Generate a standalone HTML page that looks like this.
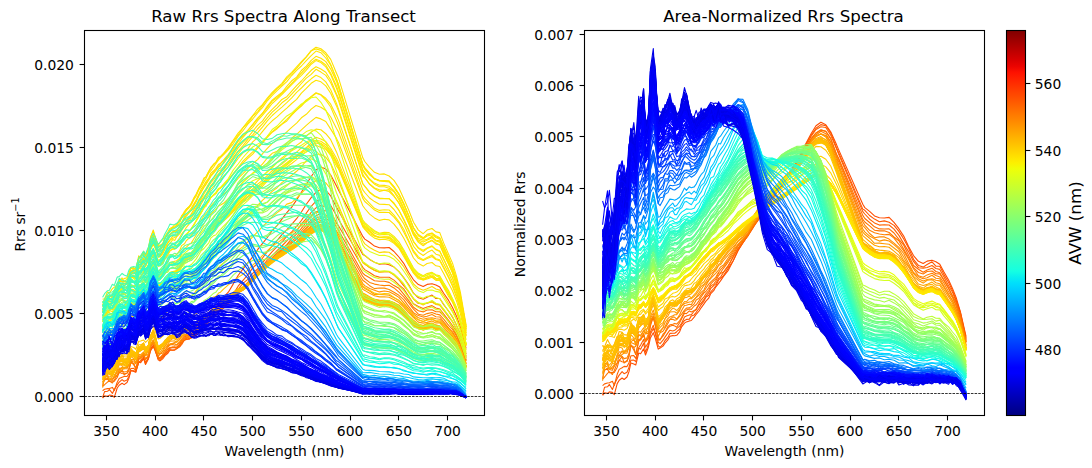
<!DOCTYPE html>
<html lang="en"><head><meta charset="utf-8"><title>Rrs spectra along transect</title>
<style>html,body{margin:0;padding:0;background:#fff}svg{display:block}</style></head>
<body>
<svg width="1092" height="468" viewBox="0 0 1092 468" font-family="'DejaVu Sans', 'Liberation Sans', sans-serif" font-size="13.89px" fill="#000">
<rect width="1092" height="468" fill="#fff"/>
<defs>
<clipPath id="cl"><rect x="84.5" y="30.5" width="400.0" height="385.0"/></clipPath>
<clipPath id="cr"><rect x="584.5" y="30.5" width="400.0" height="385.0"/></clipPath>
<linearGradient id="jet" x1="0" y1="1" x2="0" y2="0">
<stop offset="0.0000" stop-color="#000080"/>
<stop offset="0.0156" stop-color="#000092"/>
<stop offset="0.0312" stop-color="#0000a4"/>
<stop offset="0.0469" stop-color="#0000b6"/>
<stop offset="0.0625" stop-color="#0000c8"/>
<stop offset="0.0781" stop-color="#0000da"/>
<stop offset="0.0938" stop-color="#0000ec"/>
<stop offset="0.1094" stop-color="#0000fe"/>
<stop offset="0.1250" stop-color="#0000ff"/>
<stop offset="0.1406" stop-color="#0010ff"/>
<stop offset="0.1562" stop-color="#0020ff"/>
<stop offset="0.1719" stop-color="#0030ff"/>
<stop offset="0.1875" stop-color="#0040ff"/>
<stop offset="0.2031" stop-color="#0050ff"/>
<stop offset="0.2188" stop-color="#0060ff"/>
<stop offset="0.2344" stop-color="#0070ff"/>
<stop offset="0.2500" stop-color="#0080ff"/>
<stop offset="0.2656" stop-color="#008fff"/>
<stop offset="0.2812" stop-color="#009fff"/>
<stop offset="0.2969" stop-color="#00afff"/>
<stop offset="0.3125" stop-color="#00bfff"/>
<stop offset="0.3281" stop-color="#00cfff"/>
<stop offset="0.3438" stop-color="#00dffc"/>
<stop offset="0.3594" stop-color="#08efef"/>
<stop offset="0.3750" stop-color="#15ffe2"/>
<stop offset="0.3906" stop-color="#21ffd5"/>
<stop offset="0.4062" stop-color="#2effc9"/>
<stop offset="0.4219" stop-color="#3bffbc"/>
<stop offset="0.4375" stop-color="#48ffaf"/>
<stop offset="0.4531" stop-color="#55ffa2"/>
<stop offset="0.4688" stop-color="#62ff95"/>
<stop offset="0.4844" stop-color="#6fff88"/>
<stop offset="0.5000" stop-color="#7bff7b"/>
<stop offset="0.5156" stop-color="#88ff6f"/>
<stop offset="0.5312" stop-color="#95ff62"/>
<stop offset="0.5469" stop-color="#a2ff55"/>
<stop offset="0.5625" stop-color="#afff48"/>
<stop offset="0.5781" stop-color="#bcff3b"/>
<stop offset="0.5938" stop-color="#c9ff2e"/>
<stop offset="0.6094" stop-color="#d5ff21"/>
<stop offset="0.6250" stop-color="#e2ff15"/>
<stop offset="0.6406" stop-color="#effe08"/>
<stop offset="0.6562" stop-color="#fcf000"/>
<stop offset="0.6719" stop-color="#ffe100"/>
<stop offset="0.6875" stop-color="#ffd200"/>
<stop offset="0.7031" stop-color="#ffc300"/>
<stop offset="0.7188" stop-color="#ffb500"/>
<stop offset="0.7344" stop-color="#ffa600"/>
<stop offset="0.7500" stop-color="#ff9700"/>
<stop offset="0.7656" stop-color="#ff8800"/>
<stop offset="0.7812" stop-color="#ff7a00"/>
<stop offset="0.7969" stop-color="#ff6b00"/>
<stop offset="0.8125" stop-color="#ff5c00"/>
<stop offset="0.8281" stop-color="#ff4d00"/>
<stop offset="0.8438" stop-color="#ff3f00"/>
<stop offset="0.8594" stop-color="#ff3000"/>
<stop offset="0.8750" stop-color="#ff2100"/>
<stop offset="0.8906" stop-color="#fe1200"/>
<stop offset="0.9062" stop-color="#ec0400"/>
<stop offset="0.9219" stop-color="#da0000"/>
<stop offset="0.9375" stop-color="#c80000"/>
<stop offset="0.9531" stop-color="#b60000"/>
<stop offset="0.9688" stop-color="#a40000"/>
<stop offset="0.9844" stop-color="#920000"/>
<stop offset="1.0000" stop-color="#800000"/>
</linearGradient>
</defs>
<g clip-path="url(#cl)"><g transform="scale(.1)" fill="none" stroke-width="11" stroke-linejoin="round">
<path d="M1026 3980l20-21 29 4 19-12 30 4 19 19 29-94 20-28 29-19 20 13 29-21 19-43 20-77 29 9 20 9 29-101 19 6 30-41 19 52 29-67 20-78 29-44 19 45 30 94 19-9 29-16 20-25 29-28 20-30 29-7 19 2 20-4 29-30 20-42 29-32 19-9 30-9 19-4 29-28 20-24 29-28 20-27 29-33 19-24 29-26 20-37 29-24 20-31 29-31 19-21 30-38 48-52 49-81 49-86 49-66 48-60 49-61 49-71 48-61 49-61 49-70 49-49 48-64 49-65 49-56 49-72 48-76 49-80 49-78 48-65 49-31 49 21 49 60 58 109 20 40 243 465 20 27 48 32 49 38 49 16 49 2 48-4 49 40 49 55 48 63 49 89 49 76 49 48 48 19 39-21 49-7 39 13 39 21 39 61 49 72 39 71 39 84 39 110 58 214" stroke="#ff4d00"/>
<path d="M1026 3975l20-59 29-3 19-18 30 39 19-39 29-46 20-27 29-26 20 16 29-11 19-36 20-57 29-1 20 11 29-102 19 7 30-46 19 68 29-56 20-81 29-44 19 37 30 97 19 11 29-24 20-29 29-23 20-31 29-1 19 0 20-12 29-20 20-37 29-30 19-8 30-3 19-24 29-7 20-20 29-32 20-26 29-28 19-30 29-16 20-27 29-25 20-18 29-48 19-11 30-22 48-57 49-57 49-81 49-59 48-54 49-70 49-46 48-50 49-67 49-55 49-54 48-60 49-48 49-56 49-56 48-67 49-77 49-67 48-53 49-28 49 9 49 55 58 114 20 35 243 437 20 10 48 39 49 28 49 20 49-5 48 10 49 24 49 46 48 59 49 69 49 87 49 46 48 14 39-20 49-21 39 34 39 0 39 61 49 64 39 61 39 80 39 88 58 202" stroke="#ff5700"/>
<path d="M1026 3907l20-14 29-7 19-1 30-11 19 31 29-83 20-36 29-13 20-9 29 1 19-26 20-54 29-1 20 21 29-80 19-18 30-42 19 57 29-34 20-78 29-50 19 51 30 74 19 10 29-24 20-24 29-31 20-20 29 6 19-5 20-13 29-18 20-20 29-48 19-6 30-9 19-1 29-27 20-10 29-37 20-12 29-27 19-25 29-25 20-32 29-21 20-13 29-39 19-10 30-34 48-45 49-76 49-56 49-59 48-41 49-60 49-43 48-65 49-52 49-57 49-50 48-46 49-57 49-43 49-57 48-58 49-74 49-68 48-51 49-20 49 6 49 56 58 102 20 37 243 427 20 17 48 39 49 27 49 17 49-3 48 1 49 31 49 47 48 60 49 59 49 73 49 47 48 2 39-4 49-15 39 22 39 7 39 52 49 69 39 48 39 74 39 82 58 194" stroke="#ff6100"/>
<path d="M1026 3856l20-64 29-3 19 25 30-4 19 2 29-37 20-52 29 12 20 3 29-6 19-40 20-80 29 37 20 32 29-101 19-5 30-32 19 48 29-26 20-88 29-72 19 62 30 112 19-6 29-25 20-23 29-33 20-16 29-6 19 4 20 10 29-33 20-29 29-39 19 2 30-19 19 7 29-10 20-12 29-39 20-25 29-23 19-22 29-24 20-34 29-12 20-21 29-41 19-16 30-10 48-50 49-57 49-66 49-43 48-44 49-61 49-52 48-51 49-59 49-45 49-49 48-47 49-52 49-44 49-51 48-74 49-53 49-63 48-45 49-22 49 10 49 52 58 113 20 27 243 416 20 22 48 29 49 32 49 14 49 1 48 0 49 29 49 47 48 41 49 74 49 74 49 27 48 21 39-15 49-14 39 24 39 10 39 52 49 62 39 52 39 57 39 88 58 181" stroke="#ff6d00"/>
<path d="M1026 3862l20-15 29-26 19-11 30 20 19-29 29-52 20-20 29-26 20 46 29-18 19-25 20-82 29 14 20 50 29-92 19-22 30-33 19 50 29-27 20-92 29-47 19 54 30 91 19 16 29-42 20-14 29-40 20-12 29-4 19-6 20 5 29-24 20-22 29-42 19-11 30-8 19 3 29-24 20-10 29-29 20-25 29-29 19-10 29-28 20-26 29-21 20-12 29-43 19-3 30-31 48-46 49-52 49-60 49-46 48-40 49-55 49-49 48-52 49-56 49-45 49-50 48-37 49-44 49-60 49-45 48-57 49-62 49-65 48-37 49-23 49 11 49 51 58 114 20 30 243 429 20 18 48 28 49 30 49 5 49-1 48 12 49 32 49 27 48 59 49 62 49 69 49 35 48 11 39-19 49-3 39 20 39 1 39 40 49 59 39 61 39 66 39 83 58 173" stroke="#ff7500"/>
<path d="M1026 3820l20-19 29-16 19 12 30 5 19-32 29-18 20-56 29 10 20 14 29-5 19-30 20-59 29 16 20-8 29-50 19 6 30-43 19 50 29-49 20-85 29-37 19 57 30 82 19-26 29-10 20-22 29-33 20-27 29-1 19 7 20-5 29-23 20-16 29-27 19-15 30-1 19-10 29-19 20-27 29-11 20-24 29-25 19-20 29-30 20-16 29-18 20-13 29-36 19-17 30-24 48-43 49-56 49-49 49-35 48-40 49-63 49-45 48-55 49-44 49-53 49-50 48-46 49-43 49-43 49-41 48-60 49-59 49-52 48-40 49-27 49 17 49 58 58 103 20 32 243 422 20 24 48 36 49 17 49 9 49 6 48-3 49 26 49 43 48 46 49 59 49 65 49 50 48 10 39-16 49-11 39 15 39 9 39 42 49 62 39 42 39 64 39 82 58 165" stroke="#ff8000"/>
<path d="M1026 3787l20-28 29 2 19 33 30-4 19-14 29-82 20 9 29-33 20 13 29-14 19-22 20-36 29 9 20 6 29-65 19 0 30-32 19 22 29-4 20-89 29-30 19 32 30 78 19 0 29-27 20-8 29-45 20-7 29-17 19 3 20 13 29-31 20-28 29-36 19-1 30-8 19 4 29-33 20-17 29-17 20-19 29-18 19-29 29-35 20-13 29-23 20-13 29-23 19-22 30-13 48-51 49-50 49-44 49-38 48-37 49-55 49-46 48-58 49-60 49-35 49-46 48-50 49-28 49-47 49-37 48-62 49-55 49-58 48-36 49-16 49 12 49 47 58 102 20 51 243 424 20 15 48 40 49 29 49-6 49 1 48 14 49 28 49 30 48 43 49 68 49 63 49 29 48 15 39-8 49-17 39 21 39 3 39 48 49 61 39 40 39 64 39 68 58 161" stroke="#ff8a00"/>
<path d="M1026 3877l20-117 29-5 19 46 30-19 19-14 29-47 20-5 29-20 20-9 29 0 19-42 20-36 29-16 20 41 29-76 19 13 30-34 19 14 29-14 20-87 29-36 19 48 30 79 19-7 29-23 20-34 29-27 20-11 29-7 19-8 20-1 29-27 20-32 29-17 19-3 30-7 19-2 29-17 20-15 29-30 20-20 29-31 19-11 29-26 20-18 29-33 20-11 29-37 19-6 30-28 48-39 49-38 49-59 49-27 48-35 49-51 49-51 48-54 49-44 49-59 49-35 48-45 49-29 49-58 49-34 48-48 49-54 49-62 48-29 49-16 49 15 49 58 58 102 20 47 243 429 20 20 48 29 49 17 49 17 49-9 48 8 49 25 49 31 48 54 49 61 49 52 49 36 48 16 39-11 49-5 39 11 39 4 39 41 49 52 39 47 39 62 39 81 58 156" stroke="#ff9300"/>
<path d="M1026 3817l20-31 29-8 19-7 30-23 19 0 29-33 20-34 29 3 20-8 29-7 19-14 20-59 29-4 20 29 29-77 19 5 30-31 19 40 29-58 20-59 29-43 19 44 30 89 19-15 29-20 20-40 29-17 20-28 29-1 19-1 20 10 29-28 20-23 29-28 19 3 30-24 19 3 29-17 20-16 29-27 20-24 29-15 19-18 29-32 20-22 29-16 20-15 29-30 19-13 30-30 48-43 49-35 49-38 49-28 48-43 49-54 49-52 48-45 49-49 49-46 49-48 48-32 49-38 49-31 49-46 48-55 49-57 49-48 48-39 49-16 49 20 49 58 58 112 20 28 243 447 20 15 48 26 49 35 49-1 49 3 48 5 49 25 49 26 48 58 49 46 49 62 49 28 48 18 39-20 49-4 39 22 39 7 39 37 49 51 39 43 39 63 39 76 58 151" stroke="#ff9b00"/>
<path d="M1026 3835l20-48 29-43 19 55 30-40 19 4 29-60 20-55 29 7 20 32 29-32 19-10 20-80 29 21 20 10 29-74 19-18 30-18 19 48 29-22 20-109 29-74 19 71 30 123 19-26 29-14 20-24 29-42 20-11 29-21 19 5 20 11 29-22 20-32 29-34 19 0 30-10 19 14 29-25 20-15 29-30 20-25 29-16 19-26 29-20 20-24 29-11 20-17 29-41 19-1 30-29 48-44 49-36 49-45 49-25 48-38 49-50 49-48 48-50 49-48 49-47 49-40 48-47 49-21 49-39 49-40 48-44 49-63 49-42 48-37 49-12 49 24 49 46 58 116 20 25 243 461 20 11 48 29 49 25 49 11 49-2 48 5 49 26 49 28 48 46 49 55 49 50 49 44 48 10 39-7 49-15 39 20 39 0 39 45 49 55 39 36 39 58 39 71 58 147" stroke="#ffa500"/>
<path d="M1026 3745l20-23 29 9 19 12 30-11 19-21 29-29 20-47 29 9 20 5 29-25 19-12 20-54 29 2 20 10 29-53 19-8 30-19 19 16 29-25 20-62 29-52 19 38 30 89 19-19 29-21 20-14 29-34 20-12 29-19 19 2 20-18 29-3 20-8 29-35 19-13 30 1 19-7 29-20 20-18 29-24 20-16 29-32 19-9 29-24 20-17 29-21 20-23 29-19 19-17 30-27 48-36 49-44 49-31 49-15 48-48 49-50 49-43 48-52 49-53 49-36 49-45 48-25 49-44 49-40 49-24 48-47 49-60 49-42 48-36 49-11 49 12 49 57 58 117 20 42 243 456 20 11 48 28 49 26 49 6 49 4 48 4 49 19 49 23 48 47 49 60 49 44 49 40 48 15 39-20 49-5 39 18 39 11 39 35 49 49 39 39 39 65 39 65 58 153" stroke="#ffb000"/>
<path d="M1026 3637l20 28 29-32 19 18 30-2 19-21 29-52 20 5 29-31 20 42 29-6 19-41 20-48 29 35 20 15 29-75 19-7 30-36 19 71 29-49 20-89 29-46 19 51 30 94 19 0 29-27 20-27 29-37 20 4 29-27 19 13 20 0 29-15 20-18 29-38 19-5 30-10 19 8 29-32 20-7 29-25 20-18 29-22 19-14 29-27 20-26 29-16 20-9 29-37 19-5 30-29 48-40 49-28 49-35 49-25 48-36 49-61 49-41 48-53 49-41 49-42 49-55 48-28 49-23 49-35 49-43 48-40 49-47 49-50 48-28 49 0 49-1 49 66 58 113 20 40 243 466 20 8 48 38 49 15 49 14 49-11 48 11 49 23 49 27 48 37 49 61 49 53 49 33 48 7 39-8 49-6 39 16 39-3 39 43 49 52 39 34 39 60 39 69 58 144" stroke="#ffb900"/>
<path d="M1026 3733l20-3 29-59 19 33 30 14 19-27 29-47 20-41 29-2 20 15 29 14 19-2 20-101 29 38 20-2 29-90 19 5 30-24 19 54 29-37 20-93 29-52 19 56 30 94 19 0 29-33 20-23 29-33 20-20 29-11 19 2 20 4 29-15 20-25 29-45 19 4 30-2 19-12 29-14 20-11 29-24 20-35 29-13 19-17 29-21 20-18 29-16 20-25 29-32 19-5 30-19 48-43 49-44 49-44 49-6 48-23 49-67 49-52 48-48 49-55 49-35 49-47 48-32 49-30 49-30 49-37 48-48 49-47 49-43 48-31 49-10 49 11 49 62 58 119 20 35 243 468 20 16 48 23 49 19 49 10 49 6 48-1 49 12 49 40 48 48 49 53 49 54 49 29 48 9 39-12 49-5 39 14 39 15 39 31 49 48 39 37 39 56 39 70 58 149" stroke="#ffb800"/>
<path d="M1026 3803l20-56 29-19 19-1 30 31 19-37 29-50 20-34 29 0 20-11 29 13 19-33 20-51 29 4 20 25 29-84 19 1 30-25 19 43 29-40 20-85 29-45 19 49 30 87 19-3 29-33 20-19 29-17 20-43 29 0 19 9 20-8 29-15 20-40 29-18 19 4 30-17 19 1 29-30 20 1 29-20 20-33 29-21 19-15 29-16 20-36 29-23 20 2 29-46 19-1 30-38 48-26 49-42 49-36 49-10 48-42 49-54 49-41 48-53 49-56 49-40 49-31 48-35 49-38 49-23 49-37 48-48 49-55 49-37 48-31 49-12 49 19 49 53 58 115 20 29 243 472 20 13 48 17 49 25 49 29 49-17 48 7 49 24 49 35 48 41 49 55 49 53 49 22 48 15 39-6 49-16 39 17 39 5 39 39 49 49 39 41 39 59 39 62 58 145" stroke="#ffb700"/>
<path d="M1026 3740l20 8 29-36 19 13 30-15 19 0 29-65 20-1 29 1 20-23 29 7 19-26 20-58 29 18 20 27 29-104 19 4 30-28 19 56 29-43 20-91 29-55 19 68 30 96 19-22 29-7 20-33 29-38 20-22 29-5 19 19 20-14 29-10 20-28 29-39 19-2 30-9 19-14 29-3 20-14 29-20 20-23 29-21 19-19 29-21 20-27 29-18 20-12 29-30 19-8 30-32 48-41 49-32 49-30 49-34 48-26 49-48 49-59 48-43 49-46 49-46 49-41 48-41 49-32 49-24 49-26 48-54 49-52 49-39 48-32 49-14 49 26 49 66 58 99 20 40 243 468 20 12 48 26 49 17 49 16 49-7 48 4 49 25 49 30 48 42 49 50 49 55 49 25 48 22 39-14 49-11 39 19 39-1 39 38 49 59 39 42 39 48 39 62 58 144" stroke="#ffb800"/>
<path d="M1026 3737l20-41 29 16 19 31 30-15 19-27 29-63 20-37 29 6 20 18 29-5 19-22 20-67 29 22 20-16 29-59 19 12 30-28 19 46 29-27 20-99 29-50 19 38 30 114 19-7 29-22 20-31 29-38 20-21 29-16 19 15 20-11 29-15 20-23 29-19 19-11 30-15 19-6 29-10 20-18 29-22 20-21 29-22 19-24 29-22 20-21 29-16 20-20 29-31 19-3 30-36 48-31 49-44 49-33 49-17 48-45 49-49 49-42 48-54 49-56 49-40 49-37 48-30 49-34 49-33 49-30 48-41 49-66 49-34 48-26 49-6 49 0 49 69 58 112 20 31 243 481 20 10 48 27 49 14 49 16 49-1 48 6 49 17 49 40 48 29 49 63 49 47 49 40 48 11 39-11 49-14 39 22 39 2 39 47 49 44 39 38 39 52 39 69 58 145" stroke="#ffb800"/>
<path d="M1026 3642l20 6 29-48 19 25 30 30 19-10 29-52 20-48 29 6 20 16 29 3 19-34 20-23 29 0 20 23 29-67 19-9 30-29 19 52 29-24 20-94 29-65 19 73 30 104 19-22 29-25 20-27 29-17 20-34 29 6 19 5 20-3 29-22 20-28 29-27 19-3 30-9 19 2 29-20 20-1 29-26 20-33 29-11 19-22 29-24 20-22 29-16 20-25 29-11 19-25 30-31 48-26 49-47 49-27 49-24 48-36 49-48 49-45 48-49 49-56 49-30 49-40 48-37 49-32 49-30 49-24 48-56 49-42 49-47 48-33 49-10 49 15 49 66 58 102 20 39 243 473 20 13 48 24 49 17 49 4 49 4 48 19 49 2 49 41 48 41 49 51 49 51 49 28 48 24 39-18 49-9 39 7 39 20 39 30 49 54 39 38 39 54 39 73 58 132" stroke="#ffbc00"/>
<path d="M1026 3675l20-22 29-19 19 4 30 7 19-6 29-55 20-17 29 16 20 11 29-9 19-31 20-73 29 39 20 14 29-87 19 1 30-14 19 57 29-38 20-90 29-64 19 52 30 127 19-27 29-9 20-31 29-30 20-18 29-13 19 9 20-10 29-14 20-25 29-27 19 1 30-8 19 3 29-25 20-9 29-37 20-17 29-23 19-13 29-24 20-27 29-16 20-8 29-38 19-17 30-11 48-35 49-48 49-30 49-32 48-30 49-48 49-46 48-51 49-52 49-39 49-43 48-27 49-31 49-32 49-25 48-56 49-44 49-44 48-29 49-18 49 21 49 65 58 106 20 44 243 460 20 12 48 32 49 12 49 11 49 2 48 8 49 18 49 34 48 45 49 47 49 53 49 38 48 2 39-3 49-9 39 7 39 11 39 38 49 60 39 30 39 56 39 71 58 138" stroke="#ffbc00"/>
<path d="M1026 3797l20-35 29-31 19 15 30 7 19-42 29-38 20-37 29-3 20 13 29 12 19-53 20-57 29 20 20 24 29-83 19-6 30-31 19 54 29-32 20-103 29-68 19 56 30 137 19-36 29-15 20-31 29-39 20-16 29-2 19-11 20 21 29-28 20-33 29-23 19-11 30-3 19-12 29 3 20-19 29-33 20-19 29-17 19-24 29-22 20-28 29-18 20-15 29-30 19-6 30-17 48-45 49-38 49-41 49-14 48-37 49-53 49-45 48-44 49-49 49-46 49-36 48-31 49-34 49-31 49-25 48-46 49-48 49-43 48-32 49-12 49 17 49 60 58 108 20 35 243 464 20 11 48 26 49 15 49 17 49 9 48-2 49 11 49 33 48 56 49 37 49 60 49 36 48 6 39-12 49-9 39 18 39-4 39 43 49 49 39 42 39 50 39 77 58 127" stroke="#ffb900"/>
<path d="M1026 3734l20-30 29-9 19 10 30 29 19-39 29-42 20-59 29 5 20 4 29 16 19-26 20-73 29 28 20 11 29-82 19 8 30-39 19 59 29-34 20-110 29-60 19 72 30 114 19 3 29-41 20-28 29-19 20-38 29-8 19 14 20-2 29-18 20-36 29-19 19-13 30-14 19 9 29-18 20-11 29-23 20-28 29-25 19-9 29-31 20-30 29-14 20-3 29-36 19-4 30-37 48-37 49-30 49-41 49-23 48-37 49-40 49-58 48-45 49-54 49-40 49-34 48-32 49-35 49-32 49-33 48-39 49-61 49-40 48-27 49-10 49 17 49 63 58 110 20 40 243 461 20 27 48 18 49 13 49 16 49 0 48 1 49 24 49 33 48 44 49 55 49 52 49 22 48 24 39-16 49-20 39 30 39 0 39 44 49 42 39 45 39 46 39 83 58 128" stroke="#ffba00"/>
<path d="M1026 3729l20-37 29 8 19 10 30-36 19 16 29-82 20 3 29 6 20-16 29-6 19 6 20-79 29 30 20-6 29-44 19 6 30-45 19 35 29-44 20-72 29-34 19 48 30 85 19-9 29-19 20-30 29-13 20-37 29-7 19-15 20 9 29-11 20-27 29-16 19-11 30 1 19-24 29-12 20-5 29-32 20-25 29-21 19-15 29-18 20-23 29-22 20-19 29-22 19-9 30-34 48-38 49-38 49-34 49-16 48-44 49-53 49-42 48-50 49-43 49-46 49-34 48-36 49-30 49-24 49-31 48-45 49-51 49-36 48-31 49-12 49 10 49 68 58 118 20 36 243 455 20 18 48 25 49 18 49 10 49-4 48 9 49 25 49 25 48 43 49 52 49 53 49 31 48 8 39-11 49-8 39 19 39-4 39 47 49 47 39 37 39 50 39 65 58 152" stroke="#ffbd00"/>
<path d="M1026 3744l20-34 29-17 19-15 30-5 19-20 29-20 20-37 29-7 20 23 29 0 19-56 20-29 29 7 20 28 29-73 19 12 30-41 19 34 29-42 20-74 29-41 19 50 30 97 19-12 29-28 20-17 29-39 20-7 29-2 19-3 20 3 29-21 20-37 29-20 19-9 30-10 19-4 29-7 20-24 29-21 20-18 29-25 19-7 29-27 20-26 29-21 20-11 29-31 19-15 30-25 48-37 49-31 49-35 49-33 48-25 49-61 49-44 48-38 49-49 49-37 49-36 48-41 49-28 49-30 49-42 48-32 49-44 49-47 48-28 49-4 49 21 49 56 58 109 20 31 243 469 20 6 48 24 49 28 49 14 49-4 48-1 49 18 49 26 48 48 49 49 49 58 49 21 48 30 39-18 49-17 39 19 39 6 39 34 49 55 39 33 39 52 39 70 58 137" stroke="#ffbe00"/>
<path d="M1026 3773l20-60 29-35 19 4 30 24 19-33 29-20 20-44 29 8 20 0 29-1 19-37 20-33 29-8 20 34 29-70 19-13 30-17 19 38 29-39 20-85 29-55 19 55 30 97 19 1 29-34 20-22 29-32 20-22 29-9 19 15 20-1 29-28 20-29 29-29 19-9 30-6 19 2 29-14 20-8 29-29 20-23 29-27 19-16 29-23 20-23 29-20 20-14 29-32 19-9 30-19 48-44 49-35 49-47 49-12 48-33 49-63 49-41 48-44 49-46 49-43 49-36 48-24 49-49 49-18 49-35 48-45 49-48 49-28 48-36 49-9 49 13 49 62 58 109 20 36 243 468 20 18 48 18 49 21 49 17 49-8 48-1 49 26 49 32 48 36 49 57 49 57 49 22 48 9 39-5 49-9 39 13 39 9 39 46 49 36 39 46 39 52 39 63 58 134" stroke="#ffbd00"/>
<path d="M1026 3782l20-42 29-30 19 13 30-4 19-6 29-46 20-33 29-42 20 68 29-16 19-57 20-56 29 35 20 14 29-99 19-7 30-13 19 49 29-34 20-112 29-58 19 70 30 126 19-24 29-35 20-23 29-27 20-37 29 17 19-6 20 10 29-26 20-28 29-41 19 8 30-2 19 5 29-27 20-9 29-34 20-15 29-27 19-23 29-18 20-30 29-14 20-12 29-27 19-20 30-20 48-28 49-38 49-50 49-20 48-41 49-48 49-35 48-62 49-41 49-40 49-36 48-22 49-35 49-42 49-21 48-52 49-49 49-33 48-30 49-7 49 18 49 60 58 108 20 39 243 463 20 12 48 17 49 22 49 21 49-4 48-2 49 26 49 33 48 40 49 55 49 52 49 24 48 22 39-21 49-10 39 16 39 6 39 36 49 58 39 30 39 53 39 63 58 143" stroke="#ffbd00"/>
<path d="M1026 3715l20-10 29-32 19 9 30-7 19-33 29-24 20 4 29-15 20 14 29-9 19-42 20-42 29 20 20 3 29-50 19 1 30-25 19 31 29-52 20-50 29-61 19 39 30 92 19-9 29-18 20-29 29-32 20-14 29-14 19-1 20 3 29-17 20-18 29-28 19 0 30-15 19-4 29-11 20-30 29-10 20-19 29-29 19-5 29-30 20-18 29-21 20-19 29-32 19-14 30-22 48-37 49-41 49-27 49-30 48-37 49-40 49-47 48-48 49-53 49-39 49-36 48-35 49-28 49-32 49-26 48-45 49-52 49-37 48-28 49-15 49 28 49 55 58 101 20 38 243 474 20 7 48 23 49 15 49 9 49 0 48 12 49 12 49 34 48 37 49 60 49 48 49 36 48 11 39-14 49-1 39 10 39 12 39 37 49 42 39 40 39 60 39 64 58 130" stroke="#ffbe00"/>
<path d="M1026 3688l20-7 29-33 19 32 30 27 19-23 29-72 20-29 29 20 20 6 29 0 19-10 20-70 29-4 20 12 29-51 19-22 30-6 19 52 29-23 20-114 29-37 19 27 30 113 19-7 29-9 20-50 29-15 20-21 29 6 19-16 20-1 29-10 20-28 29-31 19-9 30 1 19-11 29-6 20-12 29-28 20-10 29-32 19-25 29-20 20-18 29-22 20-5 29-39 19-13 30-24 48-39 49-32 49-30 49-35 48-35 49-47 49-54 48-31 49-56 49-39 49-35 48-25 49-35 49-33 49-38 48-32 49-43 49-48 48-36 49 0 49 28 49 57 58 100 20 50 243 457 20 17 48 19 49 20 49 4 49-1 48 5 49 24 49 27 48 52 49 45 49 48 49 36 48 10 39-9 49-16 39 24 39-4 39 46 49 40 39 41 39 48 39 70 58 143" stroke="#ffc000"/>
<path d="M1026 3743l20-24 29-3 19 13 30 17 19-22 29-81 20-33 29 3 20 16 29 19 19-49 20-46 29 5 20 8 29-87 19 13 30-33 19 47 29-41 20-76 29-64 19 50 30 109 19 5 29-36 20-24 29-48 20-8 29-2 19 7 20-8 29-19 20-17 29-40 19 3 30-4 19 2 29-15 20-18 29-27 20-30 29-25 19-11 29-19 20-35 29-1 20-17 29-46 19-6 30-26 48-28 49-47 49-29 49-22 48-45 49-42 49-53 48-43 49-43 49-50 49-29 48-35 49-34 49-32 49-25 48-44 49-44 49-38 48-38 49-9 49 17 49 68 58 97 20 41 243 471 20 11 48 23 49 17 49 15 49-5 48 8 49 16 49 35 48 39 49 54 49 52 49 33 48 6 39-5 49-13 39 26 39-7 39 34 49 56 39 48 39 43 39 67 58 135" stroke="#ffbd00"/>
<path d="M1026 3679l20-13 29-10 19-12 30 39 19-36 29-41 20-15 29-15 20 19 29 6 19-57 20-36 29 9 20 26 29-72 19-2 30-28 19 32 29-11 20-82 29-40 19 69 30 70 19-18 29-26 20-16 29-38 20-19 29 4 19-10 20-3 29-10 20-13 29-41 19 2 30-4 19-6 29-13 20-23 29-24 20-22 29-20 19-8 29-28 20-27 29-11 20-32 29-15 19-8 30-31 48-33 49-40 49-37 49-23 48-39 49-41 49-48 48-50 49-42 49-48 49-29 48-33 49-30 49-26 49-35 48-42 49-42 49-41 48-27 49-5 49 11 49 68 58 105 20 36 243 462 20 18 48 17 49 19 49 14 49 10 48-9 49 17 49 47 48 34 49 42 49 58 49 29 48 13 39-9 49-18 39 18 39 4 39 46 49 47 39 32 39 48 39 71 58 131" stroke="#ffc200"/>
<path d="M1026 3682l20-31 29-31 19-1 30 1 19-8 29-49 20-29 29 19 20-4 29 1 19-37 20-48 29 10 20 18 29-81 19-2 30-10 19 24 29-28 20-102 29-27 19 41 30 81 19-6 29-24 20-38 29-20 20-24 29-11 19 14 20-20 29-14 20-23 29-19 19-18 30-7 19-1 29-35 20-7 29-25 20-23 29-29 19-19 29-23 20-27 29-21 20-4 29-35 19-8 30-30 48-43 49-37 49-38 49-31 48-42 49-50 49-42 48-52 49-49 49-48 49-29 48-36 49-41 49-23 49-33 48-45 49-48 49-42 48-40 49 3 49 25 49 55 58 115 20 44 243 493 20 17 48 27 49 29 49 13 49-8 48 3 49 35 49 34 48 36 49 63 49 46 49 45 48 17 39-13 49-10 39 16 39 1 39 39 49 49 39 53 39 56 39 77 58 160" stroke="#ffc600"/>
<path d="M1026 3496l20-38 29-28 19 13 30 4 19 7 29-64 20-13 29 3 20 8 29-16 19-39 20-27 29-21 20 17 29-55 19-6 30-34 19 34 29-30 20-83 29-60 19 64 30 76 19-16 29-19 20-33 29-30 20-24 29-7 19 6 20-8 29-25 20-33 29-36 19-4 30-6 19-10 29-28 20-29 29-29 20-22 29-27 19-28 29-28 20-25 29-22 20-26 29-25 19-20 30-24 48-42 49-39 49-45 49-38 48-47 49-51 49-50 48-51 49-45 49-53 49-43 48-33 49-52 49-15 49-44 48-48 49-53 49-37 48-38 49-5 49 28 49 61 58 126 20 41 243 571 20 14 48 32 49 31 49 18 49-6 48 1 49 32 49 43 48 49 49 80 49 67 49 36 48 25 39-23 49-6 39 24 39 8 39 51 49 55 39 58 39 73 39 98 58 177" stroke="#ffd000"/>
<path d="M1026 3416l20-25 29-42 19-9 30 11 19-26 29-37 20-22 29-4 20-11 29 2 19-32 20-62 29 8 20 4 29-44 19-30 30-22 19 33 29-45 20-99 29-43 19 50 30 82 19-17 29-24 20-44 29-14 20-21 29-25 19-6 20-8 29-29 20-34 29-21 19-14 30-14 19-26 29-35 20-18 29-46 20-21 29-42 19-16 29-27 20-30 29-20 20-19 29-44 19-15 30-32 48-35 49-57 49-43 49-45 48-47 49-48 49-61 48-51 49-44 49-46 49-37 48-51 49-36 49-37 49-40 48-48 49-57 49-42 48-23 49-1 49 31 49 63 58 123 20 49 243 600 20 31 48 36 49 27 49 24 49-7 48 3 49 37 49 49 48 59 49 84 49 89 49 43 48 20 39-15 49-23 39 25 39 11 39 54 49 82 39 71 39 79 39 94 58 221" stroke="#ffd700"/>
<path d="M1026 3264l20 20 29-25 19-10 30 8 19-27 29-66 20-46 29-1 20 27 29-11 19-50 20-61 29-5 20 20 29-82 19-23 30-57 19 59 29-40 20-121 29-51 19 59 30 95 19-8 29-33 20-32 29-42 20-23 29-22 19-3 20 0 29-38 20-20 29-52 19-29 30-21 19-7 29-34 20-22 29-55 20-35 29-26 19-35 29-36 20-32 29-16 20-28 29-27 19-23 30-20 48-51 49-45 49-54 49-55 48-46 49-46 49-51 48-43 49-53 49-47 49-44 48-43 49-36 49-43 49-46 48-34 49-60 49-40 48-29 49 7 49 39 49 60 58 122 20 52 243 631 20 24 48 43 49 39 49 24 49-10 48 4 49 38 49 55 48 78 49 92 49 92 49 52 48 24 39-21 49-12 39 24 39 11 39 69 49 78 39 81 39 85 39 118 58 246" stroke="#ffe000"/>
<path d="M1026 3295l20-42 29-21 19 22 30-12 19-27 29-65 20-48 29 30 20-11 29 29 19-54 20-73 29 29 20 10 29-113 19-9 30-39 19 58 29-74 20-88 29-54 19 30 30 110 19-2 29-39 20-26 29-40 20-24 29-6 19-13 20-1 29-24 20-35 29-55 19-8 30-22 19-18 29-33 20-18 29-56 20-33 29-35 19-27 29-27 20-32 29-24 20-9 29-42 19-6 30-18 48-41 49-50 49-48 49-48 48-32 49-48 49-37 48-41 49-53 49-42 49-33 48-27 49-40 49-35 49-39 48-42 49-37 49-38 48-26 49 22 49 17 49 62 58 107 20 29 243 578 20 26 48 51 49 36 49 15 49-4 48 11 49 31 49 46 48 85 49 82 49 84 49 57 48 12 39-11 49-16 39 31 39 0 39 72 49 88 39 59 39 87 39 114 58 235" stroke="#ffe600"/>
<path d="M1026 3313l20-37 29-9 19-35 30 23 19-35 29-55 20-18 29-24 20 26 29-10 19-49 20-69 29 9 20 16 29-115 19 6 30-26 19 44 29-50 20-110 29-55 19 49 30 81 19 2 29-26 20-34 29-37 20-37 29-9 19-5 20 20 29-53 20-38 29-49 19-5 30-11 19-28 29-30 20-21 29-51 20-40 29-37 19-20 29-25 20-48 29-3 20-23 29-26 19-20 30-19 48-39 49-50 49-55 49-38 48-45 49-43 49-38 48-41 49-49 49-46 49-31 48-33 49-39 49-42 49-36 48-41 49-30 49-41 48-30 49 11 49 43 49 51 58 102 20 41 243 578 20 28 48 50 49 29 49 12 49 3 48 8 49 39 49 52 48 66 49 105 49 76 49 50 48 25 39-19 49-17 39 31 39 8 39 63 49 75 39 76 39 90 39 118 58 229" stroke="#ffe500"/>
<path d="M1026 3261l20-10 29-47 19 12 30-33 19 19 29-74 20-17 29-8 20 11 29-16 19-13 20-53 29-20 20 28 29-101 19 4 30-40 19 32 29-51 20-79 29-48 19 34 30 66 19-9 29-27 20-23 29-31 20-15 29-32 19-6 20-2 29-36 20-31 29-33 19-23 30-21 19-7 29-45 20-28 29-48 20-22 29-38 19-21 29-39 20-28 29-28 20-17 29-27 19-10 30-22 48-47 49-42 49-58 49-41 48-39 49-42 49-47 48-47 49-36 49-40 49-45 48-32 49-34 49-32 49-49 48-29 49-49 49-32 48-31 49 16 49 34 49 57 58 100 20 40 243 596 20 14 48 42 49 40 49 22 49-7 48 5 49 39 49 49 48 79 49 87 49 93 49 48 48 26 39-23 49-11 39 20 39 13 39 62 49 85 39 67 39 94 39 112 58 238" stroke="#ffe600"/>
<path d="M1026 3323l20-43 29-29 19-28 30 19 19-44 29-39 20-20 29-9 20-22 29-5 19-38 20-64 29 18 20 5 29-69 19-15 30-32 19 35 29-73 20-54 29-66 19 35 30 76 19 0 29-32 20-29 29-31 20-31 29-16 19-4 20-17 29-19 20-37 29-34 19-24 30-24 19-19 29-32 20-29 29-43 20-35 29-39 19-25 29-26 20-31 29-16 20-15 29-37 19-10 30-19 48-51 49-40 49-61 49-47 48-46 49-30 49-45 48-38 49-56 49-45 49-39 48-25 49-36 49-38 49-36 48-38 49-40 49-50 48-22 49 8 49 35 49 57 58 109 20 46 243 586 20 18 48 44 49 48 49 15 49-3 48 1 49 36 49 64 48 67 49 77 49 100 49 49 48 28 39-22 49-20 39 35 39 3 39 67 49 76 39 74 39 87 39 124 58 234" stroke="#ffe500"/>
<path d="M1026 3346l20-8 29-53 19-30 30-25 19 2 29-36 20-56 29 22 20-17 29-32 19-29 20-35 29 3 20-19 29-72 19-8 30-49 19 43 29-40 20-115 29-41 19 40 30 83 19-22 29-20 20-42 29-31 20-35 29-8 19-3 20-1 29-37 20-41 29-55 19 6 30-26 19-26 29-40 20-22 29-49 20-21 29-44 19-30 29-38 20-20 29-24 20-22 29-34 19-6 30-17 48-50 49-40 49-61 49-45 48-40 49-41 49-46 48-39 49-51 49-46 49-37 48-29 49-43 49-41 49-35 48-43 49-40 49-31 48-36 49 18 49 26 49 67 58 100 20 43 243 599 20 28 48 40 49 39 49 17 49-4 48 3 49 38 49 59 48 71 49 82 49 100 49 48 48 25 39-18 49-24 39 27 39 22 39 60 49 91 39 66 39 93 39 121 58 236" stroke="#ffe400"/>
<path d="M1026 3286l20-70 29-36 19 19 30-26 19-20 29-53 20-38 29 2 20-6 29-25 19-14 20-86 29 21 20 1 29-99 19-5 30-31 19 43 29-69 20-106 29-72 19 62 30 120 19-28 29-31 20-31 29-43 20-34 29-11 19-8 20-4 29-23 20-50 29-47 19-17 30-30 19-12 29-46 20-33 29-45 20-25 29-43 19-34 29-32 20-30 29-26 20-22 29-34 19-9 30-17 48-47 49-44 49-60 49-61 48-42 49-48 49-46 48-43 49-62 49-47 49-21 48-38 49-42 49-49 49-40 48-44 49-46 49-41 48-38 49 15 49 26 49 76 58 93 20 41 243 632 20 28 48 56 49 38 49 25 49-11 48 6 49 43 49 61 48 77 49 95 49 105 49 56 48 25 39-26 49-10 39 33 39 7 39 69 49 99 39 74 39 100 39 126 58 266" stroke="#ffe000"/>
<path d="M1026 3152l20 24 29-61 19 12 30 19 19-40 29-76 20-14 29-14 20 1 29 18 19-50 20-77 29 2 20 24 29-97 19-15 30-43 19 35 29-51 20-105 29-47 19 41 30 84 19 3 29-45 20-29 29-40 20-39 29-11 19-4 20-11 29-39 20-51 29-19 19-32 30-27 19-27 29-36 20-20 29-70 20-22 29-46 19-20 29-40 20-35 29-33 20-20 29-28 19-15 30-21 48-48 49-52 49-62 49-47 48-49 49-51 49-40 48-58 49-55 49-49 49-34 48-34 49-47 49-45 49-43 48-53 49-35 49-52 48-36 49 17 49 33 49 65 58 114 20 36 243 664 20 31 48 41 49 45 49 23 49 0 48 1 49 47 49 59 48 90 49 95 49 106 49 61 48 21 39-18 49-21 39 30 39 12 39 75 49 95 39 86 39 107 39 126 58 268" stroke="#ffe100"/>
<path d="M1026 3221l20-54 29-24 19-39 30 13 19-34 29-45 20-39 29-17 20-9 29 0 19-44 20-75 29 4 20-4 29-80 19-8 30-55 19 30 29-43 20-114 29-60 19 40 30 98 19-4 29-36 20-45 29-43 20-29 29-19 19 2 20-9 29-43 20-24 29-55 19-11 30-36 19-20 29-42 20-42 29-46 20-37 29-44 19-26 29-52 20-24 29-32 20-14 29-42 19-12 30-27 48-53 49-60 49-62 49-63 48-47 49-46 49-50 48-44 49-60 49-49 49-39 48-38 49-46 49-49 49-44 48-50 49-51 49-28 48-39 49 18 49 51 49 69 58 138 20 50 243 699 20 27 48 49 49 50 49 21 49-6 48 2 49 51 49 65 48 77 49 109 49 105 49 62 48 29 39-24 49-24 39 37 39 12 39 71 49 96 39 81 39 101 39 141 58 273" stroke="#ffe900"/>
<path d="M1026 3190l20-38 29-44 19-10 30 0 19-33 29-65 20-24 29-41 20 1 29 27 19-44 20-47 29-6 20-15 29-61 19-15 30-48 19 17 29-47 20-89 29-63 19 39 30 75 19-13 29-18 20-42 29-36 20-39 29-20 19 2 20-26 29-20 20-45 29-40 19-16 30-32 19-29 29-48 20-29 29-57 20-24 29-50 19-28 29-31 20-42 29-22 20-15 29-43 19-14 30-32 48-50 49-56 49-57 49-55 48-48 49-42 49-61 48-50 49-56 49-53 49-35 48-44 49-33 49-58 49-50 48-40 49-53 49-45 48-37 49 19 49 37 49 59 58 117 20 45 243 695 20 26 48 55 49 36 49 27 49 1 48 3 49 48 49 69 48 73 49 113 49 113 49 59 48 33 39-29 49-25 39 41 39 12 39 83 49 94 39 87 39 99 39 147 58 286" stroke="#ffe200"/>
<path d="M1026 3175l20-4 29-56 19-8 30-27 19-9 29-93 20-16 29-21 20 0 29-9 19-37 20-83 29 5 20 6 29-94 19-1 30-56 19 34 29-53 20-110 29-40 19 22 30 92 19-20 29-40 20-30 29-36 20-33 29-21 19-4 20-13 29-42 20-37 29-35 19-33 30-36 19-23 29-42 20-45 29-42 20-45 29-49 19-11 29-54 20-34 29-30 20-18 29-39 19-7 30-36 48-47 49-63 49-67 49-56 48-40 49-70 49-44 48-59 49-60 49-48 49-39 48-46 49-42 49-46 49-41 48-63 49-47 49-51 48-31 49 16 49 41 49 74 58 126 20 52 243 724 20 30 48 60 49 37 49 24 49 0 48 0 49 53 49 63 48 97 49 105 49 110 49 70 48 31 39-29 49-22 39 34 39 18 39 75 49 105 39 83 39 114 39 146 58 291" stroke="#ffe400"/>
<path d="M1026 3109l20-28 29-36 19-12 30-4 19-38 29-53 20-10 29-43 20-16 29 4 19-43 20-61 29 8 20 13 29-107 19-17 30-41 19 35 29-60 20-98 29-61 19 43 30 85 19-2 29-34 20-44 29-38 20-17 29-38 19 8 20-37 29-28 20-35 29-41 19-20 30-37 19-26 29-44 20-39 29-57 20-35 29-38 19-24 29-54 20-32 29-36 20-29 29-38 19-6 30-33 48-48 49-68 49-61 49-59 48-57 49-56 49-40 48-55 49-62 49-54 49-43 48-41 49-44 49-48 49-55 48-44 49-50 49-42 48-36 49 24 49 43 49 79 58 136 20 57 243 747 20 22 48 59 49 39 49 23 49 4 48 1 49 44 49 73 48 88 49 101 49 126 49 59 48 26 39-22 49-23 39 35 39 17 39 85 49 103 39 78 39 116 39 144 58 298" stroke="#ffe900"/>
<path d="M1026 3120l20-45 29-22 19-2 30-15 19-16 29-82 20-35 29-8 20 6 29-19 19-52 20-66 29 15 20-6 29-95 19-19 30-53 19 62 29-69 20-113 29-64 19 29 30 111 19 7 29-50 20-33 29-57 20-26 29-20 19-8 20-12 29-37 20-37 29-53 19-27 30-22 19-29 29-48 20-33 29-63 20-28 29-50 19-28 29-50 20-32 29-32 20-24 29-31 19-20 30-23 48-55 49-67 49-64 49-54 48-62 49-46 49-58 48-51 49-61 49-57 49-42 48-51 49-35 49-51 49-54 48-53 49-54 49-37 48-51 49 28 49 33 49 73 58 125 20 54 243 757 20 14 48 67 49 41 49 29 49-13 48 14 49 49 49 65 48 95 49 109 49 117 49 74 48 34 39-31 49-20 39 35 39 5 39 97 49 97 39 87 39 125 39 148 58 311" stroke="#ffe300"/>
<path d="M1026 3120l20-1 29-82 19-6 30 0 19-18 29-66 20-18 29-59 20 11 29-6 19-37 20-72 29-16 20 26 29-86 19-7 30-65 19 27 29-77 20-75 29-53 19 37 30 63 19 7 29-49 20-32 29-40 20-28 29-36 19-15 20 0 29-42 20-41 29-34 19-27 30-32 19-32 29-51 20-34 29-53 20-32 29-48 19-33 29-52 20-28 29-31 20-31 29-36 19-8 30-30 48-58 49-63 49-72 49-56 48-47 49-63 49-59 48-43 49-68 49-50 49-46 48-53 49-27 49-56 49-55 48-46 49-55 49-52 48-35 49 22 49 33 49 77 58 140 20 41 243 762 20 34 48 63 49 40 49 17 49 8 48-9 49 61 49 73 48 87 49 109 49 117 49 69 48 31 39-18 49-24 39 30 39 20 39 79 49 113 39 85 39 114 39 157 58 298" stroke="#ffe400"/>
<path d="M1026 3011l20 27 29-65 19-7 30-3 19-53 29-32 20-60 29-5 20 26 29-13 19-48 20-70 29-8 20 18 29-101 19 8 30-33 19 13 29-69 20-100 29-56 19 33 30 82 19 5 29-30 20-37 29-64 20-18 29-27 19-11 20-11 29-25 20-48 29-50 19-22 30-36 19-17 29-53 20-33 29-63 20-30 29-53 19-24 29-49 20-35 29-33 20-25 29-37 19-13 30-21 48-60 49-65 49-68 49-69 48-55 49-45 49-66 48-53 49-57 49-62 49-43 48-45 49-50 49-50 49-51 48-43 49-51 49-60 48-36 49 20 49 43 49 77 58 137 20 54 243 772 20 27 48 63 49 43 49 25 49 0 48 15 49 35 49 80 48 97 49 106 49 128 49 73 48 20 39-19 49-24 39 32 39 11 39 91 49 111 39 95 39 109 39 154 58 312" stroke="#ffe600"/>
<path d="M1026 3101l20-17 29-76 19 5 30-48 19 3 29-73 20-35 29-29 20 31 29-47 19-22 20-56 29-6 20 1 29-81 19 1 30-71 19 28 29-54 20-102 29-75 19 51 30 82 19-25 29-16 20-41 29-43 20-33 29-31 19-9 20-6 29-41 20-35 29-46 19-27 30-34 19-27 29-56 20-31 29-64 20-33 29-44 19-33 29-46 20-36 29-35 20-23 29-35 19-25 30-27 48-55 49-60 49-83 49-52 48-54 49-55 49-60 48-56 49-58 49-65 49-34 48-42 49-49 49-53 49-52 48-51 49-52 49-52 48-33 49 20 49 37 49 82 58 127 20 60 243 778 20 26 48 67 49 41 49 21 49 2 48 9 49 44 49 68 48 103 49 118 49 123 49 67 48 17 39-11 49-29 39 40 39 6 39 86 49 117 39 87 39 116 39 155 58 316" stroke="#ffe500"/>
<path d="M1026 3115l20-1 29-95 19-6 30 4 19-29 29-89 20-27 29-28 20-9 29 11 19-52 20-72 29 6 20 11 29-106 19-25 30-28 19 38 29-74 20-111 29-77 19 57 30 102 19-15 29-41 20-36 29-41 20-40 29-25 19-11 20 10 29-56 20-29 29-70 19-22 30-33 19-26 29-48 20-31 29-64 20-44 29-42 19-32 29-39 20-49 29-23 20-22 29-43 19-9 30-32 48-59 49-68 49-64 49-67 48-40 49-61 49-62 48-46 49-74 49-59 49-39 48-38 49-61 49-56 49-37 48-66 49-43 49-59 48-40 49 19 49 34 49 75 58 123 20 61 243 773 20 35 48 55 49 51 49 13 49 9 48 4 49 54 49 71 48 94 49 117 49 128 49 66 48 33 39-34 49-14 39 39 39 12 39 89 49 112 39 92 39 123 39 157 58 315" stroke="#ffe100"/>
<path d="M1026 2993l20-5 29-70 19 14 30-46 19-13 29-28 20-38 29-9 20-12 29-9 19-47 20-55 29 13 20-3 29-106 19-14 30-34 19 31 29-63 20-103 29-47 19 22 30 98 19-16 29-16 20-56 29-54 20-8 29-48 19-2 20-6 29-33 20-52 29-46 19-26 30-32 19-24 29-61 20-28 29-67 20-25 29-52 19-30 29-59 20-21 29-37 20-32 29-38 19-23 30-29 48-50 49-60 49-74 49-57 48-66 49-51 49-60 48-54 49-68 49-55 49-46 48-45 49-46 49-61 49-52 48-43 49-53 49-50 48-46 49 16 49 53 49 71 58 142 20 55 243 792 20 35 48 57 49 53 49 22 49-1 48 2 49 58 49 72 48 96 49 117 49 129 49 75 48 31 39-37 49-16 39 23 39 22 39 92 49 106 39 101 39 118 39 153 58 322" stroke="#ffe600"/>
<path d="M1026 3068l20-77 29-36 19 21 30-29 19-45 29-21 20-64 29-38 20 39 29-26 19-31 20-83 29 22 20-3 29-106 19-24 30-51 19 37 29-71 20-108 29-65 19 59 30 89 19-35 29-28 20-30 29-46 20-34 29-15 19-22 20 2 29-41 20-51 29-29 19-38 30-23 19-32 29-56 20-36 29-61 20-34 29-53 19-27 29-52 20-32 29-44 20-15 29-52 19-8 30-32 48-59 49-72 49-71 49-55 48-63 49-57 49-64 48-46 49-66 49-57 49-47 48-43 49-65 49-45 49-54 48-52 49-50 49-60 48-18 49 15 49 44 49 97 58 146 20 59 243 805 20 37 48 56 49 39 49 23 49 4 48 6 49 57 49 69 48 100 49 114 49 123 49 75 48 29 39-27 49-12 39 27 39 17 39 85 49 111 39 97 39 111 39 166 58 309" stroke="#ffe900"/>
<path d="M1026 3050l20-48 29-27 19-20 30 4 19-43 29-61 20-42 29 2 20 1 29 3 19-60 20-77 29-6 20 31 29-148 19 15 30-62 19 50 29-37 20-142 29-83 19 82 30 86 19 0 29-41 20-47 29-35 20-49 29-18 19-6 20-21 29-58 20-22 29-58 19-21 30-30 19-30 29-59 20-31 29-63 20-35 29-63 19-11 29-57 20-38 29-30 20-18 29-41 19-16 30-32 48-49 49-76 49-61 49-75 48-46 49-69 49-44 48-64 49-62 49-57 49-50 48-38 49-61 49-50 49-53 48-56 49-55 49-64 48-35 49 15 49 40 49 66 58 138 20 46 243 800 20 37 48 58 49 50 49 19 49-3 48 21 49 44 49 75 48 106 49 112 49 126 49 78 48 36 39-36 49-16 39 34 39 7 39 105 49 111 39 89 39 128 39 160 58 330" stroke="#ffe100"/>
<path d="M1026 3120l20-32 29-42 19-10 30 3 19-43 29-50 20-46 29-8 20 9 29 7 19-41 20-52 29-35 20 36 29-94 19-23 30-19 19 28 29-61 20-94 29-54 19 33 30 69 19-4 29-23 20-31 29-25 20-41 29-15 19 6 20-16 29-27 20-28 29-39 19-20 30-25 19-28 29-42 20-31 29-47 20-33 29-57 19-9 29-58 20-30 29-31 20-21 29-42 19-10 30-32 48-57 49-84 49-61 49-65 48-54 49-51 49-29 48-27 49-51 49-68 49-35 48-52 49-49 49-28 49-48 48-44 49-24 49-38 48-7 49 53 49 79 49 116 58 185 20 58 243 754 20 25 48 41 49 37 49 19 49-4 48 8 49 36 49 67 48 58 49 96 49 96 49 42 48 28 39-15 49-19 39 25 39 17 39 65 49 86 39 67 39 89 39 118 58 245" stroke="#e6ff10"/>
<path d="M1026 3269l20-8 29-57 19 24 30-38 19-14 29-109 20 20 29-15 20-19 29-8 19-2 20-85 29-7 20 26 29-104 19-5 30-39 19 28 29-53 20-88 29-84 19 59 30 82 19-21 29-19 20-40 29-22 20-27 29-13 19-2 20-4 29-28 20-38 29-25 19-17 30-23 19-22 29-37 20-31 29-33 20-40 29-37 19-26 29-41 20-22 29-40 20-21 29-30 19-20 30-38 48-49 49-59 49-70 49-58 48-48 49-36 49-26 48-37 49-40 49-45 49-45 48-44 49-37 49-46 49-31 48-31 49-38 49-18 48 11 49 43 49 70 49 114 58 177 20 59 243 679 20 28 48 35 49 20 49 21 49-3 48 13 49 28 49 49 48 68 49 73 49 80 49 44 48 19 39-24 49-1 39 13 39 7 39 61 49 77 39 60 39 77 39 111 58 211" stroke="#e1ff15"/>
<path d="M1026 3281l20-25 29-43 19-16 30-17 19-18 29-62 20-22 29 6 20-27 29 0 19-15 20-81 29 14 20 8 29-97 19 25 30-49 19 12 29-43 20-85 29-71 19 44 30 89 19-13 29-34 20-34 29-6 20-36 29-9 19 7 20-15 29-17 20-33 29-48 19-9 30-22 19-15 29-35 20-30 29-32 20-34 29-44 19-17 29-40 20-39 29-29 20-12 29-35 19-20 30-28 48-54 49-62 49-72 49-49 48-47 49-38 49-20 48-29 49-37 49-42 49-52 48-32 49-41 49-47 49-27 48-28 49-33 49-22 48 12 49 35 49 81 49 114 58 177 20 56 243 662 20 18 48 39 49 33 49 14 49-8 48 3 49 36 49 48 48 62 49 77 49 81 49 27 48 18 39-20 49 1 39 11 39 14 39 52 49 74 39 50 39 87 39 90 58 201" stroke="#ddff1a"/>
<path d="M1026 3322l20-37 29-34 19 6 30 6 19-52 29-63 20-15 29-23 20 29 29-28 19-32 20-25 29-3 20-8 29-83 19-18 30-34 19 24 29-50 20-84 29-52 19 32 30 70 19-11 29-18 20-34 29-21 20-34 29-2 19-5 20 1 29-26 20-28 29-32 19-11 30-18 19-23 29-36 20-28 29-45 20-20 29-28 19-34 29-29 20-32 29-40 20-18 29-30 19-13 30-32 48-54 49-69 49-61 49-50 48-43 49-33 49-27 48-28 49-20 49-48 49-56 48-34 49-40 49-38 49-35 48-20 49-26 49-27 48 20 49 49 49 67 49 131 58 169 20 46 243 646 20 10 48 34 49 23 49 26 49-4 48 3 49 28 49 43 48 54 49 75 49 72 49 46 48 6 39-7 49-24 39 27 39 11 39 49 49 65 39 57 39 76 39 83 58 184" stroke="#daff1c"/>
<path d="M1026 3297l20-27 29-19 19 14 30-11 19-24 29-76 20-5 29-18 20 22 29-19 19-46 20-49 29 5 20 6 29-84 19-6 30-62 19 58 29-44 20-124 29-51 19 64 30 86 19-7 29-37 20-16 29-29 20-27 29-6 19 14 20-11 29-23 20-40 29-44 19 9 30-13 19-11 29-32 20-25 29-46 20-35 29-23 19-23 29-34 20-47 29-25 20-6 29-37 19-19 30-33 48-46 49-62 49-71 49-34 48-42 49-50 49-18 48-17 49-31 49-42 49-49 48-43 49-41 49-29 49-31 48-25 49-12 49-31 48 23 49 47 49 82 49 118 58 173 20 47 243 624 20 14 48 33 49 26 49 13 49 6 48-2 49 31 49 39 48 46 49 70 49 67 49 32 48 25 39-15 49-16 39 26 39 2 39 60 49 58 39 52 39 56 39 90 58 175" stroke="#d5ff22"/>
<path d="M1026 3409l20-56 29-15 19-5 30 5 19-49 29-51 20-52 29-7 20 24 29 10 19-48 20-66 29 24 20-10 29-91 19-18 30-25 19 33 29-60 20-95 29-43 19 35 30 99 19-11 29-19 20-32 29-19 20-25 29 1 19 0 20-5 29-12 20-35 29-25 19-12 30-10 19-16 29-16 20-33 29-25 20-36 29-39 19-21 29-26 20-31 29-34 20-10 29-48 19-5 30-32 48-60 49-50 49-72 49-53 48-38 49-30 49-5 48-17 49-24 49-52 49-46 48-28 49-40 49-38 49-19 48-10 49-15 49-13 48 31 49 54 49 97 49 131 58 192 20 53 243 627 20 9 48 24 49 16 49 26 49-14 48-1 49 25 49 32 48 40 49 58 49 55 49 25 48 26 39-17 49-10 39 19 39 2 39 42 49 37 39 48 39 42 39 87 58 144" stroke="#bdff39"/>
<path d="M1026 3383l20-38 29-24 19-5 30 0 19-21 29-67 20-32 29 11 20 17 29 1 19-51 20-80 29 11 20 26 29-104 19-4 30-52 19 61 29-49 20-100 29-60 19 30 30 122 19-18 29-16 20-37 29-30 20-5 29 13 19-16 20 1 29-7 20-35 29-34 19 5 30-25 19-6 29-25 20-14 29-40 20-28 29-38 19-15 29-47 20-25 29-10 20-40 29-31 19-7 30-32 48-53 49-58 49-76 49-35 48-46 49-37 49-6 48-12 49-19 49-47 49-45 48-41 49-21 49-27 49-30 48-17 49-9 49-7 48 23 49 68 49 90 49 144 58 201 20 54 243 594 20 17 48 20 49 18 49 19 49-11 48 9 49 17 49 28 48 47 49 47 49 57 49 19 48 7 39-3 49-5 39 22 39-9 39 37 49 50 39 46 39 47 39 68 58 132" stroke="#b7ff3f"/>
<path d="M1026 3309l20-23 29-44 19 2 30 28 19-33 29-50 20-45 29 7 20 34 29 2 19-64 20-31 29 1 20 22 29-111 19 2 30-37 19 58 29-54 20-110 29-53 19 61 30 72 19 6 29-12 20-33 29-17 20-18 29-2 19 3 20 4 29-11 20-39 29-24 19-18 30-3 19-7 29-23 20-27 29-28 20-23 29-39 19-6 29-46 20-33 29-21 20-28 29-35 19-8 30-27 48-51 49-71 49-72 49-28 48-56 49-33 49 7 48-4 49-36 49-33 49-47 48-41 49-36 49-32 49-13 48-20 49-10 49-7 48 42 49 67 49 101 49 133 58 204 20 62 243 593 20 11 48 19 49 20 49 15 49-7 48 13 49 11 49 38 48 32 49 45 49 61 49 13 48 17 39-5 49-15 39 23 39-1 39 35 49 41 39 42 39 54 39 53 58 130" stroke="#b0ff47"/>
<path d="M1026 3371l20-3 29-84 19 40 30-40 19 0 29-64 20-17 29-16 20 18 29-12 19-26 20-54 29-5 20 32 29-101 19-2 30-25 19 20 29-38 20-104 29-32 19 32 30 75 19 9 29-36 20-11 29-37 20-18 29 7 19 14 20-11 29-17 20-24 29-22 19-3 30-15 19-5 29-41 20-6 29-37 20-28 29-26 19-27 29-35 20-27 29-27 20-28 29-33 19-4 30-34 48-53 49-68 49-66 49-44 48-41 49-36 49-5 48-1 49-22 49-42 49-49 48-42 49-42 49-20 49-15 48-8 49-17 49-14 48 46 49 74 49 103 49 159 58 197 20 55 243 604 20 18 48 19 49 13 49 6 49 14 48-17 49 24 49 27 48 47 49 45 49 52 49 11 48 19 39-14 49-14 39 19 39 4 39 32 49 44 39 36 39 51 39 49 58 131" stroke="#aaff4d"/>
<path d="M1026 3321l20-28 29-27 19 9 30-36 19-19 29-70 20 16 29-32 20-3 29 40 19-60 20-25 29-21 20-4 29-61 19-17 30-29 19 21 29-52 20-70 29-47 19 28 30 64 19 12 29-28 20-15 29-29 20-18 29 0 19-3 20 15 29-20 20-16 29-32 19-8 30-10 19-5 29-33 20-19 29-42 20-21 29-41 19-19 29-24 20-39 29-22 20-33 29-41 19-7 30-35 48-44 49-80 49-73 49-52 48-44 49-30 49 7 48-11 49-19 49-51 49-56 48-37 49-28 49-25 49-27 48-17 49-6 49-3 48 41 49 78 49 123 49 166 58 220 20 67 243 640 20 7 48 19 49 23 49 7 49 7 48-6 49 16 49 25 48 43 49 45 49 39 49 31 48 10 39-16 49 9 39-2 39 18 39 24 49 40 39 43 39 42 39 49 58 127" stroke="#a2ff55"/>
<path d="M1026 3254l20-40 29-47 19 5 30-20 19 4 29-60 20-27 29 1 20 3 29 16 19-48 20-33 29 13 20-7 29-95 19 2 30-40 19 35 29-51 20-88 29-54 19 53 30 52 19 1 29-6 20-37 29-13 20-22 29 15 19-14 20 12 29-3 20-38 29-20 19-3 30-15 19 1 29-42 20-17 29-38 20-36 29-28 19-21 29-36 20-36 29-35 20-15 29-39 19-26 30-30 48-72 49-66 49-75 49-59 48-45 49-30 49 5 48-1 49-31 49-38 49-61 48-42 49-28 49-30 49-27 48-3 49-11 49-10 48 69 49 81 49 131 49 184 58 240 20 71 243 672 20 23 48 15 49 21 49 3 49 0 48-1 49 21 49 24 48 41 49 37 49 54 49 21 48 10 39-5 49-9 39 14 39 5 39 34 49 39 39 31 39 48 39 56 58 119" stroke="#98ff5f"/>
<path d="M1026 3211l20-30 29-44 19 13 30-5 19-26 29-53 20-13 29-33 20 1 29 10 19-29 20-62 29-1 20 4 29-100 19 9 30-56 19 30 29-49 20-91 29-48 19 31 30 64 19-12 29-3 20-29 29-22 20-20 29 0 19 2 20-4 29-6 20-30 29-19 19-9 30-21 19-8 29-42 20-28 29-35 20-32 29-40 19-29 29-46 20-38 29-32 20-27 29-49 19-27 30-36 48-75 49-81 49-94 49-62 48-62 49-41 49-9 48 3 49-39 49-59 49-59 48-52 49-34 49-32 49-28 48-13 49 2 49-29 48 59 49 85 49 142 49 202 58 268 20 82 243 793 20 22 48 18 49 19 49 12 49 2 48 2 49 20 49 31 48 47 49 45 49 64 49 25 48 2 39-4 49-9 39 15 39 1 39 38 49 60 39 41 39 49 39 69 58 138" stroke="#a5ff52"/>
<path d="M1026 3514l20 6 29-57 19 3 30 7 19-6 29-45 20 0 29-20 20 7 29 1 19-20 20-43 29 15 20 4 29-75 19-18 30-20 19 45 29-38 20-76 29-45 19 49 30 67 19-9 29-24 20-14 29-15 20-19 29 13 19-7 20 7 29-7 20-32 29-6 19-6 30-8 19-7 29-13 20-5 29-37 20-21 29-38 19-11 29-19 20-18 29-27 20-9 29-38 19-10 30-21 48-44 49-59 49-43 49-41 48-38 49-24 49-8 48 2 49-10 49-36 49-34 48-43 49-15 49-15 49-18 48-7 49-9 49-6 48 30 49 58 49 77 49 126 58 167 20 45 243 464 20 15 48 15 49 12 49-3 49 2 48 3 49 18 49 18 48 18 49 38 49 34 49 7 48 14 39-15 49-1 39 17 39-9 39 30 49 35 39 16 39 33 39 32 58 84" stroke="#a2ff54"/>
<path d="M1026 3468l20 2 29-57 19 40 30-17 19-7 29-67 20-15 29 4 20-13 29 23 19-7 20-76 29 18 20 15 29-91 19-11 30-41 19 53 29-30 20-102 29-60 19 56 30 68 19-6 29-8 20-25 29-9 20-17 29 4 19-2 20-2 29-3 20-31 29-6 19-12 30-2 19-18 29-6 20-24 29-15 20-34 29-29 19-16 29-16 20-41 29-24 20-20 29-30 19-1 30-34 48-45 49-59 49-64 49-51 48-26 49-25 49 10 48-9 49-7 49-45 49-47 48-35 49-21 49-27 49-13 48-2 49-4 49-4 48 39 49 64 49 99 49 137 58 187 20 59 243 517 20-5 48 24 49 16 49 7 49-4 48 6 49 5 49 19 48 24 49 41 49 31 49 22 48 6 39-10 49-4 39 9 39 1 39 19 49 34 39 17 39 41 39 38 58 86" stroke="#98ff5e"/>
<path d="M1026 3364l20-21 29-26 19-5 30 5 19-7 29-82 20-16 29-22 20 19 29-5 19-26 20-73 29 19 20 15 29-93 19-35 30-37 19 61 29-55 20-104 29-57 19 39 30 91 19 2 29-9 20-30 29-36 20 0 29-13 19 17 20-2 29-13 20-16 29-37 19-20 30 9 19-9 29-19 20-21 29-40 20-28 29-42 19-12 29-35 20-31 29-23 20-21 29-53 19-1 30-49 48-52 49-73 49-78 49-44 48-46 49-27 49 1 48-8 49-27 49-44 49-43 48-42 49-35 49-25 49-17 48-10 49-1 49-5 48 50 49 79 49 125 49 180 58 225 20 68 243 636 20 23 48 15 49 16 49-1 49 8 48-3 49 15 49 36 48 21 49 40 49 45 49 21 48 8 39-11 49-5 39 9 39 1 39 36 49 29 39 38 39 37 39 49 58 109" stroke="#96ff61"/>
<path d="M1026 3218l20-54 29-17 19-1 30-16 19-19 29-66 20-48 29 3 20 16 29 11 19-63 20-45 29-1 20 21 29-109 19-23 30-46 19 40 29-52 20-99 29-55 19 19 30 106 19-24 29-8 20-20 29-32 20-12 29-5 19 13 20-7 29-21 20-16 29-45 19 6 30-14 19 1 29-28 20-46 29-40 20-30 29-26 19-38 29-44 20-36 29-35 20-22 29-52 19-14 30-45 48-70 49-90 49-95 49-59 48-52 49-37 49 8 48 0 49-33 49-53 49-65 48-51 49-38 49-34 49-22 48 0 49-8 49-9 48 77 49 90 49 154 49 219 58 282 20 85 243 784 20 10 48 21 49 15 49 2 49 9 48 3 49 17 49 33 48 33 49 52 49 40 49 41 48 1 39-7 49-10 39 14 39 4 39 46 49 40 39 37 39 41 39 64 58 125" stroke="#92ff64"/>
<path d="M1026 3453l20 24 29-50 19 7 30-11 19-35 29-33 20-25 29 5 20 0 29 2 19-61 20-13 29-2 20-8 29-83 19 16 30-38 19 15 29-42 20-61 29-40 19 22 30 48 19 0 29-20 20-11 29-17 20-17 29 2 19 2 20 8 29-15 20-24 29-18 19-3 30-15 19-7 29-18 20-13 29-40 20-30 29-11 19-17 29-34 20-26 29-23 20-19 29-44 19-14 30-31 48-42 49-62 49-60 49-53 48-33 49-30 49 6 48 9 49-19 49-52 49-45 48-37 49-22 49-20 49-17 48-2 49-10 49-1 48 52 49 66 49 111 49 153 58 200 20 56 243 546 20 0 48 22 49 25 49 3 49-5 48 3 49 8 49 25 48 25 49 29 49 35 49 16 48 13 39-14 49-2 39 12 39 6 39 22 49 29 39 29 39 31 39 44 58 84" stroke="#93ff64"/>
<path d="M1026 3296l20-44 29 29 19-32 30 8 19-13 29-57 20-6 29 12 20-7 29-2 19-51 20-20 29 9 20 15 29-91 19-13 30-40 19 47 29-48 20-68 29-64 19 46 30 77 19-34 29-9 20-17 29-16 20-4 29-15 19 19 20-16 29-3 20-6 29-38 19-13 30 5 19-14 29-17 20-16 29-23 20-45 29-22 19-26 29-26 20-30 29-37 20-14 29-37 19-11 30-38 48-54 49-66 49-72 49-58 48-28 49-35 49 5 48 1 49-15 49-49 49-38 48-59 49-34 49-10 49-20 48-4 49-3 49 1 48 53 49 83 49 120 49 167 58 230 20 69 243 613 20 5 48 8 49 19 49 10 49 3 48 1 49 19 49 18 48 22 49 44 49 42 49 18 48-5 39-5 49-2 39 8 39 6 39 24 49 34 39 40 39 31 39 45 58 93" stroke="#8dff69"/>
<path d="M1026 3261l20 26 29-80 19-14 30-4 19-39 29-42 20-8 29-39 20-6 29 15 19-20 20-65 29-15 20 0 29-89 19-14 30-44 19 47 29-88 20-67 29-57 19 40 30 62 19-10 29-32 20-23 29-19 20-26 29 9 19-4 20 6 29-28 20-12 29-32 19-14 30 8 19-35 29-20 20-19 29-31 20-37 29-28 19-39 29-40 20-43 29-24 20-33 29-44 19-24 30-28 48-62 49-88 49-77 49-64 48-43 49-38 49 17 48 5 49-11 49-45 49-56 48-49 49-36 49-22 49-6 48-12 49 9 49-4 48 79 49 98 49 157 49 197 58 276 20 77 243 723 20 13 48 21 49 12 49 14 49 0 48 2 49 12 49 27 48 37 49 37 49 46 49 26 48 0 39-8 49-4 39 14 39 10 39 27 49 37 39 28 39 48 39 50 58 121" stroke="#83ff74"/>
<path d="M1026 3468l20-39 29-24 19 24 30-13 19-23 29-51 20-46 29 39 20 7 29 7 19-22 20-51 29 9 20-1 29-76 19-17 30-24 19 43 29-28 20-93 29-58 19 43 30 80 19 16 29-33 20-30 29-17 20-4 29 2 19 8 20-1 29-14 20-23 29-27 19 6 30 0 19-1 29-16 20-22 29-31 20-34 29-15 19-14 29-35 20-15 29-24 20-20 29-32 19-7 30-22 48-46 49-57 49-53 49-38 48-19 49-24 49 2 48 11 49-6 49-26 49-34 48-37 49-21 49-18 49-14 48-2 49 8 49 0 48 50 49 72 49 97 49 132 58 177 20 56 243 480 20 16 48 7 49 13 49-1 49 8 48-12 49 17 49 17 48 29 49 22 49 27 49 11 48 18 39-9 49-7 39 10 39 5 39 13 49 31 39 19 39 26 39 40 58 67" stroke="#80ff77"/>
<path d="M1026 3180l20-58 29-62 19 47 30-36 19-21 29-27 20 6 29-44 20 26 29 12 19-49 20-25 29-16 20 21 29-86 19 1 30-46 19 34 29-48 20-90 29-43 19 30 30 59 19 4 29-5 20-34 29-24 20-22 29-5 19 5 20 8 29-20 20-7 29-41 19-2 30-12 19-5 29-30 20-17 29-44 20-17 29-48 19-23 29-46 20-21 29-32 20-26 29-41 19-17 30-32 48-68 49-74 49-82 49-52 48-50 49-23 49 18 48 2 49-24 49-34 49-49 48-48 49-30 49-33 49-5 48-4 49 3 49-5 48 87 49 104 49 138 49 187 58 263 20 80 243 692 20 13 48 11 49 28 49 2 49-6 48 15 49 8 49 24 48 34 49 28 49 51 49 22 48 12 39-16 49-1 39 6 39 11 39 30 49 27 39 42 39 31 39 57 58 103" stroke="#80ff77"/>
<path d="M1026 3470l20-56 29-24 19 7 30-8 19-18 29-31 20-29 29-23 20 27 29-14 19 2 20-46 29-9 20 2 29-58 19-23 30-35 19 33 29-26 20-76 29-29 19 18 30 65 19-15 29 1 20-24 29-20 20-28 29 19 19-5 20-19 29-5 20-6 29-30 19-11 30-3 19-1 29-15 20-24 29-24 20-25 29-24 19-13 29-38 20-15 29-26 20-12 29-35 19-11 30-24 48-56 49-54 49-54 49-36 48-28 49-17 49 11 48 26 49-18 49-18 49-40 48-31 49-10 49-19 49-6 48 0 49-1 49 11 48 54 49 75 49 109 49 134 58 180 20 50 243 495 20-1 48 21 49 16 49 1 49-3 48 5 49 9 49 12 48 33 49 20 49 28 49 19 48 2 39-5 49-4 39 2 39 8 39 28 49 26 39 18 39 20 39 36 58 82" stroke="#76ff81"/>
<path d="M1026 3414l20-11 29-75 19 22 30-10 19-15 29-49 20-13 29-25 20 49 29-10 19-26 20-52 29 4 20 21 29-97 19-10 30-30 19 36 29-24 20-81 29-57 19 34 30 58 19 12 29-28 20-23 29-31 20-3 29-6 19 11 20 5 29-14 20-22 29-39 19 2 30-2 19-5 29-16 20-20 29-30 20-26 29-29 19-6 29-40 20-32 29-10 20-23 29-37 19-16 30-25 48-49 49-57 49-56 49-32 48-34 49-22 49 9 48 21 49-18 49-27 49-30 48-36 49-11 49-20 49 1 48-6 49 1 49 5 48 64 49 83 49 116 49 138 58 200 20 48 243 525 20 12 48 14 49 9 49 6 49-4 48 5 49 5 49 34 48 24 49 10 49 35 49 12 48 7 39-7 49-3 39 16 39-3 39 23 49 25 39 27 39 26 39 29 58 80" stroke="#75ff81"/>
<path d="M1026 3126l20-12 29-47 19-7 30-6 19-3 29-85 20-25 29-5 20 12 29 12 19-54 20-62 29 16 20 9 29-114 19-14 30-53 19 63 29-57 20-128 29-45 19 33 30 105 19-1 29-20 20-47 29-24 20-22 29 0 19-12 20 8 29-21 20-29 29-33 19-7 30-11 19-4 29-15 20-42 29-40 20-30 29-47 19-13 29-35 20-59 29-27 20-17 29-55 19-23 30-31 48-86 49-72 49-76 49-56 48-39 49-33 49 18 48 13 49-9 49-36 49-46 48-41 49-27 49-24 49-15 48 8 49 1 49 23 48 70 49 134 49 170 49 202 58 272 20 77 243 746 20 11 48 24 49 17 49 5 49 11 48-8 49 13 49 34 48 32 49 39 49 46 49 14 48 12 39-5 49-7 39 9 39 0 39 33 49 37 39 40 39 30 39 56 58 114" stroke="#73ff84"/>
<path d="M1026 3303l20-42 29 5 19-5 30-20 19-32 29-54 20-26 29-25 20 27 29 6 19-20 20-67 29 7 20 8 29-75 19-20 30-47 19 57 29-33 20-112 29-48 19 43 30 77 19-31 29 1 20-21 29-31 20-25 29 2 19 3 20-4 29-12 20-24 29-26 19-1 30-15 19 0 29-35 20-9 29-38 20-17 29-40 19-18 29-49 20-22 29-30 20-11 29-42 19-20 30-28 48-62 49-70 49-68 49-41 48-36 49-20 49 9 48 28 49-19 49-33 49-35 48-41 49-19 49-7 49-22 48 10 49 3 49 3 48 78 49 97 49 136 49 163 58 228 20 63 243 612 20 11 48 17 49 7 49 12 49 0 48 0 49 16 49 14 48 36 49 27 49 38 49 21 48 1 39-3 49-7 39 12 39 3 39 25 49 31 39 24 39 35 39 44 58 86" stroke="#74ff83"/>
<path d="M1026 3333l20-35 29-42 19 12 30-32 19 14 29-68 20-22 29 16 20-11 29 5 19-17 20-79 29 20 20 17 29-75 19-11 30-46 19 35 29-30 20-85 29-48 19 30 30 68 19-5 29-31 20-28 29-20 20-4 29-19 19-1 20 4 29-18 20-19 29-17 19-2 30-25 19-1 29-27 20-14 29-33 20-32 29-18 19-27 29-28 20-34 29-28 20-22 29-35 19-8 30-38 48-58 49-61 49-57 49-46 48-32 49-12 49 12 48 18 49-6 49-24 49-42 48-33 49-12 49-15 49 2 48-1 49-1 49 11 48 64 49 103 49 130 49 150 58 217 20 60 243 580 20 12 48 13 49 12 49 6 49 6 48-8 49 21 49 9 48 30 49 28 49 39 49 9 48 7 39-8 49 5 39 7 39-3 39 29 49 29 39 11 39 45 39 31 58 89" stroke="#6eff89"/>
<path d="M1026 3282l20-46 29-31 19-25 30 18 19-24 29-63 20-43 29 7 20 10 29-15 19-26 20-45 29-6 20 7 29-89 19-12 30-34 19 28 29-48 20-92 29-49 19 41 30 64 19-13 29-32 20-24 29-44 20-8 29-14 19 8 20 2 29-25 20-23 29-28 19-8 30-9 19-6 29-29 20-24 29-39 20-5 29-54 19-27 29-39 20-27 29-32 20-18 29-44 19-20 30-28 48-67 49-69 49-69 49-40 48-35 49-20 49 9 48 33 49-17 49-25 49-35 48-22 49-30 49-10 49 6 48-9 49 12 49 16 48 71 49 139 49 133 49 180 58 239 20 73 243 651 20 12 48 10 49 16 49 9 49-1 48 2 49 11 49 22 48 26 49 34 49 35 49 21 48 5 39-12 49 1 39 9 39-1 39 33 49 37 39 20 39 26 39 54 58 87" stroke="#67ff90"/>
<path d="M1026 3099l20-54 29-24 19 26 30-24 19-10 29-72 20-4 29 25 20 6 29-3 19-42 20-60 29 2 20 35 29-109 19-28 30-38 19 53 29-61 20-109 29-45 19 40 30 115 19-22 29-34 20-21 29-58 20-27 29 3 19 3 20-3 29-11 20-34 29-31 19 2 30-10 19-8 29-34 20-16 29-45 20-22 29-33 19-42 29-43 20-25 29-27 20-32 29-36 19-20 30-32 48-73 49-69 49-71 49-47 48-34 49-21 49 13 48 32 49-5 49-27 49-38 48-28 49-17 49-12 49-2 48 2 49 12 49 14 48 88 49 132 49 163 49 181 58 254 20 70 243 704 20-1 48 20 49 11 49 15 49-2 48 10 49 8 49 22 48 24 49 33 49 40 49 33 48-10 39 4 49-11 39 11 39 2 39 30 49 36 39 29 39 37 39 39 58 97" stroke="#62ff95"/>
<path d="M1026 3328l20-74 29 4 19 5 30-3 19-25 29-51 20-9 29-5 20-9 29 13 19-19 20-54 29 16 20 0 29-70 19-17 30-33 19 46 29-46 20-90 29-45 19 35 30 81 19-5 29-24 20-33 29-36 20-22 29 0 19 7 20-1 29-29 20-16 29-18 19-12 30-2 19-5 29-13 20-26 29-25 20-27 29-40 19-18 29-22 20-27 29-24 20-16 29-41 19-16 30-26 48-56 49-65 49-47 49-41 48-23 49-7 49 3 48 30 49-7 49-15 49-28 48-25 49-11 49-8 49-3 48-1 49 10 49 25 48 61 49 111 49 127 49 143 58 195 20 64 243 531 20 16 48 11 49 10 49 13 49-7 48 2 49 8 49 19 48 24 49 30 49 35 49 4 48 15 39-11 49-9 39 15 39 7 39 21 49 13 39 28 39 30 39 33 58 82" stroke="#5fff98"/>
<path d="M1026 3155l20-17 29-48 19-23 30 21 19-22 29-53 20-35 29 4 20 31 29 0 19-54 20-68 29 29 20 17 29-115 19 1 30-36 19 41 29-55 20-111 29-41 19 38 30 100 19-20 29-23 20-34 29-27 20-28 29-7 19 25 20-27 29-15 20-25 29-32 19-10 30-8 19 2 29-31 20-21 29-38 20-20 29-42 19-19 29-47 20-38 29-27 20-18 29-44 19-16 30-40 48-58 49-69 49-69 49-39 48-43 49-14 49 16 48 27 49 2 49-34 49-26 48-34 49-13 49-7 49-10 48 2 49 12 49 19 48 81 49 138 49 149 49 172 58 243 20 73 243 661 20 7 48 16 49 14 49 3 49 5 48 2 49 15 49 18 48 31 49 39 49 22 49 25 48 9 39-5 49-4 39 5 39 5 39 21 49 34 39 26 39 35 39 44 58 92" stroke="#61ff96"/>
<path d="M1026 3166l20-78 29-74 19 69 30-55 19-9 29-69 20-26 29-21 20 21 29 16 19-35 20-77 29-7 20 34 29-120 19-15 30-29 19 24 29-45 20-129 29-57 19 61 30 96 19-6 29-34 20-54 29-37 20-26 29-12 19-2 20-3 29-18 20-27 29-38 19-21 30 13 19-12 29-36 20-20 29-47 20-32 29-42 19-13 29-49 20-32 29-38 20-23 29-52 19-10 30-45 48-65 49-71 49-77 49-39 48-35 49-22 49 19 48 43 49 4 49-25 49-35 48-25 49-12 49-2 49 2 48-5 49 20 49 31 48 90 49 149 49 175 49 175 58 274 20 65 243 728 20 1 48 16 49 18 49 5 49 0 48-5 49 27 49 17 48 28 49 44 49 31 49 8 48 22 39-7 49-12 39 10 39 7 39 27 49 34 39 27 39 34 39 46 58 95" stroke="#57ffa0"/>
<path d="M1026 3298l20-14 29-50 19-15 30 15 19-29 29-26 20-28 29 15 20-11 29 15 19-43 20-27 29-8 20-2 29-79 19 6 30-48 19 9 29-26 20-76 29-22 19 18 30 58 19-7 29-30 20-34 29-28 20-26 29 7 19-25 20 16 29-16 20-34 29-22 19-10 30 1 19-12 29-23 20-7 29-37 20-23 29-30 19-19 29-29 20-36 29-25 20-25 29-31 19-12 30-27 48-57 49-69 49-39 49-37 48-33 49-3 49 10 48 36 49 2 49-18 49-27 48-8 49-7 49-7 49-6 48 11 49 13 49 21 48 74 49 117 49 134 49 143 58 190 20 62 243 555 20 11 48 9 49 14 49 1 49 6 48 4 49 4 49 22 48 21 49 25 49 18 49 19 48 4 39 3 49-7 39 10 39-7 39 31 49 21 39 22 39 23 39 36 58 80" stroke="#54ffa3"/>
<path d="M1026 3193l20 9 29-45 19-19 30 0 19-33 29-39 20-29 29 6 20-21 29 21 19-21 20-71 29 5 20 8 29-79 19-9 30-42 19 49 29-52 20-87 29-59 19 26 30 79 19-9 29-42 20-23 29-45 20-22 29 0 19-10 20-2 29-12 20-23 29-28 19-25 30-15 19-1 29-28 20-4 29-50 20-28 29-32 19-11 29-47 20-25 29-35 20-15 29-44 19-15 30-40 48-61 49-62 49-57 49-43 48-26 49-10 49 27 48 28 49-6 49-14 49-22 48-20 49 0 49-10 49-3 48 9 49 10 49 30 48 88 49 128 49 153 49 159 58 224 20 74 243 628 20 5 48 9 49 16 49 6 49 3 48-1 49 12 49 27 48 18 49 28 49 39 49 13 48 9 39-9 49-8 39 18 39-5 39 24 49 21 39 34 39 35 39 37 58 73" stroke="#52ffa5"/>
<path d="M1026 3061l20-37 29-41 19-14 30-26 19 1 29-64 20-43 29-10 20 35 29-28 19-60 20-51 29-12 20 44 29-131 19-33 30-53 19 59 29-57 20-119 29-49 19 35 30 98 19-26 29-41 20-55 29-42 20-24 29-18 19 7 20-12 29-24 20-33 29-41 19 4 30-27 19-13 29-20 20-41 29-31 20-49 29-34 19-32 29-42 20-43 29-27 20-31 29-47 19-34 30-38 48-80 49-82 49-73 49-47 48-40 49-4 49 14 48 46 49 12 49-26 49-29 48-25 49 5 49-17 49 2 48 7 49 26 49 31 48 103 49 168 49 187 49 206 58 289 20 82 243 798 20-1 48 16 49 18 49 8 49 8 48-3 49 16 49 21 48 29 49 37 49 33 49 34 48-6 39 4 49-19 39 26 39-2 39 27 49 36 39 29 39 37 39 49 58 104" stroke="#51ffa6"/>
<path d="M1026 3029l20-39 29-47 19-20 30-3 19-18 29-66 20-54 29 25 20 1 29 6 19-50 20-42 29-19 20 0 29-78 19-19 30-44 19 19 29-47 20-102 29-58 19 38 30 65 19-18 29-16 20-53 29-59 20-22 29-20 19-7 20-12 29-23 20-18 29-39 19-11 30-17 19-6 29-28 20-31 29-51 20-30 29-29 19-39 29-43 20-42 29-32 20-39 29-45 19-27 30-45 48-68 49-80 49-75 49-44 48-38 49 0 49 26 48 49 49 1 49-13 49-30 48-11 49-12 49 0 49-1 48 10 49 29 49 46 48 96 49 179 49 187 49 193 58 286 20 69 243 788 20 3 48 23 49 23 49 3 49-2 48-2 49 14 49 23 48 37 49 31 49 34 49 22 48 11 39-9 49-2 39 6 39 3 39 30 49 36 39 19 39 43 39 49 58 90" stroke="#4bffac"/>
<path d="M1026 2972l20-35 29-30 19-4 30-60 19 12 29-84 20-5 29-32 20 16 29 12 19-61 20-28 29-7 20 10 29-95 19-23 30-45 19 29 29-73 20-73 29-61 19 35 30 75 19-24 29-40 20-44 29-51 20-45 29 6 19-2 20-12 29-27 20-25 29-34 19-11 30-21 19-10 29-32 20-21 29-57 20-27 29-51 19-18 29-50 20-36 29-40 20-29 29-52 19-15 30-52 48-67 49-91 49-71 49-54 48-23 49-17 49 33 48 53 49 7 49-11 49-36 48-11 49-7 49 8 49-1 48 10 49 20 49 35 48 117 49 183 49 185 49 208 58 283 20 81 243 794 20 16 48 8 49 23 49 2 49-6 48 3 49 21 49 28 48 26 49 34 49 32 49 29 48 7 39-10 49-5 39 14 39 4 39 27 49 35 39 23 39 44 39 51 58 86" stroke="#48ffaf"/>
<path d="M1026 3062l20-6 29-77 19-36 30-4 19-23 29-87 20-4 29 14 20-6 29-1 19-54 20-31 29-14 20-3 29-73 19-27 30-30 19 14 29-36 20-111 29-71 19 46 30 78 19-14 29-55 20-32 29-55 20-20 29-17 19 2 20-11 29-21 20-37 29-33 19-9 30-13 19 2 29-42 20-29 29-43 20-12 29-45 19-42 29-38 20-41 29-35 20-34 29-38 19-28 30-50 48-62 49-81 49-72 49-39 48-27 49-13 49 27 48 54 49 5 49-23 49-24 48-13 49 2 49-9 49 11 48 7 49 25 49 32 48 107 49 180 49 177 49 194 58 268 20 85 243 748 20 13 48 18 49 13 49 8 49 6 48-11 49 22 49 15 48 27 49 40 49 31 49 25 48 6 39-8 49-12 39 19 39 4 39 26 49 31 39 28 39 40 39 36 58 100" stroke="#48ffaf"/>
<path d="M1026 3095l20-40 29-53 19-9 30-13 19-20 29-56 20-11 29-35 20 18 29-11 19-42 20-62 29-2 20 24 29-109 19-10 30-57 19 45 29-64 20-100 29-76 19 35 30 125 19-23 29-46 20-54 29-60 20-27 29-7 19 6 20-8 29-27 20-33 29-33 19-26 30 2 19-16 29-25 20-16 29-48 20-32 29-40 19-33 29-37 20-53 29-27 20-18 29-43 19-37 30-37 48-63 49-70 49-83 49-42 48-24 49-1 49 26 48 46 49 10 49-4 49-27 48-11 49-4 49 11 49-14 48 13 49 27 49 48 48 100 49 176 49 169 49 193 58 259 20 72 243 741 20 9 48 14 49 18 49 3 49-6 48 0 49 19 49 22 48 30 49 35 49 28 49 19 48 11 39-4 49-10 39-2 39 18 39 30 49 23 39 33 39 24 39 46 58 97" stroke="#44ffb3"/>
<path d="M1026 3016l20 20 29-68 19-4 30-8 19-26 29-49 20-64 29 45 20-3 29-26 19-26 20-46 29 3 20-1 29-121 19 3 30-34 19 27 29-47 20-117 29-46 19 31 30 90 19-27 29-31 20-44 29-44 20-35 29-22 19 4 20-23 29-10 20-23 29-47 19-4 30-18 19-8 29-24 20-34 29-34 20-36 29-32 19-23 29-44 20-40 29-36 20-29 29-52 19-11 30-49 48-64 49-81 49-68 49-36 48-23 49-4 49 28 48 49 49 9 49-6 49-20 48-14 49 3 49 1 49 2 48 14 49 27 49 40 48 91 49 186 49 177 49 184 58 257 20 89 243 714 20 12 48 18 49 8 49 20 49-10 48-1 49 16 49 22 48 25 49 32 49 33 49 30 48-7 39-9 49-2 39 7 39 15 39 24 49 35 39 17 39 30 39 48 58 83" stroke="#41ffb6"/>
<path d="M1026 3098l20-63 29-34 19 10 30 8 19-46 29-62 20-23 29-21 20 51 29-45 19-7 20-53 29 12 20-17 29-94 19-8 30-49 19 42 29-47 20-116 29-52 19 47 30 99 19-36 29-29 20-41 29-68 20-25 29 1 19-2 20-12 29-20 20-35 29-53 19-13 30 7 19-13 29-26 20-15 29-33 20-43 29-31 19-30 29-42 20-28 29-45 20-18 29-49 19-15 30-45 48-58 49-69 49-63 49-42 48-19 49-7 49 27 48 64 49-2 49-11 49-10 48-3 49 7 49-5 49 5 48 11 49 31 49 42 48 95 49 169 49 165 49 182 58 249 20 67 243 683 20 7 48 16 49 15 49-1 49 4 48 0 49 8 49 28 48 20 49 35 49 29 49 17 48 5 39-7 49-6 39 11 39-4 39 26 49 30 39 19 39 29 39 49 58 70" stroke="#3cffba"/>
<path d="M1026 3051l20 7 29-68 19-8 30 17 19-59 29-15 20-57 29 7 20 17 29 11 19-44 20-52 29 0 20 8 29-81 19-26 30-25 19 22 29-53 20-80 29-53 19 26 30 80 19-15 29-17 20-58 29-55 20-15 29-32 19 18 20-25 29-10 20-20 29-35 19-13 30-9 19-8 29-30 20-28 29-33 20-32 29-27 19-28 29-41 20-36 29-35 20-33 29-40 19-17 30-45 48-51 49-76 49-67 49-34 48-26 49-1 49 42 48 58 49-8 49 10 49-17 48-7 49 0 49 5 49 11 48 16 49 33 49 44 48 90 49 169 49 153 49 181 58 239 20 66 243 659 20 14 48 11 49 18 49 1 49 3 48-5 49 23 49 6 48 28 49 27 49 28 49 21 48 7 39-13 49-1 39 10 39-2 39 29 49 29 39 20 39 30 39 37 58 79" stroke="#3affbd"/>
<path d="M1026 3062l20-41 29-41 19 10 30 19 19-51 29-34 20-73 29 25 20 11 29 29 19-65 20-67 29 39 20 2 29-101 19-12 30-64 19 44 29-23 20-124 29-48 19 33 30 124 19-28 29-51 20-29 29-61 20-17 29-22 19 6 20 5 29-22 20-31 29-43 19-3 30-3 19-27 29 5 20-27 29-41 20-21 29-43 19-25 29-36 20-46 29-25 20-28 29-58 19-6 30-48 48-67 49-66 49-69 49-38 48-28 49 2 49 49 48 58 49 20 49-14 49-14 48 2 49 17 49 3 49 19 48 23 49 30 49 42 48 100 49 156 49 160 49 166 58 231 20 73 243 630 20 16 48 14 49-1 49 12 49-5 48 6 49 4 49 27 48 16 49 40 49 22 49 17 48 4 39-1 49-9 39 11 39 3 39 29 49 21 39 14 39 37 39 34 58 71" stroke="#35ffc2"/>
<path d="M1026 3127l20-28 29-72 19 17 30-17 19 2 29-63 20-46 29 4 20 2 29-3 19-44 20-69 29 16 20 25 29-109 19-5 30-55 19 61 29-70 20-96 29-52 19 51 30 79 19-7 29-45 20-35 29-48 20-36 29-16 19 19 20-8 29-26 20-24 29-33 19-24 30 10 19-12 29-17 20-21 29-25 20-45 29-32 19-23 29-55 20-27 29-30 20-25 29-57 19-13 30-38 48-63 49-76 49-64 49-58 48 1 49-7 49 37 48 78 49 7 49 2 49-10 48-7 49 8 49 15 49 18 48 22 49 25 49 48 48 104 49 144 49 164 49 161 58 225 20 62 243 624 20 16 48 13 49 8 49 3 49 3 48-1 49 15 49 13 48 23 49 31 49 29 49 11 48 14 39-6 49-8 39 9 39 6 39 22 49 20 39 19 39 34 39 30 58 81" stroke="#34ffc2"/>
<path d="M1026 3126l20-66 29-18 19 29 30-3 19-33 29-43 20-33 29-11 20 19 29 0 19-16 20-56 29 14 20 15 29-102 19-17 30-38 19 43 29-62 20-70 29-58 19 42 30 88 19-27 29-26 20-47 29-26 20-46 29-12 19 22 20-7 29-20 20-28 29-21 19-19 30-7 19 3 29-12 20-26 29-35 20-32 29-27 19-22 29-47 20-32 29-32 20-20 29-49 19-14 30-25 48-72 49-69 49-58 49-35 48-15 49-5 49 41 48 65 49 11 49-3 49-18 48 4 49 11 49 6 49 15 48 17 49 38 49 35 48 89 49 138 49 155 49 147 58 210 20 62 243 575 20 16 48 12 49 1 49 10 49 3 48-1 49 18 49 8 48 19 49 29 49 31 49 12 48 1 39-6 49-7 39 7 39 10 39 18 49 19 39 24 39 31 39 26 58 84" stroke="#34ffc2"/>
<path d="M1026 3155l20-48 29-76 19 55 30-8 19-37 29-26 20-66 29 15 20 22 29-2 19-52 20-66 29 6 20 20 29-83 19-25 30-36 19 27 29-10 20-130 29-48 19 45 30 94 19-8 29-33 20-35 29-66 20-18 29-7 19 5 20 14 29-31 20-27 29-38 19 5 30-12 19 0 29-21 20-13 29-39 20-26 29-25 19-42 29-45 20-20 29-41 20-14 29-48 19-28 30-30 48-63 49-70 49-76 49-32 48-16 49-3 49 46 48 69 49 13 49 7 49-10 48 0 49 14 49 23 49 14 48 25 49 32 49 51 48 88 49 137 49 148 49 154 58 209 20 58 243 575 20 11 48 4 49 12 49 2 49 3 48-2 49 13 49 25 48 9 49 23 49 25 49 21 48 4 39-5 49-5 39 8 39 6 39 20 49 23 39 16 39 24 39 39 58 64" stroke="#2fffc7"/>
<path d="M1026 3271l20-33 29-53 19-17 30 4 19-23 29-83 20-17 29 19 20-1 29-13 19-39 20-61 29 8 20 22 29-102 19-3 30-46 19 47 29-47 20-103 29-56 19 45 30 74 19 0 29-49 20-34 29-25 20-39 29 6 19-14 20 6 29-12 20-18 29-42 19-2 30-17 19 10 29-24 20-20 29-30 20-27 29-32 19-29 29-31 20-41 29-21 20-31 29-37 19-20 30-40 48-50 49-72 49-66 49-42 48-20 49 1 49 44 48 70 49 26 49-19 49 3 48 6 49 8 49 20 49 18 48 24 49 30 49 43 48 94 49 129 49 133 49 152 58 195 20 54 243 543 20 9 48 11 49 0 49 12 49-7 48 5 49 9 49 15 48 22 49 24 49 29 49 11 48 0 39-2 49-5 39 4 39 7 39 14 49 20 39 23 39 25 39 25 58 69" stroke="#2fffc7"/>
<path d="M1026 3259l20-78 29-18 19 5 30-11 19-18 29-71 20-29 29 13 20-4 29-40 19-7 20-55 29 0 20 26 29-102 19-20 30-20 19 39 29-49 20-99 29-52 19 35 30 81 19-7 29-38 20-36 29-28 20-30 29-4 19-2 20 6 29-21 20-35 29-19 19 1 30-12 19-4 29-13 20-19 29-36 20-18 29-36 19-23 29-44 20-33 29-26 20-28 29-53 19 0 30-38 48-62 49-71 49-72 49-48 48-14 49 14 49 39 48 81 49 9 49-6 49 3 48 13 49 4 49 35 49 15 48 28 49 29 49 54 48 86 49 129 49 127 49 146 58 203 20 53 243 522 20 8 48 12 49 13 49 7 49-3 48 2 49 6 49 17 48 19 49 21 49 31 49 2 48 14 39-14 49 11 39-5 39 8 39 10 49 23 39 28 39 17 39 26 58 75" stroke="#2cffcb"/>
<path d="M1026 3265l20-51 29-44 19 15 30-18 19 0 29-61 20-41 29 4 20 13 29 15 19-32 20-81 29 22 20 8 29-100 19 6 30-36 19 54 29-41 20-93 29-83 19 56 30 85 19 10 29-39 20-33 29-32 20-30 29 2 19 7 20 1 29-4 20-34 29-30 19-18 30 8 19-1 29-13 20-9 29-40 20-15 29-25 19-33 29-39 20-29 29-27 20-25 29-45 19-9 30-38 48-60 49-61 49-61 49-44 48-5 49 3 49 55 48 68 49 6 49 3 49 5 48 5 49 9 49 30 49 21 48 27 49 35 49 43 48 77 49 116 49 121 49 141 58 169 20 51 243 477 20-2 48 17 49 6 49 14 49-9 48-1 49 10 49 15 48 17 49 24 49 12 49 16 48 8 39-5 49 0 39 6 39 7 39 9 49 19 39 10 39 36 39 27 58 49" stroke="#29ffce"/>
<path d="M1026 3198l20-25 29-2 19 10 30-11 19-48 29-31 20-35 29-16 20 23 29 11 19-60 20-55 29 9 20 13 29-92 19 3 30-36 19 62 29-53 20-92 29-63 19 45 30 82 19-6 29-29 20-28 29-30 20-17 29-6 19 12 20-6 29-13 20-11 29-23 19-16 30 0 19 0 29-22 20-3 29-25 20-32 29-35 19-28 29-25 20-38 29-28 20-32 29-39 19-12 30-37 48-57 49-71 49-73 49-50 48-5 49 15 49 60 48 84 49 15 49-3 49 9 48 6 49 29 49 17 49 29 48 34 49 37 49 51 48 86 49 110 49 119 49 132 58 176 20 43 243 459 20 13 48 10 49 3 49 11 49-12 48 3 49 10 49 19 48 17 49 17 49 28 49 1 48 11 39-7 49 0 39 0 39 11 39 13 49 20 39 16 39 14 39 30 58 61" stroke="#21ffd5"/>
<path d="M1026 3305l20-57 29-42 19 17 30-14 19-56 29-29 20-36 29-4 20-6 29-2 19-31 20-51 29 6 20 25 29-101 19 5 30-32 19 35 29-36 20-95 29-48 19 32 30 85 19-6 29-28 20-23 29-32 20-36 29 14 19 3 20-4 29-12 20-22 29-15 19-2 30-12 19 10 29-15 20-14 29-16 20-30 29-30 19-30 29-36 20-24 29-45 20-8 29-51 19-15 30-35 48-69 49-68 49-79 49-47 48-6 49 6 49 69 48 101 49 16 49-9 49 20 48 14 49 25 49 25 49 38 48 54 49 28 49 48 48 99 49 85 49 126 49 122 58 166 20 36 243 433 20 2 48 14 49 11 49 1 49 4 48-2 49 6 49 12 48 20 49 7 49 27 49 7 48 13 39-1 49-14 39 11 39 10 39 12 49 12 39 15 39 16 39 30 58 52" stroke="#1bffdc"/>
<path d="M1026 3302l20-22 29-47 19 7 30-18 19-23 29-57 20-33 29-20 20 33 29-21 19-45 20-49 29 26 20-8 29-73 19-11 30-13 19 6 29-19 20-109 29-31 19 37 30 61 19-5 29-20 20-30 29-30 20-10 29-13 19 2 20 2 29-13 20-18 29-17 19-7 30 7 19-3 29-17 20-14 29-12 20-16 29-51 19-20 29-44 20-28 29-29 20-20 29-39 19-29 30-33 48-53 49-81 49-67 49-70 48-2 49 20 49 80 48 94 49 17 49 0 49 12 48 27 49 27 49 33 49 37 48 44 49 45 49 56 48 91 49 92 49 98 49 136 58 155 20 42 243 403 20 11 48 10 49 1 49 13 49-3 48-8 49 16 49 2 48 17 49 25 49 22 49 2 48 12 39-13 49 4 39 4 39-3 39 14 49 23 39 9 39 24 39 19 58 51" stroke="#15ffe2"/>
<path d="M1026 3305l20-37 29-4 19-18 30 20 19-73 29-16 20-54 29 14 20 7 29-23 19-3 20-77 29 24 20 15 29-76 19-28 30-22 19 42 29-28 20-104 29-43 19 41 30 68 19 23 29-43 20-30 29-24 20-12 29-8 19 13 20 1 29-9 20-26 29-16 19-4 30-9 19 9 29-10 20-3 29-29 20-29 29-28 19-21 29-37 20-33 29-31 20-19 29-28 19-36 30-29 48-59 49-71 49-68 49-39 48-5 49 28 49 74 48 102 49 26 49 8 49 9 48 25 49 25 49 41 49 29 48 51 49 30 49 69 48 77 49 82 49 94 49 107 58 142 20 44 243 363 20 6 48 10 49 9 49-4 49 7 48 3 49-5 49 16 48 12 49 21 49 14 49 0 48 7 39 11 49-14 39 7 39 5 39 10 49 17 39 8 39 14 39 36 58 36" stroke="#0cf5eb"/>
<path d="M1026 3327l20-73 29-32 19 41 30-22 19-42 29-51 20-47 29 12 20 23 29-14 19-46 20-68 29 5 20 5 29-73 19-7 30-46 19 52 29-39 20-91 29-62 19 34 30 82 19 14 29-44 20-11 29-32 20-25 29 10 19 6 20-1 29-31 20-16 29-12 19-10 30 2 19 0 29-5 20-24 29-16 20-30 29-19 19-37 29-39 20-41 29-11 20-39 29-42 19-10 30-42 48-57 49-76 49-69 49-29 48 0 49 50 49 79 48 109 49 24 49 22 49 8 48 39 49 23 49 47 49 38 48 43 49 45 49 64 48 80 49 81 49 98 49 116 58 143 20 43 243 354 20 13 48 2 49 11 49 11 49-7 48 5 49 8 49 5 48 23 49 10 49 8 49 13 48 4 39-3 49-7 39 0 39 14 39 15 49-2 39 25 39 16 39 22 58 64" stroke="#02e8f5"/>
<path d="M1026 3299l20-8 29-61 19-8 30 28 19-10 29-115 20-2 29-4 20-11 29 53 19-53 20-38 29-14 20 18 29-79 19-8 30-44 19 56 29-58 20-85 29-55 19 46 30 108 19-18 29-15 20-39 29-7 20-26 29-11 19 24 20 0 29-33 20-8 29-36 19-4 30 13 19 7 29-29 20 1 29-33 20-16 29-37 19-15 29-38 20-35 29-29 20-21 29-42 19-15 30-26 48-52 49-74 49-43 49-25 48 13 49 65 49 81 48 96 49 35 49 28 49 15 48 25 49 42 49 38 49 44 48 43 49 37 49 60 48 78 49 67 49 91 49 90 58 124 20 32 243 315 20 9 48 3 49 2 49 9 49 3 48 1 49 10 49 1 48 10 49 5 49 24 49 5 48 4 39 0 49-2 39 1 39-1 39 6 49 26 39 10 39 4 39 34 58 51" stroke="#00d4ff"/>
<path d="M1026 3351l20-16 29-74 19 28 30-7 19 8 29-59 20-46 29 8 20-7 29 12 19-49 20-58 29 38 20-7 29-75 19-7 30-45 19 59 29-51 20-120 29-32 19 38 30 113 19-13 29-14 20-28 29-36 20-12 29 0 19 17 20-13 29-4 20-21 29-31 19-7 30 6 19-1 29 5 20-14 29-37 20-27 29-14 19-25 29-29 20-36 29-24 20-24 29-33 19-21 30-24 48-53 49-48 49-69 49-10 48 29 49 78 49 75 48 77 49 48 49 24 49 29 48 20 49 44 49 40 49 33 48 42 49 47 49 38 48 79 49 66 49 68 49 92 58 107 20 30 243 297 20 2 48-3 49 8 49 8 49 2 48 0 49 10 49 3 48 14 49 6 49 12 49 9 48 5 39-7 49-5 39 6 39 1 39 4 49 10 39 18 39 13 39 18 58 57" stroke="#00c9ff"/>
<path d="M1026 3427l20-79 29-13 19 11 30 16 19-49 29-17 20-82 29 38 20-26 29 45 19-74 20-95 29 55 20 31 29-138 19 20 30-32 19 41 29-2 20-127 29-61 19 46 30 120 19-34 29-22 20-19 29-21 20-11 29-15 19 18 20-5 29-21 20-19 29-16 19-10 30-7 19 12 29-16 20 10 29-39 20-23 29-22 19-27 29-44 20-31 29-16 20-24 29-43 19 3 30-34 48-40 49-57 49-52 49-6 48 31 49 73 49 90 48 82 49 45 49 35 49 26 48 32 49 25 49 40 49 53 48 40 49 43 49 48 48 53 49 66 49 66 49 86 58 91 20 23 243 272 20 5 48 12 49-7 49 9 49 1 48 7 49 1 49 11 48 1 49 18 49 11 49-2 48 4 39-11 49 10 39 4 39-9 39 8 49 11 39 16 39 1 39 30 58 61" stroke="#00bbff"/>
<path d="M1026 3390l20-61 29-46 19 16 30 28 19-21 29-69 20-36 29 1 20 21 29 10 19-63 20-34 29-18 20 49 29-86 19-5 30-60 19 47 29-22 20-72 29-76 19 46 30 87 19-4 29-33 20-18 29-23 20-18 29 2 19 4 20-5 29-11 20-19 29-30 19 12 30-19 19 5 29-4 20-15 29-33 20-17 29-17 19-27 29-42 20-38 29-20 20-14 29-39 19-8 30-25 48-34 49-65 49-35 49-10 48 43 49 104 49 83 48 79 49 57 49 30 49 35 48 30 49 32 49 49 49 44 48 48 49 47 49 36 48 59 49 57 49 67 49 72 58 92 20 23 243 241 20 10 48 6 49 7 49-2 49 10 48-3 49 5 49 15 48-1 49 3 49 16 49 1 48 3 39 1 49-3 39 3 39 6 39 4 49 4 39 4 39 23 39 18 58 66" stroke="#00aaff"/>
<path d="M1026 3440l20-49 29-20 19-28 30 18 19-30 29-98 20 2 29-36 20-13 29 3 19-62 20-37 29-20 20 46 29-85 19-29 30-50 19 42 29-5 20-91 29-41 19 49 30 44 19 6 29-27 20-6 29-5 20-10 29-2 19 3 20 11 29-36 20 1 29-10 19-8 30 3 19 11 29 4 20-3 29-14 20-13 29-22 19-19 29-17 20-34 29-4 20-5 29-24 19-9 30 5 48-41 49-3 49-16 49 22 48 60 49 115 49 73 48 83 49 64 49 35 49 31 48 32 49 33 49 43 49 38 48 37 49 29 49 50 48 38 49 41 49 46 49 56 58 54 20 23 243 168 20 13 48 2 49-5 49 5 49-3 48-3 49 13 49-2 48 14 49-5 49 3 49 6 48-3 39-9 49 3 39 0 39 3 39 3 49 7 39 3 39 9 39 20 58 55" stroke="#0046ff"/>
<path d="M1026 3418l20-22 29-85 19 18 30-10 19-28 29-40 20-57 29-24 20-9 29 1 19-46 20-63 29 18 20-3 29-82 19-1 30-39 19 16 29-54 20-95 29-32 19 15 30 79 19 12 29-30 20-34 29-10 20-26 29 9 19 2 20-9 29-11 20-24 29-28 19 3 30-15 19 10 29-10 20-12 29-30 20-17 29-43 19-17 29-44 20-23 29-26 20-20 29-42 19-3 30-38 48-43 49-50 49-30 49 3 48 59 49 119 49 94 48 95 49 86 49 33 49 29 48 42 49 50 49 43 49 57 48 47 49 49 49 50 48 61 49 68 49 56 49 78 58 85 20 26 243 265 20-3 48 8 49-2 49 12 49-1 48-4 49 13 49 5 48 4 49 11 49 8 49-7 48 10 39-12 49 4 39 2 39 3 39 7 49 8 39 4 39 11 39 34 58 71" stroke="#0080ff"/>
<path d="M1026 3424l20-40 29-5 19-25 30-11 19 12 29-132 20-39 29 11 20-26 29 47 19-47 20-82 29 16 20-19 29-78 19-7 30-44 19 50 29-20 20-101 29-65 19 37 30 117 19-22 29-4 20-17 29-21 20-27 29 22 19-1 20 12 29-12 20-23 29-31 19 3 30 15 19 7 29 8 20-7 29-18 20-22 29-21 19-15 29-30 20-17 29-15 20-18 29-30 19 8 30-20 48-12 49-26 49-24 49 16 48 63 49 105 49 88 48 84 49 69 49 40 49 26 48 12 49 57 49 38 49 36 48 38 49 40 49 37 48 49 49 42 49 43 49 54 58 77 20 16 243 182 20-1 48 9 49-6 49 16 49-12 48 12 49 4 49 4 48 7 49 3 49 2 49 1 48 0 39-3 49 1 39 0 39 8 39-3 49 4 39 2 39 13 39 26 58 50" stroke="#0052ff"/>
<path d="M1026 3447l20-24 29-27 19-7 30-1 19-52 29-67 20-31 29-23 20 24 29-31 19-30 20-73 29 8 20 27 29-108 19-2 30-18 19 26 29-31 20-54 29-42 19 21 30 74 19-10 29-9 20-12 29-20 20-10 29 12 19 5 20-2 29 0 20-19 29-20 19-15 30 17 19 6 29 7 20-7 29-24 20-7 29-26 19-8 29-21 20-26 29-12 20-15 29-11 19-11 30 0 48-12 49-40 49-6 49 24 48 48 49 103 49 80 48 82 49 73 49 17 49 28 48 30 49 42 49 22 49 49 48 34 49 46 49 36 48 34 49 46 49 40 49 54 58 50 20 22 243 176 20-6 48 8 49-2 49-2 49 8 48 0 49 1 49 12 48 0 49 2 49 2 49 1 48 3 39-9 49 2 39 8 39 9 39-2 49 7 39-11 39 17 39 22 58 45" stroke="#004cff"/>
<path d="M1026 3589l20-26 29-15 19-38 30 14 19-51 29-79 20-40 29-24 20 15 29-16 19-66 20-45 29 6 20 50 29-110 19-39 30-7 19 56 29-55 20-61 29-73 19 48 30 89 19 8 29-43 20 13 29-15 20-29 29 22 19-4 20 11 29-10 20-13 29-22 19-4 30 22 19 0 29 5 20-5 29-10 20-15 29-12 19-12 29-13 20-17 29 3 20-2 29-27 19-1 30 3 48-12 49-18 49 5 49 13 48 54 49 85 49 86 48 63 49 55 49 29 49 36 48 10 49 40 49 24 49 36 48 27 49 31 49 27 48 38 49 27 49 37 49 40 58 42 20 14 243 124 20 7 48 11 49-7 49-2 49 9 48 4 49-2 49 0 48-2 49 8 49-1 49 8 48-15 39 7 49 3 39 8 39-2 39-6 49 2 39 2 39 9 39 7 58 53" stroke="#002fff"/>
<path d="M1026 3370l20-54 29 20 19 15 30-52 19 9 29-77 20-25 29-26 20 12 29-26 19-13 20-106 29 29 20 28 29-74 19-20 30-31 19 44 29-62 20-78 29-25 19 16 30 78 19-13 29-1 20-43 29 2 20-29 29 18 19-8 20 14 29-27 20-6 29-16 19-2 30 2 19-5 29-5 20-7 29-25 20-22 29-9 19-30 29-36 20-10 29-19 20-19 29-27 19-3 30-21 48-35 49-23 49-35 49 17 48 55 49 103 49 94 48 86 49 72 49 37 49 20 48 39 49 37 49 46 49 38 48 51 49 38 49 40 48 48 49 53 49 57 49 54 58 70 20 30 243 211 20-1 48 11 49-4 49 5 49-1 48 2 49 5 49 6 48 14 49-2 49 3 49 4 48 0 39-10 49 4 39 6 39 5 39-6 49 7 39 8 39 12 39 17 58 69" stroke="#0068ff"/>
<path d="M1026 3437l20-16 29 13 19-17 30-50 19-22 29-44 20-16 29-34 20-46 29 15 19-52 20-34 29 12 20 9 29-98 19-27 30-23 19 53 29-25 20-105 29-72 19 51 30 113 19-2 29-15 20-2 29-12 20-25 29 0 19 2 20 19 29-3 20-27 29-19 19-5 30 18 19 13 29 1 20-7 29-13 20-4 29-27 19 0 29-26 20-20 29-13 20 3 29-21 19 6 30-14 48-6 49-26 49-3 49 30 48 68 49 93 49 84 48 68 49 68 49 28 49 29 48 37 49 15 49 37 49 33 48 41 49 33 49 43 48 34 49 30 49 40 49 29 58 68 20 7 243 153 20 0 48 8 49-6 49 6 49 4 48-4 49 5 49 0 48 3 49 4 49 7 49 4 48-6 39 1 49-6 39 6 39 2 39-4 49 9 39 1 39 2 39 19 58 50" stroke="#0033ff"/>
<path d="M1026 3490l20-76 29-44 19 20 30-19 19-39 29-82 20-48 29-27 20 22 29-38 19-33 20-75 29 35 20-11 29-96 19 22 30-71 19 49 29-49 20-86 29-64 19 52 30 80 19-18 29-18 20-5 29-41 20-16 29-1 19 19 20-13 29-12 20-24 29-20 19 0 30 5 19 2 29-18 20 0 29-25 20-26 29-25 19-11 29-41 20-31 29-32 20-12 29-23 19-8 30-26 48-34 49-38 49-44 49 16 48 58 49 116 49 100 48 84 49 74 49 50 49 33 48 34 49 32 49 54 49 46 48 43 49 39 49 55 48 53 49 57 49 62 49 62 58 83 20 32 243 226 20 8 48 3 49 3 49 4 49-7 48 11 49 7 49 7 48 7 49 11 49 0 49-1 48 0 39-4 49 0 39 10 39-4 39-1 49 8 39 13 39 3 39 31 58 70" stroke="#0072ff"/>
<path d="M1026 3564l20-101 29 12 19 16 30-25 19-13 29-79 20-2 29-50 20-13 29-19 19-29 20-87 29 52 20-13 29-76 19-14 30-28 19 27 29-9 20-67 29-81 19 58 30 76 19-16 29 7 20-16 29-17 20 9 29-2 19-1 20-1 29 5 20-15 29-25 19 21 30 8 19 11 29 11 20 4 29-26 20-19 29-9 19-12 29 9 20-30 29-11 20 7 29-11 19-6 30-2 48-6 49-11 49 5 49 26 48 48 49 95 49 70 48 79 49 48 49 34 49 20 48 22 49 30 49 23 49 36 48 29 49 25 49 42 48 27 49 33 49 23 49 45 58 34 20 14 243 119 20 1 48 6 49-9 49 8 49 6 48-5 49 6 49-2 48 8 49-7 49 9 49 0 48 1 39-7 49 0 39 1 39 7 39 1 49 3 39-9 39 17 39 7 58 46" stroke="#001eff"/>
<path d="M1026 3548l20-67 29-57 19 13 30-13 19-68 29-48 20-47 29 6 20-1 29-38 19-2 20-78 29 9 20 9 29-87 19-2 30-42 19 69 29-47 20-65 29-70 19 35 30 90 19-3 29-14 20-21 29 8 20-16 29-12 19 18 20 14 29-5 20-31 29-10 19-11 30 13 19-4 29 21 20-16 29-2 20-14 29-20 19-8 29-34 20-8 29-4 20-24 29-2 19-1 30-10 48-17 49-6 49-13 49 26 48 56 49 84 49 85 48 80 49 53 49 36 49 32 48 22 49 26 49 34 49 31 48 36 49 40 49 34 48 30 49 43 49 46 49 37 58 43 20 23 243 148 20-2 48 2 49 10 49-1 49-5 48 9 49-1 49 1 48 1 49 9 49 7 49 3 48-8 39 1 49-7 39 6 39 9 39-3 49 1 39 5 39 5 39 24 58 46" stroke="#003aff"/>
<path d="M1026 3351l20 36 29-44 19 46 30 0 19-29 29-117 20-15 29 13 20-8 29-5 19-41 20-100 29 65 20-4 29-100 19-9 30 1 19 31 29-14 20-101 29-39 19 18 30 71 19 15 29 3 20-5 29-33 20-14 29 24 19-4 20 28 29-16 20-30 29-11 19-12 30 10 19 20 29-2 20-10 29-8 20-19 29-16 19 2 29-36 20-15 29-1 20-12 29-17 19 2 30-4 48-18 49-20 49-7 49 31 48 41 49 93 49 83 48 80 49 55 49 39 49 24 48 25 49 29 49 34 49 37 48 32 49 40 49 31 48 44 49 35 49 40 49 33 58 64 20 7 243 161 20 3 48-1 49 4 49-5 49 4 48-2 49 10 49-1 48 10 49-5 49 7 49 2 48 1 39-3 49-2 39 1 39 1 39 4 49-1 39 9 39 8 39 19 58 40" stroke="#003dff"/>
<path d="M1026 3538l20-12 29-62 19 49 30-57 19 41 29-117 20-39 29-55 20 60 29-42 19-40 20-32 29-15 20 25 29-73 19-4 30-47 19 53 29-16 20-101 29-20 19 3 30 74 19 5 29-1 20-20 29-4 20-18 29 4 19-14 20 41 29-21 20-24 29-20 19 1 30 28 19-4 29 26 20-19 29-17 20-10 29 0 19-12 29-7 20-24 29-1 20-15 29-9 19-5 30-2 48-18 49 6 49-13 49 24 48 59 49 89 49 64 48 74 49 59 49 27 49 26 48 18 49 32 49 20 49 30 48 39 49 28 49 27 48 41 49 30 49 28 49 35 58 43 20 22 243 120 20 0 48 5 49-6 49 10 49 3 48-2 49 1 49 7 48-4 49 2 49-1 49 3 48 3 39 0 49 4 39-2 39-4 39 1 49 6 39 4 39-2 39 18 58 50" stroke="#0029ff"/>
<path d="M1026 3418l20-3 29-21 19-4 30 6 19-109 29 10 20-53 29-45 20 9 29-21 19-49 20-56 29 18 20 21 29-100 19-24 30-33 19 57 29-12 20-109 29-56 19 40 30 98 19-24 29-17 20-27 29 4 20-18 29 0 19 11 20 11 29-27 20-2 29-36 19 10 30-7 19 20 29-5 20-14 29-13 20-26 29-18 19-30 29-8 20-28 29-21 20-10 29-28 19 1 30-22 48-27 49-23 49-21 49 13 48 59 49 115 49 93 48 82 49 59 49 46 49 22 48 28 49 36 49 40 49 40 48 45 49 38 49 39 48 48 49 41 49 52 49 56 58 69 20 10 243 204 20-5 48 22 49-16 49 10 49 0 48-4 49 15 49 0 48 3 49 8 49 1 49-2 48 6 39-2 49-4 39-2 39 6 39 11 49 0 39 12 39 5 39 22 58 59" stroke="#005cff"/>
<path d="M1026 3426l20-28 29-62 19-16 30 6 19-4 29-49 20-75 29-18 20-7 29 14 19-93 20-32 29 1 20 41 29-110 19-19 30-49 19 63 29 1 20-163 29-66 19 52 30 116 19 1 29-23 20-31 29 1 20-31 29 4 19 16 20-9 29 1 20-24 29-36 19 4 30-1 19 29 29-7 20-18 29-25 20-10 29-38 19 0 29-46 20-18 29-16 20-27 29-21 19 1 30-23 48-27 49-35 49-19 49 7 48 62 49 103 49 104 48 84 49 72 49 46 49 20 48 35 49 36 49 48 49 51 48 38 49 34 49 50 48 50 49 52 49 55 49 65 58 64 20 19 243 217 20 1 48-2 49 11 49 2 49 0 48 2 49-1 49 9 48 1 49 11 49 0 49 1 48 1 39 0 49-8 39 10 39 1 39 3 49 5 39 14 39 1 39 21 58 60" stroke="#0062ff"/>
<path d="M1026 3365l20 5 29-34 19-47 30 45 19-57 29-79 20-20 29-13 20-12 29 19 19-58 20-78 29 30 20-23 29-69 19-14 30-35 19 34 29-34 20-104 29-64 19 38 30 110 19-34 29-2 20-30 29-19 20-19 29 4 19-3 20-1 29-7 20-26 29-32 19-5 30 8 19 2 29-11 20-6 29-29 20-18 29-30 19-11 29-39 20-43 29-25 20-16 29-33 19-7 30-29 48-36 49-38 49-41 49 13 48 51 49 112 49 100 48 103 49 68 49 47 49 40 48 20 49 48 49 56 49 40 48 44 49 53 49 53 48 52 49 55 49 70 49 64 58 85 20 26 243 246 20-1 48 13 49 4 49-3 49 5 48 4 49 5 49 7 48 8 49 1 49 11 49-4 48 9 39 1 49-12 39 7 39-8 39 14 49 3 39 6 39 21 39 22 58 67" stroke="#0078ff"/>
<path d="M1026 3607l20-46 29 12 19-41 30 26 19-83 29-53 20-37 29-77 20 48 29 16 19-73 20-67 29-2 20 55 29-147 19 27 30-38 19 72 29-36 20-128 29-35 19 58 30 92 19-12 29-17 20-6 29-15 20-36 29 33 19 12 20 18 29-30 20-10 29-40 19 9 30 21 19 22 29 3 20-1 29-16 20-11 29-10 19-13 29-13 20-16 29-8 20-6 29-8 19-9 30 5 48-15 49-2 49-5 49 24 48 64 49 87 49 66 48 63 49 60 49 26 49 23 48 23 49 27 49 34 49 21 48 32 49 35 49 32 48 21 49 32 49 41 49 18 58 53 20 7 243 120 20 6 48-6 49 4 49-5 49 7 48 2 49-6 49 12 48-3 49 9 49-4 49 2 48 2 39 0 49-7 39 6 39 2 39-2 49 2 39 4 39 8 39 15 58 38" stroke="#0024ff"/>
<path d="M1026 3730l20 15 29-167 19-17 30 35 19-20 29-105 20-7 29-55 20-10 29-3 19-44 20-62 29 14 20 31 29-154 19 4 30-18 19 77 29-31 20-95 29-72 19 49 30 110 19-3 29 17 20-41 29 5 20-9 29-26 19 41 20 7 29-11 20-18 29-41 19 33 30 6 19 25 29-4 20 4 29-5 20 0 29-21 19-6 29-5 20-10 29 1 20 7 29-18 19 10 30 4 48 2 49 8 49 3 49 30 48 53 49 71 49 73 48 52 49 48 49 34 49 12 48 29 49 21 49 21 49 22 48 26 49 20 49 31 48 20 49 25 49 28 49 21 58 27 20 0 243 94 20-4 48 1 49 2 49-3 49 1 48 3 49 5 49-6 48 7 49 1 49 1 49-3 48 1 39 0 49-12 39 2 39 18 39-7 49 1 39 10 39-9 39 16 58 36" stroke="#0000f5"/>
<path d="M1026 3703l20-156 29 52 19 22 30-15 19-81 29-44 20-65 29 26 20-33 29-22 19-58 20-113 29 36 20 78 29-138 19-18 30-48 19 74 29-36 20-81 29-54 19 13 30 134 19 7 29-25 20-23 29 0 20-13 29-10 19 36 20-2 29-11 20-18 29-44 19 35 30-5 19 43 29 5 20-4 29-15 20-8 29 0 19-5 29-17 20-18 29 18 20-11 29-9 19 13 30 8 48-6 49 8 49 15 49 13 48 66 49 79 49 67 48 68 49 50 49 28 49 28 48 24 49 17 49 30 49 18 48 26 49 30 49 34 48 9 49 32 49 22 49 22 58 31 20 11 243 88 20-2 48 2 49-2 49 0 49 2 48 8 49-6 49 7 48-1 49-12 49 12 49-5 48 1 39 2 49-1 39 3 39-3 39 3 49-5 39 7 39 3 39 16 58 34" stroke="#0000f5"/>
<path d="M1026 3592l20-98 29-24 19-14 30 21 19 7 29-98 20-29 29-20 20 16 29-19 19-59 20-81 29-18 20 63 29-109 19-4 30-33 19 73 29-33 20-101 29-66 19 50 30 121 19-15 29-12 20-13 29-8 20-13 29 3 19 19 20 14 29-15 20-32 29-6 19-6 30 27 19-12 29 28 20 3 29-11 20-4 29-16 19-22 29-2 20-14 29 0 20-4 29-10 19 2 30-5 48 0 49 2 49-12 49 38 48 51 49 79 49 73 48 67 49 53 49 35 49 29 48 14 49 22 49 39 49 28 48 24 49 25 49 34 48 28 49 27 49 36 49 31 58 33 20 11 243 117 20-8 48 8 49-6 49 7 49-6 48 2 49 9 49 7 48-4 49 4 49 0 49-1 48-1 39-1 49-10 39 9 39 8 39-12 49 11 39-2 39-2 39 22 58 35" stroke="#000aff"/>
<path d="M1026 3497l20-25 29 17 19 2 30-18 19 24 29-92 20-61 29-14 20-1 29-47 19-30 20-67 29 22 20 14 29-69 19-24 30-1 19 33 29-41 20-75 29-29 19 41 30 51 19 9 29-11 20-4 29-29 20-4 29 26 19 13 20-3 29-13 20-19 29-4 19 12 30 5 19 11 29 17 20-8 29-7 20-5 29-15 19-12 29-9 20-2 29-2 20-10 29-5 19 6 30-15 48 14 49-5 49 6 49 26 48 56 49 85 49 72 48 65 49 63 49 22 49 18 48 32 49 20 49 33 49 24 48 24 49 21 49 35 48 27 49 30 49 26 49 25 58 38 20 8 243 98 20 16 48-5 49-3 49 4 49 3 48-7 49 3 49 5 48 9 49 0 49-6 49-2 48 7 39 1 49-6 39 0 39-4 39 6 49 6 39-3 39 6 39 8 58 37" stroke="#0000ff"/>
<path d="M1026 3595l20-26 29-61 19 0 30 22 19-91 29 1 20-98 29 22 20-22 29 15 19-71 20-85 29 33 20 28 29-121 19-17 30-48 19 68 29 13 20-137 29-48 19 44 30 111 19-11 29-6 20-15 29-22 20 0 29 12 19 7 20 29 29-15 20-41 29-11 19 18 30 5 19 14 29 21 20 3 29-19 20-15 29-3 19-5 29-18 20-18 29 16 20-6 29-19 19 11 30-5 48-10 49 3 49 13 49 31 48 49 49 84 49 79 48 65 49 55 49 35 49 14 48 14 49 37 49 22 49 33 48 28 49 25 49 24 48 32 49 22 49 31 49 31 58 37 20 9 243 100 20 7 48-5 49 2 49 1 49 0 48 1 49-5 49 13 48-11 49 7 49 7 49-2 48 2 39-11 49 8 39-2 39 3 39-1 49 7 39-7 39 14 39 10 58 35" stroke="#0000ff"/>
<path d="M1026 3550l20 21 29-90 19-5 30-40 19 4 29-66 20-80 29-14 20 31 29-8 19-64 20-46 29 1 20 36 29-99 19-27 30-42 19 67 29-11 20-108 29-39 19 62 30 100 19-16 29 2 20-40 29 1 20 3 29-6 19 27 20 2 29 4 20-28 29-14 19 6 30 15 19 12 29 22 20 0 29-2 20-15 29-11 19 6 29-13 20-12 29-2 20-5 29-9 19 13 30 5 48-4 49 4 49 9 49 23 48 70 49 66 49 79 48 66 49 55 49 20 49 29 48 19 49 27 49 22 49 32 48 29 49 23 49 20 48 31 49 23 49 30 49 18 58 39 20 3 243 93 20 7 48-1 49-2 49 3 49-4 48-4 49 13 49-6 48 8 49 3 49 4 49-1 48-3 39-6 49 2 39-5 39 6 39-6 49 2 39 13 39 5 39 6 58 30" stroke="#0000f8"/>
<path d="M1026 3601l20-24 29-99 19 85 30-14 19-85 29-59 20-27 29-16 20 25 29-28 19-65 20-97 29 23 20 13 29-92 19 9 30-42 19 50 29-9 20-121 29-22 19 35 30 111 19-18 29 2 20-13 29-19 20 9 29-6 19 7 20 23 29-21 20-15 29-27 19 2 30 21 19 17 29 16 20-15 29-2 20-6 29-19 19 4 29-23 20-10 29 10 20-1 29-11 19 9 30-3 48-2 49-1 49 14 49 16 48 56 49 86 49 76 48 65 49 45 49 33 49 23 48 31 49 20 49 25 49 30 48 12 49 38 49 24 48 28 49 29 49 24 49 30 58 41 20-5 243 101 20 5 48 4 49 1 49-10 49 8 48-4 49 3 49-2 48 10 49 11 49-18 49 5 48 0 39-1 49-8 39 5 39 3 39-9 49 16 39-1 39 5 39 12 58 32" stroke="#0000ff"/>
<path d="M1026 3616l20-52 29-29 19-26 30 89 19-61 29-59 20-124 29-9 20 30 29-34 19-6 20-96 29-22 20 28 29-111 19 32 30-56 19 71 29-29 20-84 29-53 19 30 30 97 19-9 29-2 20-18 29 4 20-26 29 9 19 16 20 10 29-4 20-16 29-16 19 2 30 4 19 16 29 19 20-4 29-24 20-12 29-3 19-15 29 7 20-21 29 7 20-19 29-2 19 7 30-2 48 1 49 0 49-2 49 29 48 63 49 75 49 77 48 61 49 57 49 33 49 14 48 18 49 22 49 30 49 33 48 20 49 30 49 26 48 37 49 17 49 30 49 25 58 40 20 15 243 99 20 0 48 3 49-6 49 5 49 5 48-4 49 3 49 4 48-6 49 8 49 5 49-7 48-5 39 11 49-8 39-2 39 10 39-3 49 3 39 2 39 6 39 14 58 33" stroke="#0000ff"/>
<path d="M1026 3485l20 55 29-84 19 43 30-5 19-46 29-70 20-19 29-4 20-10 29 11 19-101 20-9 29-22 20 28 29-92 19 12 30-39 19 65 29-19 20-94 29-52 19 48 30 86 19-8 29 9 20-27 29 4 20-2 29 0 19 10 20 22 29 4 20-39 29-19 19 23 30 15 19 11 29 29 20-20 29-6 20-9 29-9 19 12 29-18 20-21 29 33 20-12 29-15 19 18 30 8 48-7 49 5 49 6 49 41 48 60 49 62 49 68 48 72 49 44 49 26 49 12 48 27 49 22 49 29 49 11 48 27 49 26 49 23 48 29 49 11 49 27 49 13 58 31 20 23 243 67 20 6 48-1 49 0 49 3 49 0 48 0 49 2 49-5 48 2 49-10 49 12 49 3 48-8 39 6 49 1 39 1 39-10 39 6 49 5 39 0 39 4 39 10 58 33" stroke="#0000e5"/>
<path d="M1026 3606l20-7 29-78 19-7 30 23 19 34 29-95 20-68 29-30 20-31 29-49 19-21 20-52 29-21 20 35 29-102 19-2 30-2 19 10 29-38 20-54 29-60 19 35 30 84 19-4 29-22 20 2 29-9 20-22 29 5 19 5 20 24 29-4 20-35 29 2 19-5 30 14 19-3 29 17 20 7 29-17 20-19 29 10 19-11 29-26 20-10 29 6 20-9 29-14 19 12 30-6 48-9 49-1 49 1 49 26 48 62 49 87 49 79 48 69 49 50 49 29 49 24 48 22 49 29 49 30 49 20 48 27 49 35 49 33 48 22 49 36 49 21 49 34 58 52 20 1 243 123 20-4 48 1 49-3 49 9 49-10 48 7 49-1 49 2 48 2 49 4 49 3 49-2 48 0 39-14 49 8 39 8 39-2 39-1 49 5 39 4 39 6 39 9 58 44" stroke="#0007ff"/>
<path d="M1026 3579l20-31 29-98 19 30 30 31 19-69 29-80 20-9 29-16 20 18 29-21 19-50 20-90 29 50 20 27 29-113 19-20 30 0 19 37 29-19 20-88 29-66 19 29 30 120 19-23 29-4 20-23 29-1 20-5 29-5 19 17 20 20 29-3 20-29 29-27 19 1 30 28 19 12 29 16 20-10 29-14 20-6 29-12 19-2 29-11 20-23 29 12 20-13 29-20 19 17 30-3 48 2 49-4 49 0 49 23 48 53 49 84 49 74 48 63 49 63 49 22 49 23 48 22 49 24 49 28 49 24 48 27 49 28 49 33 48 33 49 27 49 18 49 42 58 31 20 6 243 111 20 3 48 1 49 5 49-14 49 11 48-6 49 20 49-11 48-2 49 11 49-2 49-6 48 10 39-6 49-8 39 7 39-2 39 2 49-2 39 7 39 2 39 17 58 30" stroke="#0004ff"/>
<path d="M1026 3542l20-44 29-7 19 9 30 55 19-118 29-59 20-45 29-48 20 24 29-4 19-15 20-119 29 25 20 0 29-86 19 4 30-52 19 46 29 5 20-134 29-40 19 69 30 79 19-24 29 9 20-4 29-17 20-6 29-25 19 36 20 33 29-39 20-19 29-12 19 2 30 17 19 2 29 22 20 0 29-23 20-4 29-8 19-14 29-18 20-15 29 4 20-15 29-15 19 23 30-6 48-10 49-7 49-1 49 39 48 41 49 94 49 78 48 72 49 52 49 36 49 15 48 32 49 25 49 31 49 26 48 29 49 29 49 31 48 37 49 31 49 33 49 28 58 39 20 19 243 118 20-7 48 9 49 1 49 3 49-1 48 1 49 3 49-2 48-2 49 9 49 2 49 6 48-7 39-3 49 0 39-1 39-4 39 14 49-6 39 10 39-6 39 17 58 52" stroke="#000fff"/>
<path d="M1026 3545l20-21 29-38 19-36 30 53 19-52 29-84 20-31 29-35 20 59 29-66 19-10 20-94 29 17 20 6 29-93 19-3 30-51 19 51 29 5 20-100 29-56 19 52 30 101 19-15 29-21 20-5 29-6 20-18 29 14 19-15 20 19 29 0 20-8 29-30 19 8 30 19 19 22 29-5 20-1 29-11 20-8 29-21 19 0 29-5 20-24 29-10 20-7 29-2 19 2 30-8 48 1 49-5 49-5 49 28 48 64 49 78 49 71 48 88 49 46 49 29 49 20 48 20 49 40 49 22 49 34 48 25 49 36 49 24 48 23 49 40 49 22 49 33 58 44 20 11 243 126 20-11 48 6 49-1 49 1 49 2 48 3 49-11 49 8 48 3 49-1 49-2 49 10 48-2 39 3 49-8 39 6 39 6 39 0 49-1 39 4 39 0 39 18 58 40" stroke="#000eff"/>
<path d="M1026 3665l20-17 29-63 19 55 30-69 19-67 29-45 20-42 29-30 20-22 29 26 19-37 20-81 29 0 20 1 29-107 19 13 30-33 19 34 29-32 20-71 29-70 19 49 30 92 19-10 29-4 20-9 29-12 20-17 29-4 19 11 20 3 29 2 20-26 29-10 19 0 30 3 19 20 29-9 20 7 29-4 20-11 29-2 19-29 29-11 20-31 29 8 20 5 29-7 19 9 30-11 48 0 49-18 49 7 49 18 48 66 49 82 49 65 48 79 49 48 49 36 49 14 48 37 49 11 49 33 49 25 48 25 49 31 49 32 48 24 49 32 49 29 49 35 58 42 20 10 243 118 20-3 48 6 49-7 49 7 49 3 48 1 49-4 49 1 48 7 49 6 49-3 49-5 48 1 39 5 49-9 39 5 39 9 39-1 49-3 39 3 39 6 39 21 58 35" stroke="#0012ff"/>
<path d="M1026 3664l20-99 29-53 19 64 30-85 19 44 29-85 20-28 29-19 20 56 29-87 19 12 20-138 29 58 20 7 29-143 19 50 30-43 19 80 29-38 20-98 29-63 19 92 30 63 19-12 29-9 20 3 29-13 20-25 29 24 19-1 20 39 29-14 20-24 29-10 19-6 30 34 19 5 29 22 20-3 29-15 20-11 29 5 19 0 29-19 20-3 29-3 20-6 29-5 19 22 30-13 48 14 49-6 49 16 49 28 48 49 49 77 49 60 48 62 49 59 49 17 49 23 48 20 49 12 49 28 49 18 48 29 49 21 49 26 48 19 49 27 49 16 49 23 58 26 20 5 243 79 20-8 48 9 49-2 49-5 49 2 48-1 49 5 49 0 48 3 49 5 49 3 49-13 48 4 39 4 49-1 39 4 39-5 39 7 49-6 39-4 39 15 39 1 58 37" stroke="#0000e7"/>
<path d="M1026 3639l20-16 29-68 19-29 30 50 19-78 29-20 20-58 29-16 20 13 29-33 19-34 20-84 29 34 20 9 29-114 19-2 30-31 19 50 29-29 20-70 29-49 19 52 30 59 19 9 29-2 20-22 29-14 20-2 29-9 19 21 20 10 29-6 20-4 29-27 19 5 30 5 19 30 29 2 20 5 29-13 20 4 29-19 19-3 29-9 20-27 29 19 20-5 29-6 19 1 30-6 48 13 49 2 49 15 49 29 48 52 49 71 49 65 48 71 49 50 49 21 49 23 48 32 49 21 49 25 49 17 48 23 49 28 49 20 48 27 49 21 49 26 49 19 58 35 20 6 243 88 20 0 48 7 49-1 49 4 49-9 48 5 49 3 49-8 48 0 49 6 49 0 49-1 48 3 39 3 49-7 39 1 39 0 39 0 49-5 39 9 39 9 39 7 58 34" stroke="#0000f8"/>
<path d="M1026 3718l20-31 29-32 19 2 30-67 19 21 29-69 20-89 29-45 20 57 29-24 19-52 20-103 29 6 20-1 29-73 19-6 30-31 19 36 29-2 20-89 29-60 19 36 30 84 19 5 29-35 20-16 29 25 20-23 29 18 19 7 20 16 29-19 20-23 29-18 19 17 30 24 19 12 29-14 20 10 29-9 20-19 29 10 19-15 29-1 20-19 29 17 20-11 29-12 19 8 30 10 48-11 49 3 49 12 49 30 48 53 49 73 49 71 48 68 49 43 49 42 49 9 48 23 49 27 49 26 49 23 48 27 49 24 49 18 48 35 49 14 49 20 49 30 58 19 20 14 243 89 20 6 48-11 49 11 49-5 49 5 48-6 49 4 49 6 48-2 49 5 49-4 49 7 48-2 39-6 49 3 39-5 39-6 39 13 49-7 39 4 39 12 39-3 58 46" stroke="#0000f5"/>
<path d="M1026 3705l20-56 29-10 19-60 30 32 19-88 29-88 20-6 29-44 20 5 29 13 19-49 20-115 29 32 20 38 29-109 19-14 30-52 19 85 29-8 20-117 29-63 19 57 30 112 19 2 29-11 20-29 29-6 20-6 29-12 19 39 20 3 29-8 20-16 29-32 19 4 30 34 19 14 29-7 20 28 29-14 20-16 29-1 19 1 29-9 20-17 29 8 20-3 29-20 19 20 30 5 48-2 49 11 49 6 49 32 48 57 49 71 49 60 48 68 49 46 49 39 49 9 48 25 49 22 49 23 49 27 48 23 49 17 49 24 48 26 49 22 49 35 49 13 58 31 20-1 243 86 20 4 48-9 49 1 49 3 49 9 48-16 49 9 49-4 48 6 49 0 49 1 49-1 48 2 39-7 49 3 39 2 39 6 39-2 49-8 39 1 39 12 39 15 58 21" stroke="#0000e8"/>
<path d="M1026 3638l20-175 29-6 19 36 30-35 19 3 29-91 20-27 29-32 20 39 29-15 19-96 20-40 29 24 20 29 29-98 19-17 30-9 19 46 29-19 20-66 29-72 19 25 30 110 19-7 29-10 20-4 29 7 20-25 29 14 19 16 20-9 29 3 20-11 29-17 19-11 30 26 19 34 29-8 20 9 29-6 20-21 29-2 19 5 29-12 20-17 29 10 20-5 29-3 19-2 30 1 48 19 49-8 49 14 49 37 48 50 49 71 49 77 48 59 49 52 49 28 49 19 48 22 49 19 49 33 49 23 48 29 49 23 49 24 48 17 49 34 49 16 49 26 58 31 20 6 243 84 20 7 48-7 49 8 49 1 49-1 48-4 49 2 49 4 48 7 49-2 49-6 49-1 48 9 39-14 49 9 39-5 39-3 39 8 49 0 39 6 39 3 39 1 58 38" stroke="#0000ee"/>
<path d="M1026 3690l20-54 29-16 19-10 30-48 19 11 29-37 20-86 29-25 20 5 29-61 19-26 20-91 29 57 20-6 29-91 19-1 30-24 19 53 29 4 20-133 29-74 19 58 30 139 19-32 29 3 20-17 29-9 20-23 29 13 19 29 20-3 29-6 20-35 29 9 19-4 30 28 19 9 29 23 20-7 29-13 20-6 29-4 19-9 29-3 20-11 29 2 20-3 29-11 19 22 30-6 48 9 49 0 49 1 49 38 48 54 49 70 49 58 48 70 49 46 49 21 49 27 48 15 49 23 49 25 49 24 48 14 49 29 49 19 48 34 49 20 49 25 49 9 58 39 20 2 243 82 20-7 48 2 49 7 49-1 49-3 48 7 49-2 49-3 48 6 49-5 49-1 49-6 48 7 39-3 49-2 39-2 39 14 39-6 49 3 39-8 39 8 39 17 58 31" stroke="#0000e9"/>
<path d="M1026 3533l20-12 29-89 19 30 30 51 19-80 29-102 20 42 29-87 20 13 29 16 19-67 20-48 29 14 20-16 29-86 19 21 30-50 19 48 29-8 20-117 29-26 19 23 30 81 19 11 29-20 20-13 29-9 20-3 29-5 19 14 20 0 29-6 20 1 29-24 19-3 30 12 19 23 29 0 20-3 29-8 20-18 29 2 19-17 29-6 20-23 29 6 20-8 29-20 19 15 30-10 48-4 49-6 49-3 49 21 48 61 49 87 49 79 48 67 49 60 49 29 49 28 48 24 49 19 49 33 49 30 48 37 49 28 49 28 48 30 49 33 49 26 49 37 58 39 20 5 243 131 20-2 48 2 49 0 49 3 49-1 48 3 49-5 49 10 48-7 49 14 49-12 49 10 48-8 39 2 49 0 39 7 39-5 39 5 49 1 39 2 39 6 39 19 58 33" stroke="#000fff"/>
<path d="M1026 3636l20-80 29 39 19-48 30-11 19-10 29-109 20-4 29-35 20 1 29-49 19-47 20-75 29 28 20 16 29-115 19 21 30-51 19 32 29-16 20-44 29-53 19 25 30 50 19 12 29-24 20-7 29-7 20-7 29 11 19-9 20 16 29-21 20 4 29-11 19-19 30 32 19 0 29 8 20-3 29-8 20-5 29-10 19-16 29-7 20-29 29 8 20-12 29-1 19-3 30 4 48-6 49-19 49 19 49 24 48 53 49 91 49 73 48 69 49 57 49 34 49 16 48 23 49 36 49 23 49 29 48 28 49 30 49 33 48 23 49 37 49 29 49 27 58 39 20 19 243 108 20 1 48 2 49 2 49-2 49 0 48-4 49 10 49-10 48 10 49 3 49 0 49 0 48 11 39-17 49 3 39 7 39-1 39-3 49 7 39-4 39 6 39 21 58 36" stroke="#000aff"/>
<path d="M1026 3650l20-77 29-41 19 2 30 67 19-130 29-38 20-18 29-86 20 35 29-29 19-33 20-20 29-55 20 48 29-116 19 10 30-21 19 69 29-52 20-70 29-56 19 43 30 53 19 9 29-8 20-37 29 7 20 4 29-3 19 28 20-2 29-13 20-11 29-14 19-9 30 25 19 12 29 4 20 0 29-17 20-7 29 3 19-24 29-8 20-6 29 5 20-9 29-8 19 0 30 1 48 7 49-11 49 8 49 15 48 62 49 85 49 63 48 65 49 54 49 40 49 21 48 21 49 22 49 28 49 26 48 28 49 30 49 32 48 17 49 35 49 20 49 29 58 24 20 24 243 98 20 1 48 8 49-7 49 5 49-2 48-9 49 5 49 6 48-3 49 10 49-7 49 3 48-3 39 9 49-5 39-5 39 13 39 4 49-9 39 0 39 16 39 10 58 34" stroke="#0000ff"/>
<path d="M1026 3436l20 65 29-65 19-72 30 79 19-76 29-28 20-53 29 20 20-6 29-15 19-33 20-65 29-10 20 43 29-109 19 24 30-33 19 46 29-20 20-90 29-34 19 39 30 93 19 7 29-18 20-27 29 6 20-10 29-1 19 32 20-2 29-1 20-30 29 2 19-3 30 20 19 12 29 9 20-16 29 6 20-10 29 0 19-7 29-12 20-12 29-8 20 4 29-12 19 5 30 3 48-2 49-3 49-3 49 32 48 63 49 73 49 80 48 59 49 44 49 35 49 28 48 15 49 20 49 35 49 24 48 21 49 33 49 26 48 28 49 18 49 28 49 28 58 36 20 8 243 93 20 15 48-1 49 0 49 5 49 0 48-4 49-1 49 1 48 1 49 5 49-4 49 5 48 1 39-3 49-7 39 11 39 4 39-9 49 10 39 3 39-3 39 17 58 37" stroke="#0000ff"/>
<path d="M1026 3544l20-43 29 11 19-27 30 0 19-10 29-127 20 3 29-9 20-10 29-5 19-49 20-87 29 33 20-10 29-82 19-42 30-33 19 89 29-31 20-105 29-67 19 29 30 125 19 0 29-31 20 2 29-10 20-34 29 22 19 11 20 14 29-12 20-24 29-23 19-5 30 45 19 23 29-8 20 7 29-22 20-5 29-17 19-15 29-2 20-17 29-7 20 4 29-19 19 8 30 3 48-5 49-12 49 6 49 27 48 62 49 88 49 66 48 74 49 62 49 30 49 23 48 31 49 7 49 39 49 27 48 35 49 23 49 33 48 34 49 26 49 31 49 26 58 50 20 2 243 119 20 0 48 1 49 6 49-7 49 0 48 1 49 0 49 5 48 6 49-2 49 2 49-7 48 17 39-6 49 1 39 0 39-5 39 5 49 2 39 0 39 4 39 18 58 38" stroke="#0009ff"/>
<path d="M1026 3517l20-54 29 3 19 10 30-37 19-11 29-20 20-97 29 24 20-38 29 5 19-52 20-73 29 45 20-12 29-76 19-4 30-34 19 63 29-33 20-87 29-36 19 17 30 96 19 8 29-23 20-15 29 12 20-25 29 12 19 7 20 11 29-14 20-16 29 1 19-13 30 13 19 11 29 2 20 5 29-15 20-8 29-1 19-7 29-23 20-12 29 14 20-8 29-26 19 11 30 7 48-18 49 1 49 4 49 22 48 45 49 101 49 69 48 74 49 48 49 36 49 20 48 20 49 25 49 28 49 28 48 18 49 40 49 22 48 32 49 39 49 20 49 32 58 38 20 11 243 112 20 4 48-4 49 5 49-3 49 1 48 7 49 3 49-2 48 5 49-3 49-3 49 7 48 0 39-4 49-6 39 9 39 2 39 6 49-6 39 2 39 1 39 18 58 40" stroke="#000aff"/>
<path d="M1026 3724l20-49 29-57 19 45 30-7 19-32 29-77 20 19 29-92 20 27 29 1 19-27 20-99 29-13 20 63 29-80 19-37 30-26 19 69 29-3 20-117 29-52 19 100 30 44 19-13 29 11 20-3 29-27 20-29 29 26 19-2 20 26 29-5 20-14 29-36 19 28 30 15 19 14 29 4 20 3 29 3 20-11 29-23 19 7 29-4 20-10 29 3 20 6 29-20 19 12 30 7 48 5 49-1 49 19 49 22 48 38 49 70 49 57 48 52 49 40 49 22 49 16 48 16 49 20 49 17 49 23 48 15 49 16 49 24 48 18 49 26 49 15 49 16 58 25 20 8 243 57 20-6 48 8 49 1 49-5 49 10 48-6 49-5 49 4 48 0 49 5 49-1 49-6 48 2 39 7 49 1 39-3 39-4 39 6 49-2 39 1 39 2 39 15 58 19" stroke="#0000f4"/>
<path d="M1026 3715l20-65 29-45 19 21 30 28 19-59 29-68 20 31 29-70 20 16 29-25 19-15 20-65 29-8 20 19 29-78 19-1 30-46 19 42 29 9 20-88 29-31 19 22 30 63 19 6 29-1 20-2 29-24 20-11 29 40 19-10 20 13 29 2 20-38 29-4 19-6 30 38 19 11 29 15 20-9 29 6 20-15 29-12 19 1 29-7 20-5 29 2 20 5 29 1 19-1 30 5 48 11 49 9 49 1 49 27 48 43 49 73 49 50 48 64 49 30 49 20 49 16 48 22 49 12 49 18 49 23 48 20 49 15 49 13 48 17 49 19 49 23 49 15 58 20 20 2 243 77 20-3 48-7 49 1 49-8 49 7 48 2 49-6 49 9 48-1 49 2 49 8 49-16 48 9 39-10 49 7 39 1 39-7 39 5 49 1 39 0 39 0 39 10 58 20" stroke="#0000e8"/>
<path d="M1026 3695l20 9 29-81 19-7 30 51 19-72 29-83 20-21 29-38 20 3 29 3 19-35 20-112 29 42 20 15 29-110 19-4 30-8 19 39 29-18 20-106 29-64 19 63 30 113 19-14 29 17 20-32 29-9 20-15 29 13 19 19 20 2 29-17 20-20 29-27 19 11 30 17 19 17 29 23 20 3 29-11 20-13 29-12 19-4 29-5 20-10 29 5 20-2 29-15 19 29 30-17 48 7 49-5 49 19 49 17 48 62 49 58 49 55 48 60 49 35 49 32 49 29 48 8 49 21 49 26 49 21 48 23 49 26 49 17 48 23 49 21 49 23 49 19 58 23 20 9 243 82 20 8 48-13 49 3 49 5 49-1 48-3 49 4 49-6 48 12 49-5 49 5 49-10 48 8 39-1 49 4 39 1 39-4 39-2 49 2 39-2 39 12 39 11 58 26" stroke="#0000ff"/>
<path d="M1026 3608l20-23 29-3 19-6 30-11 19-1 29-63 20-64 29-7 20-21 29-30 19-25 20-80 29-11 20 49 29-114 19 27 30-27 19 36 29-19 20-64 29-78 19 39 30 99 19-13 29-8 20-1 29-20 20 7 29 10 19-15 20 25 29-8 20-21 29-12 19-16 30 30 19 10 29 7 20-7 29 21 20-28 29-2 19-4 29-14 20-10 29 17 20-13 29-7 19 1 30 18 48-11 49 2 49 6 49 35 48 50 49 67 49 69 48 65 49 43 49 31 49 20 48 26 49 22 49 23 49 15 48 25 49 18 49 37 48 23 49 23 49 17 49 23 58 33 20 10 243 79 20-1 48 13 49 2 49-14 49 11 48 1 49 2 49-14 48 14 49 1 49 0 49-7 48 7 39-1 49-2 39 2 39 3 39-8 49 3 39 4 39-5 39 18 58 32" stroke="#0000ff"/>
<path d="M1026 3661l20-31 29-22 19 50 30-37 19-28 29-83 20-73 29 29 20-13 29 14 19-97 20-40 29-12 20 89 29-109 19-30 30-25 19 64 29-15 20-109 29-37 19 43 30 108 19 9 29-14 20-29 29 7 20-13 29 3 19 26 20 28 29-25 20-22 29-24 19-7 30 35 19 26 29 16 20-8 29-4 20-17 29 3 19-7 29 7 20-17 29 8 20 5 29-17 19 17 30 3 48 4 49 1 49 13 49 29 48 43 49 68 49 61 48 48 49 40 49 31 49 18 48 12 49 26 49 14 49 18 48 16 49 21 49 25 48 19 49 18 49 9 49 25 58 24 20-2 243 64 20-3 48-1 49 6 49-6 49 4 48 4 49-3 49-6 48 9 49 8 49 1 49 0 48-16 39 6 49-8 39 7 39-4 39 6 49-1 39 1 39 0 39 11 58 31" stroke="#0000e6"/>
<path d="M1026 3412l20 20 29-17 19-33 30 90 19-32 29-111 20-9 29-22 20 30 29 10 19-34 20-97 29 34 20 29 29-90 19-25 30-12 19 75 29 4 20-96 29-81 19 68 30 116 19-17 29-15 20 1 29-3 20-16 29 11 19 23 20 28 29-31 20-8 29-42 19 29 30 18 19 19 29 8 20-14 29 11 20-19 29 2 19-1 29-14 20-11 29 10 20 3 29-19 19-6 30 21 48 5 49 7 49 10 49 15 48 51 49 62 49 82 48 45 49 57 49 12 49 26 48 17 49 20 49 12 49 32 48 14 49 33 49 21 48 16 49 30 49 10 49 17 58 41 20 8 243 80 20-5 48-2 49 8 49 2 49-6 48 7 49-4 49-1 48 10 49-2 49-3 49 3 48-5 39-4 49 6 39-2 39-1 39 6 49-12 39 17 39 5 39 0 58 36" stroke="#0000ff"/>
<path d="M1026 3515l20-10 29-18 19 37 30-34 19 14 29-125 20-17 29 4 20-33 29 72 19-103 20-66 29 27 20 33 29-90 19-28 30-40 19 132 29-51 20-105 29-53 19 45 30 127 19-3 29-23 20 7 29-11 20-9 29 16 19 16 20-5 29 9 20-49 29 12 19 14 30 13 19 23 29-8 20 8 29 2 20-16 29-3 19-22 29 10 20-15 29 6 20 2 29-10 19 17 30-4 48 12 49 4 49 4 49 22 48 63 49 62 49 59 48 55 49 47 49 26 49 26 48 15 49 22 49 19 49 16 48 24 49 22 49 30 48 14 49 14 49 23 49 27 58 21 20 8 243 75 20 0 48 5 49-6 49 8 49 6 48-9 49 0 49-3 48 4 49 5 49-5 49 5 48-2 39 3 49-12 39 3 39 6 39-4 49 8 39-2 39-1 39 8 58 32" stroke="#0000fa"/>
<path d="M1026 3686l20-92 29-60 19 49 30-59 19 37 29-40 20-73 29 1 20-15 29 18 19-64 20-51 29 10 20 3 29-50 19-15 30-45 19 53 29-11 20-51 29-58 19 41 30 77 19 9 29 1 20-44 29-1 20 15 29-3 19 9 20 13 29-16 20-8 29-7 19-2 30 11 19 23 29-4 20-1 29-3 20-7 29 0 19-7 29 2 20-1 29-6 20-13 29-5 19 20 30-3 48 8 49-7 49 14 49 13 48 58 49 63 49 70 48 46 49 46 49 22 49 8 48 27 49 16 49 19 49 18 48 20 49 13 49 29 48 16 49 23 49 16 49 23 58 30 20 2 243 67 20 8 48 2 49-9 49 5 49-8 48 4 49 5 49 4 48-10 49 1 49 8 49-7 48 10 39-7 49-5 39 7 39 1 39 0 49-4 39-1 39 7 39 7 58 32" stroke="#0000ff"/>
<path d="M1026 3759l20-49 29-74 19 58 30-35 19-40 29-75 20-74 29 4 20-7 29 19 19-98 20 1 29-52 20 17 29-66 19 9 30-54 19 59 29-47 20-16 29-80 19 59 30 36 19-1 29-19 20 9 29-7 20 3 29-10 19 4 20 10 29-2 20-21 29-21 19 7 30 32 19 0 29 9 20 14 29-29 20-6 29 3 19-14 29-5 20-7 29-2 20 2 29-5 19-2 30 15 48-7 49 2 49 13 49 22 48 54 49 63 49 63 48 64 49 48 49 23 49 19 48 12 49 26 49 18 49 24 48 22 49 28 49 14 48 27 49 25 49 12 49 24 58 29 20 8 243 70 20 4 48 6 49 4 49-6 49 5 48-5 49 0 49 1 48-2 49 4 49-7 49 2 48 7 39-6 49 7 39-10 39 16 39-10 49 3 39 3 39-1 39 19 58 30" stroke="#0000ff"/>
<path d="M1026 3748l20-60 29-98 19-24 30 19 19-29 29-89 20-14 29-54 20-6 29 22 19-75 20-54 29 21 20 10 29-101 19 28 30-27 19 13 29-33 20-56 29-53 19 63 30 72 19-14 29-8 20-18 29 1 20-12 29 8 19 4 20 4 29-7 20-20 29-3 19 7 30 27 19 11 29-11 20 3 29-3 20-7 29 0 19 1 29-17 20-15 29 17 20-24 29 2 19 1 30-4 48 11 49-4 49 11 49 28 48 56 49 66 49 73 48 47 49 58 49 30 49 22 48 9 49 27 49 27 49 18 48 30 49 21 49 22 48 24 49 26 49 17 49 29 58 23 20 13 243 82 20 5 48 1 49-1 49-4 49 2 48 0 49 5 49-8 48 11 49-1 49 1 49-7 48 5 39 2 49-10 39 13 39-1 39 3 49-5 39 0 39 10 39 13 58 27" stroke="#0000ff"/>
<path d="M1026 3707l20-16 29-60 19-1 30 19 19-33 29-81 20-37 29-27 20-5 29 37 19-80 20-97 29 43 20 23 29-146 19 8 30-53 19 91 29 6 20-106 29-64 19 38 30 167 19-47 29-21 20-6 29-9 20-6 29 25 19-6 20 22 29-18 20-19 29-38 19 19 30 26 19 22 29 15 20-7 29-13 20-4 29 10 19-12 29-22 20 1 29 4 20 12 29-19 19 14 30-7 48 6 49 11 49 9 49 15 48 58 49 66 49 61 48 52 49 49 49 27 49 14 48 21 49 11 49 17 49 23 48 26 49 20 49 22 48 25 49 10 49 16 49 25 58 12 20 19 243 69 20-5 48 3 49 4 49-10 49 3 48-4 49 8 49-2 48-4 49 12 49-4 49-1 48 1 39-1 49-7 39 2 39 2 39-2 49 1 39 7 39-3 39 16 58 28" stroke="#0000f1"/>
<path d="M1026 3485l20-34 29-54 19 71 30 4 19-51 29-85 20-11 29-4 20 29 29-68 19 9 20-120 29 57 20-9 29-103 19 37 30-51 19 69 29-27 20-74 29-68 19 59 30 114 19-26 29-8 20-1 29-2 20-17 29 3 19 42 20-10 29-16 20 5 29-30 19 11 30 20 19 10 29 29 20-6 29-2 20-17 29-19 19 14 29-11 20-13 29-1 20 3 29-8 19 10 30-3 48 15 49-11 49 10 49 32 48 52 49 83 49 50 48 74 49 55 49 15 49 28 48 7 49 34 49 21 49 26 48 22 49 22 49 34 48 20 49 24 49 25 49 9 58 33 20 11 243 93 20 2 48-2 49 6 49-7 49 0 48 1 49 0 49 3 48-4 49 5 49 0 49 4 48 1 39-3 49-4 39-4 39 6 39-2 49 4 39 7 39 1 39 11 58 32" stroke="#0000ff"/>
<path d="M1026 3677l20-59 29-22 19 67 30-58 19 1 29-20 20-55 29-48 20-1 29 17 19-65 20-51 29 56 20 7 29-102 19 16 30-30 19 43 29-9 20-70 29-32 19-7 30 120 19-15 29-21 20 2 29 5 20-5 29-13 19 17 20 32 29-13 20-32 29-22 19 23 30 7 19 33 29 8 20-1 29-17 20-5 29-6 19 13 29-25 20 3 29-12 20 14 29 5 19-1 30 7 48-1 49 12 49 5 49 29 48 33 49 64 49 47 48 49 49 40 49 22 49 14 48 16 49 13 49 14 49 16 48 24 49 14 49 26 48 11 49 16 49 19 49 20 58 16 20 2 243 60 20-3 48 7 49-9 49 4 49 3 48 3 49-13 49 16 48-4 49-10 49 13 49-2 48-1 39-11 49 4 39 2 39 3 39 2 49-4 39-4 39 14 39 3 58 21" stroke="#0000e7"/>
<path d="M1026 3639l20 75 29-44 19-60 30 26 19 0 29-115 20-41 29 42 20-55 29-20 19-57 20-32 29 2 20 22 29-87 19-22 30-12 19 67 29-29 20-97 29 1 19 21 30 70 19-27 29 18 20-16 29-8 20-13 29 6 19 26 20 7 29-6 20-36 29-2 19 1 30 17 19 23 29 7 20-3 29-27 20 9 29-11 19 5 29-28 20 5 29 13 20-8 29-12 19 4 30 8 48-1 49 8 49 0 49 33 48 43 49 75 49 60 48 46 49 47 49 24 49 11 48 22 49 12 49 23 49 37 48 12 49 18 49 18 48 23 49 20 49 21 49 17 58 31 20 12 243 61 20 1 48 4 49-6 49 9 49-6 48 3 49 2 49 1 48-3 49 5 49 5 49 0 48 1 39-5 49-6 39-2 39 18 39-9 49 5 39-13 39 13 39 5 58 36" stroke="#0000ff"/>
<path d="M1026 3567l20 17 29-29 19 3 30-16 19 47 29-132 20-42 29 5 20 3 29-49 19-15 20-78 29-5 20 57 29-159 19 46 30-34 19 81 29-35 20-90 29-58 19 51 30 113 19-46 29-2 20-13 29-3 20-10 29 22 19-16 20 40 29-5 20-45 29 1 19 3 30 30 19 10 29 4 20 2 29 3 20-22 29 5 19 1 29-22 20-9 29 9 20 3 29-19 19 16 30 4 48-2 49 0 49 20 49 25 48 49 49 67 49 71 48 65 49 39 49 32 49 14 48 20 49 16 49 22 49 27 48 24 49 27 49 19 48 30 49 13 49 24 49 25 58 21 20 3 243 87 20-12 48 6 49 8 49-10 49 1 48-3 49 1 49 11 48-3 49 5 49-8 49 2 48-3 39-3 49 4 39-6 39 3 39 9 49 0 39 4 39 0 39 9 58 28" stroke="#0000fc"/>
<path d="M1026 3673l20-10 29-82 19 83 30-38 19-9 29-98 20-25 29 27 20-25 29 11 19-78 20-83 29 57 20-6 29-77 19-13 30-41 19 59 29-11 20-100 29-38 19 42 30 96 19-1 29-7 20-18 29-17 20-6 29 10 19 25 20 20 29-7 20-30 29-11 19 13 30 11 19-2 29 25 20 1 29-6 20-11 29 5 19-13 29-8 20-10 29 8 20 1 29-14 19 22 30 6 48-6 49 8 49 6 49 28 48 40 49 66 49 59 48 54 49 34 49 25 49 10 48 24 49 24 49 15 49 18 48 21 49 23 49 13 48 17 49 17 49 23 49 14 58 22 20 14 243 58 20 2 48-7 49 8 49 1 49-1 48 1 49 0 49 4 48-12 49 9 49-1 49 6 48 6 39-10 49-8 39 4 39 5 39-2 49 4 39-4 39 9 39 2 58 27" stroke="#0000f3"/>
<path d="M1026 3621l20-96 29-23 19 12 30-21 19-47 29-1 20-35 29-33 20 1 29 12 19-60 20-69 29 48 20-15 29-45 19-36 30 7 19 54 29-12 20-89 29-44 19 36 30 82 19-5 29-1 20-12 29-8 20 0 29 3 19 24 20 10 29-24 20-3 29-21 19 14 30 22 19 13 29 5 20-13 29 8 20-14 29 1 19-7 29 3 20-24 29 10 20 3 29-14 19 22 30-3 48-8 49 5 49 23 49 18 48 48 49 67 49 60 48 63 49 37 49 30 49 31 48 12 49 13 49 21 49 25 48 25 49 17 49 21 48 25 49 16 49 15 49 24 58 19 20 16 243 74 20-15 48 6 49 2 49 2 49 0 48-9 49 3 49 6 48 2 49 7 49-9 49-1 48 13 39-5 49-8 39 2 39 4 39-2 49 1 39-1 39 2 39 14 58 28" stroke="#0000f3"/>
<path d="M1026 3742l20-48 29-23 19 23 30-48 19-56 29 4 20-73 29 17 20-9 29 7 19-54 20-61 29 0 20 19 29-124 19 42 30-51 19 55 29 15 20-81 29-75 19 59 30 72 19 19 29-23 20-20 29-17 20-16 29 32 19-5 20 21 29-6 20-17 29-15 19 15 30 8 19 21 29-2 20-14 29 21 20-26 29 14 19-7 29-13 20-7 29 3 20-1 29 2 19 11 30-4 48 0 49 10 49 17 49 28 48 33 49 67 49 51 48 53 49 41 49 20 49 16 48 11 49 15 49 17 49 17 48 26 49 18 49 23 48 16 49 19 49 2 49 23 58 22 20 1 243 61 20 3 48 2 49-1 49 0 49 2 48-10 49 1 49 6 48 5 49 1 49-5 49-6 48 3 39 7 49-8 39 5 39 2 39-4 49-12 39 17 39 1 39 14 58 15" stroke="#0000ea"/>
<path d="M1026 3689l20-74 29 19 19-32 30 50 19-31 29-55 20-66 29-63 20 14 29 34 19-59 20-89 29 60 20 11 29-106 19 21 30-49 19 72 29-26 20-100 29-28 19 14 30 116 19-17 29-8 20-7 29-24 20 24 29-5 19 15 20-1 29 3 20-26 29-17 19-6 30 41 19 21 29 7 20-5 29-13 20 15 29-10 19-20 29 7 20-11 29 7 20 2 29-8 19 5 30 8 48 14 49-3 49 12 49 14 48 58 49 58 49 57 48 59 49 29 49 32 49 9 48 19 49 28 49 12 49 15 48 27 49 24 49 4 48 25 49 9 49 25 49 16 58 17 20 18 243 51 20 5 48 0 49-5 49 6 49-7 48 9 49 3 49-11 48 14 49-10 49 7 49 1 48-4 39-8 49 1 39 4 39-6 39 9 49-1 39 0 39 5 39 7 58 31" stroke="#0000e9"/>
<path d="M1026 3521l20-5 29-79 19 56 30 7 19-30 29-75 20 7 29-42 20 11 29 6 19-85 20-9 29-8 20 17 29-91 19-22 30 23 19 43 29-13 20-84 29-58 19 31 30 105 19-28 29 31 20-32 29-4 20-6 29 5 19 23 20 4 29-3 20-16 29-15 19 3 30 13 19 24 29 0 20 8 29-9 20-17 29 10 19-11 29-12 20-11 29 6 20-7 29 1 19 6 30-8 48 9 49 4 49 14 49 23 48 49 49 65 49 64 48 60 49 51 49 30 49 13 48 17 49 23 49 22 49 21 48 18 49 31 49 22 48 20 49 21 49 18 49 25 58 34 20 0 243 85 20 2 48-1 49 10 49-12 49-3 48 16 49-10 49-1 48 4 49-6 49 0 49 16 48-5 39-6 49-2 39 6 39-12 39 5 49 7 39 0 39 7 39 10 58 24" stroke="#0000ff"/>
<path d="M1026 3541l20 59 29-105 19 65 30-62 19 19 29-111 20-31 29 33 20 18 29-42 19-7 20-85 29 3 20 41 29-105 19-20 30-4 19 65 29-2 20-63 29-82 19 45 30 92 19 1 29 2 20-13 29-10 20 1 29 15 19 1 20 13 29-13 20-9 29-21 19 13 30 19 19 7 29 4 20 15 29-11 20-1 29 1 19-8 29-7 20-12 29 10 20-5 29-14 19 20 30-3 48 2 49 5 49 22 49 23 48 50 49 60 49 58 48 61 49 42 49 16 49 19 48 17 49 21 49 18 49 15 48 27 49 19 49 20 48 24 49 17 49 13 49 14 58 29 20 14 243 62 20-1 48 5 49-5 49 3 49 4 48-2 49 6 49-7 48 8 49-9 49 2 49-3 48-4 39 9 49-5 39 2 39 2 39 3 49-2 39-7 39 10 39 20 58 27" stroke="#0000f2"/>
<path d="M1026 3613l20-37 29 28 19 32 30-21 19-46 29-73 20-4 29 15 20-42 29 67 19-80 20-81 29 14 20 42 29-112 19-15 30-17 19 87 29-43 20-89 29-37 19 43 30 76 19 17 29-14 20-5 29-8 20-10 29 14 19 6 20 8 29-8 20-10 29-18 19 18 30 0 19 27 29 15 20 2 29-21 20-2 29-9 19 1 29-9 20-8 29 26 20-24 29 5 19-4 30 10 48 8 49 2 49 18 49 13 48 57 49 47 49 58 48 66 49 29 49 21 49 17 48 15 49 15 49 13 49 26 48 15 49 20 49 18 48 23 49 9 49 13 49 25 58 16 20 17 243 52 20 3 48-9 49 9 49-14 49 7 48 11 49-1 49-5 48 5 49-2 49 0 49-3 48 9 39-8 49-3 39 4 39 1 39-6 49 0 39-1 39 12 39 5 58 22" stroke="#0000eb"/>
<path d="M1026 3690l20-102 29 17 19 38 30-42 19-47 29 8 20-117 29 46 20-31 29 15 19-37 20-74 29 22 20 27 29-120 19-25 30-13 19 47 29 8 20-97 29-62 19 28 30 137 19-14 29-18 20-1 29-15 20-3 29 11 19 16 20 12 29-19 20-2 29-24 19 1 30 32 19 13 29 11 20-6 29 2 20-18 29-2 19-13 29 11 20-13 29 7 20-3 29-11 19 3 30 10 48 1 49 12 49 3 49 29 48 41 49 65 49 62 48 41 49 39 49 33 49 17 48 17 49 25 49 15 49 8 48 23 49 33 49 19 48 13 49 13 49 21 49 23 58 22 20 4 243 67 20-4 48-3 49 7 49-4 49 5 48 6 49-11 49 7 48 8 49-5 49-5 49 6 48-1 39-2 49-10 39 1 39 1 39 3 49 2 39 8 39-4 39 13 58 28" stroke="#0000f4"/>
<path d="M1026 3710l20-61 29-24 19 37 30-35 19-9 29-107 20-15 29-3 20 33 29-53 19-46 20-88 29 56 20 32 29-147 19 17 30 1 19 36 29 2 20-138 29-48 19 82 30 85 19-3 29-14 20 2 29-4 20-32 29 37 19 0 20 6 29-13 20-18 29-36 19 16 30 35 19 17 29 15 20-5 29-20 20 0 29 2 19 4 29 3 20-28 29 13 20-6 29-1 19 2 30 8 48 2 49 9 49 9 49 29 48 43 49 60 49 51 48 74 49 40 49 22 49 6 48 19 49 13 49 29 49 7 48 28 49 15 49 19 48 20 49 20 49 9 49 26 58 18 20 6 243 65 20-8 48 10 49-10 49 2 49 1 48-8 49 1 49 8 48-1 49-2 49-2 49 4 48 4 39 1 49 5 39-6 39-2 39-2 49 1 39 3 39 7 39 2 58 33" stroke="#0000e8"/>
<path d="M1026 3519l20-44 29-45 19 126 30-44 19-12 29-79 20 3 29-73 20 49 29 0 19-33 20-54 29-9 20 25 29-90 19 9 30-38 19 58 29-28 20-68 29-23 19 13 30 99 19 0 29-22 20 12 29-8 20 1 29 8 19-3 20 19 29-28 20-12 29-5 19 13 30 14 19 15 29-2 20 23 29-17 20-9 29-6 19-5 29 1 20-16 29 15 20-14 29-3 19 11 30-5 48 19 49-5 49 13 49 18 48 60 49 63 49 48 48 51 49 54 49 22 49 18 48 21 49 22 49 15 49 20 48 22 49 18 49 30 48 23 49 21 49 16 49 12 58 28 20 2 243 78 20 1 48-10 49 15 49-1 49-7 48 1 49-5 49 15 48-11 49 7 49-5 49 13 48-9 39-5 49-2 39 6 39 1 39-1 49 0 39 1 39-3 39 13 58 35" stroke="#0000f9"/>
<path d="M1026 3666l20-59 29 38 19-46 30 12 19 11 29-163 20 35 29-46 20 31 29-15 19-56 20-53 29 16 20-3 29-87 19-25 30 4 19 94 29-26 20-112 29-27 19 44 30 60 19 26 29-6 20-32 29-14 20-4 29 28 19-3 20 25 29-20 20 10 29-32 19-6 30 25 19 11 29 40 20-35 29-2 20-16 29 14 19-12 29-2 20-6 29 3 20 3 29-11 19 15 30 1 48 9 49 3 49 8 49 36 48 37 49 66 49 63 48 43 49 53 49 17 49 9 48 22 49 24 49 21 49 9 48 21 49 26 49 13 48 18 49 24 49 12 49 6 58 30 20-1 243 74 20-3 48-10 49 15 49-5 49-3 48-9 49 12 49-3 48 7 49-7 49 8 49-6 48 2 39-3 49 0 39-2 39 1 39 6 49 6 39-15 39 6 39 8 58 30" stroke="#0000e9"/>
<path d="M1026 3719l20-82 29-16 19-4 30 40 19-27 29-67 20-38 29-8 20-32 29 23 19 12 20-106 29 0 20 20 29-85 19 0 30-54 19 97 29-40 20-86 29-44 19 24 30 125 19-7 29-17 20-15 29-3 20 4 29 6 19-3 20 17 29-8 20-19 29-23 19 21 30 17 19 28 29 0 20-3 29-8 20 1 29 2 19-6 29 3 20-17 29 2 20-4 29-13 19 17 30 8 48 3 49-2 49 18 49 17 48 64 49 40 49 51 48 49 49 41 49 22 49 20 48 13 49 16 49 23 49 7 48 12 49 32 49 10 48 17 49 19 49 14 49 19 58 16 20 10 243 47 20 6 48-1 49 6 49 6 49-8 48 4 49-9 49 7 48-2 49-1 49-4 49 8 48-2 39-3 49 5 39-7 39 3 39 0 49 1 39-3 39 7 39 6 58 30" stroke="#0000e5"/>
<path d="M1026 3634l20-8 29-57 19-3 30 28 19-29 29-75 20-25 29 9 20 24 29-26 19-63 20-9 29-40 20 43 29-101 19 31 30-22 19 68 29-38 20-77 29-37 19 35 30 82 19 10 29-23 20 15 29-14 20-14 29 15 19 10 20 24 29-18 20-17 29-5 19-8 30 33 19 11 29 12 20-8 29 1 20-15 29-4 19 5 29-9 20-17 29 27 20 0 29-26 19 24 30-18 48 33 49-5 49 6 49 30 48 50 49 47 49 53 48 57 49 37 49 9 49 28 48 2 49 17 49 25 49 11 48 22 49 8 49 26 48 23 49 5 49 17 49 18 58 19 20 6 243 45 20 12 48 2 49-2 49 9 49-12 48-3 49 5 49 3 48 2 49-5 49 5 49-3 48-6 39 10 49-4 39 2 39 1 39-2 49-3 39-1 39 5 39 10 58 21" stroke="#0000e7"/>
<path d="M1026 3734l20-75 29-66 19 34 30 10 19-35 29-67 20-36 29-14 20-59 29 17 19-10 20-99 29 2 20 8 29-55 19 5 30-91 19 104 29-23 20-100 29-55 19 35 30 98 19-15 29 1 20-20 29 1 20-38 29 19 19 24 20 7 29-22 20 1 29-20 19 6 30 14 19 0 29 23 20 5 29-9 20-12 29-1 19-6 29-10 20-20 29 4 20 2 29-13 19 9 30 1 48-3 49 7 49 5 49 32 48 50 49 69 49 66 48 46 49 49 49 29 49 21 48 10 49 16 49 15 49 41 48 17 49 21 49 21 48 30 49 20 49 27 49 11 58 28 20 11 243 83 20-3 48 2 49 4 49-6 49 6 48 4 49 0 49-4 48 5 49 4 49 1 49-3 48 1 39-14 49 14 39 9 39-7 39-1 49-10 39 6 39 0 39 7 58 41" stroke="#0000ff"/>
<path d="M1026 3654l20-27 29 37 19 10 30-80 19 38 29-99 20-51 29-30 20 18 29 6 19-79 20-60 29 0 20 52 29-131 19 10 30-17 19 45 29-12 20-60 29-61 19 23 30 85 19-5 29 5 20-10 29-11 20-14 29 11 19 9 20 17 29-9 20-17 29-19 19 8 30 15 19 17 29-4 20 16 29-5 20-17 29-12 19 8 29 1 20-23 29 17 20-7 29-6 19 14 30-9 48 10 49 12 49 2 49 39 48 45 49 57 49 69 48 51 49 35 49 33 49 21 48 17 49 14 49 17 49 14 48 35 49 19 49 22 48 18 49 24 49 12 49 23 58 17 20 10 243 72 20-11 48 10 49 0 49 5 49-2 48-7 49 7 49-6 48 5 49 1 49 3 49-1 48-6 39 4 49 0 39 4 39 0 39-3 49-3 39 5 39 5 39 4 58 34" stroke="#0000f3"/>
<path d="M1026 3604l20-11 29 24 19-27 30-63 19 29 29-67 20-73 29-4 20 5 29 12 19-91 20-19 29 16 20 18 29-117 19-17 30-8 19 69 29-15 20-137 29-5 19 25 30 131 19-9 29-11 20-22 29 16 20-16 29 19 19 34 20-32 29 7 20-19 29-15 19 3 30 20 19 11 29 17 20 2 29 1 20-13 29-9 19 9 29-15 20-17 29-2 20 20 29-14 19-1 30 20 48-12 49 2 49 9 49 30 48 46 49 65 49 58 48 54 49 41 49 30 49 24 48 11 49 14 49 21 49 24 48 8 49 34 49 21 48 24 49 12 49 16 49 29 58 19 20 2 243 77 20 0 48 3 49 3 49 0 49 1 48-5 49-1 49 5 48 1 49 1 49 1 49 2 48-5 39 0 49-1 39 2 39-1 39-1 49 0 39-4 39 14 39 5 58 29" stroke="#0000fc"/>
<path d="M1026 3608l20-26 29-45 19 59 30 15 19-82 29 2 20-63 29-24 20-40 29 0 19-98 20-13 29 22 20 19 29-84 19-43 30-3 19 74 29-36 20-93 29-66 19 45 30 108 19 4 29 1 20-24 29 6 20-6 29 10 19-6 20 32 29-32 20-11 29-18 19 4 30 13 19 39 29-4 20 9 29-4 20-3 29-12 19-4 29-12 20-18 29 10 20 4 29-22 19 25 30-2 48 1 49 9 49 9 49 24 48 60 49 67 49 48 48 73 49 37 49 35 49 21 48 5 49 32 49 6 49 31 48 27 49 15 49 24 48 17 49 29 49 18 49 18 58 23 20 7 243 71 20 8 48-2 49-4 49 0 49 3 48-6 49 11 49-6 48 0 49-2 49 2 49 6 48-3 39 3 49-15 39 11 39 3 39-4 49-1 39 14 39-8 39 11 58 33" stroke="#0000f8"/>
</g></g>
<g clip-path="url(#cr)"><g transform="scale(.1)" fill="none" stroke-width="11" stroke-linejoin="round">
<path d="M6026 3953l20-25 29 6 19-15 30 5 19 22 29-110 20-34 29-22 20 15 29-25 19-51 20-90 29 10 20 10 29-119 19 7 30-48 19 61 29-78 20-93 29-52 19 53 30 111 19-10 29-20 20-29 29-33 20-36 29-7 19 1 20-4 29-35 20-50 29-37 19-12 30-10 19-4 29-34 20-28 29-33 20-32 29-39 19-28 29-31 20-44 29-29 20-36 29-37 19-25 30-45 48-61 49-96 49-102 49-77 48-72 49-71 49-84 48-72 49-72 49-83 49-58 48-75 49-78 49-65 49-86 48-90 49-94 49-93 48-77 49-36 49 25 49 71 58 128 20 48 243 549 20 33 48 38 49 45 49 18 49 3 48-6 49 49 49 64 48 74 49 105 49 90 49 57 48 22 39-24 49-9 39 15 39 25 39 73 49 86 39 83 39 99 39 130 58 253" stroke="#ff4d00"/>
<path d="M6026 3949l20-77 29-4 19-24 30 52 19-51 29-60 20-34 29-35 20 21 29-15 19-46 20-74 29-1 20 14 29-133 19 10 30-60 19 89 29-74 20-105 29-57 19 48 30 126 19 14 29-31 20-37 29-31 20-40 29-2 19 1 20-16 29-26 20-48 29-39 19-10 30-3 19-32 29-10 20-26 29-41 20-34 29-37 19-38 29-21 20-34 29-33 20-24 29-62 19-15 30-28 48-75 49-74 49-105 49-76 48-71 49-90 49-60 48-65 49-87 49-72 49-70 48-78 49-62 49-73 49-73 48-87 49-100 49-87 48-68 49-37 49 12 49 71 58 148 20 46 243 568 20 12 48 52 49 36 49 26 49-8 48 14 49 31 49 60 48 76 49 90 49 113 49 61 48 17 39-26 49-27 39 44 39 0 39 79 49 84 39 79 39 104 39 114 58 262" stroke="#ff5700"/>
<path d="M6026 3857l20-18 29-9 19-3 30-14 19 42 29-112 20-49 29-17 20-13 29 2 19-36 20-72 29-2 20 28 29-107 19-26 30-56 19 77 29-46 20-106 29-67 19 69 30 100 19 14 29-34 20-31 29-42 20-27 29 8 19-7 20-17 29-25 20-28 29-64 19-9 30-11 19-1 29-38 20-12 29-50 20-16 29-38 19-33 29-34 20-44 29-28 20-17 29-53 19-14 30-46 48-61 49-102 49-76 49-80 48-55 49-82 49-58 48-88 49-71 49-76 49-67 48-63 49-77 49-58 49-77 48-79 49-100 49-93 48-68 49-26 49 7 49 76 58 138 20 50 243 577 20 24 48 52 49 37 49 22 49-3 48 2 49 41 49 63 48 82 49 80 49 98 49 63 48 4 39-6 49-20 39 30 39 9 39 70 49 94 39 65 39 100 39 110 58 263" stroke="#ff6100"/>
<path d="M6026 3786l20-89 29-4 19 34 30-5 19 3 29-51 20-72 29 16 20 4 29-7 19-55 20-111 29 51 20 44 29-139 19-7 30-44 19 65 29-35 20-122 29-99 19 86 30 154 19-8 29-34 20-32 29-46 20-21 29-9 19 6 20 14 29-46 20-40 29-54 19 3 30-27 19 10 29-13 20-18 29-53 20-35 29-31 19-31 29-33 20-47 29-17 20-29 29-56 19-22 30-14 48-68 49-79 49-92 49-59 48-61 49-84 49-71 48-72 49-81 49-62 49-68 48-64 49-72 49-61 49-70 48-102 49-74 49-87 48-61 49-31 49 13 49 73 58 155 20 38 243 574 20 31 48 40 49 43 49 21 49 1 48-1 49 41 49 64 48 58 49 101 49 102 49 37 48 30 39-21 49-19 39 33 39 13 39 73 49 85 39 72 39 77 39 123 58 249" stroke="#ff6d00"/>
<path d="M6026 3791l20-21 29-37 19-16 30 28 19-40 29-74 20-28 29-37 20 64 29-25 19-35 20-116 29 20 20 71 29-130 19-32 30-46 19 71 29-39 20-129 29-67 19 76 30 129 19 23 29-59 20-21 29-56 20-17 29-5 19-9 20 7 29-33 20-32 29-60 19-15 30-11 19 4 29-34 20-13 29-41 20-37 29-40 19-14 29-39 20-38 29-29 20-18 29-60 19-4 30-44 48-65 49-73 49-85 49-65 48-57 49-77 49-69 48-74 49-79 49-64 49-71 48-52 49-62 49-85 49-63 48-80 49-88 49-91 48-54 49-31 49 15 49 71 58 162 20 43 243 605 20 26 48 39 49 43 49 7 49-1 48 17 49 45 49 38 48 83 49 88 49 97 49 49 48 15 39-25 49-5 39 28 39 1 39 57 49 84 39 86 39 93 39 117 58 244" stroke="#ff7500"/>
<path d="M6026 3729l20-27 29-23 19 16 30 8 19-46 29-25 20-81 29 14 20 21 29-7 19-43 20-86 29 24 20-11 29-73 19 9 30-61 19 72 29-71 20-121 29-54 19 82 30 118 19-37 29-14 20-32 29-47 20-40 29-1 19 10 20-6 29-33 20-23 29-39 19-21 30-2 19-15 29-26 20-39 29-16 20-35 29-35 19-30 29-42 20-23 29-26 20-19 29-50 19-26 30-33 48-62 49-80 49-71 49-50 48-57 49-90 49-65 48-78 49-64 49-76 49-70 48-67 49-61 49-62 49-58 48-87 49-84 49-75 48-57 49-37 49 24 49 82 58 148 20 45 243 605 20 34 48 52 49 25 49 12 49 8 48-4 49 37 49 62 48 66 49 84 49 94 49 71 48 14 39-23 49-16 39 22 39 14 39 59 49 89 39 59 39 93 39 118 58 235" stroke="#ff8000"/>
<path d="M6026 3679l20-41 29 3 19 48 30-6 19-20 29-118 20 12 29-48 20 19 29-20 19-32 20-51 29 12 20 10 29-95 19 0 30-46 19 33 29-7 20-128 29-44 19 47 30 112 19 0 29-39 20-12 29-64 20-10 29-25 19 4 20 19 29-45 20-41 29-51 19-2 30-11 19 6 29-48 20-24 29-26 20-27 29-25 19-43 29-51 20-19 29-32 20-19 29-34 19-31 30-19 48-73 49-72 49-64 49-56 48-52 49-80 49-67 48-83 49-87 49-51 49-66 48-73 49-41 49-67 49-53 48-90 49-79 49-84 48-52 49-23 49 17 49 68 58 147 20 74 243 613 20 21 48 58 49 42 49-8 49 0 48 22 49 40 49 42 48 62 49 99 49 91 49 42 48 21 39-10 49-26 39 31 39 5 39 69 49 88 39 58 39 93 39 98 58 233" stroke="#ff8a00"/>
<path d="M6026 3808l20-171 29-7 19 67 30-28 19-20 29-69 20-7 29-28 20-15 29 1 19-61 20-52 29-24 20 59 29-110 19 19 30-50 19 21 29-21 20-126 29-53 19 70 30 115 19-10 29-33 20-50 29-40 20-16 29-11 19-11 20-1 29-40 20-45 29-26 19-5 30-10 19-2 29-26 20-21 29-44 20-30 29-44 19-16 29-38 20-26 29-49 20-16 29-54 19-8 30-41 48-57 49-55 49-86 49-40 48-50 49-74 49-75 48-79 49-65 49-85 49-52 48-65 49-42 49-85 49-49 48-70 49-79 49-90 48-43 49-23 49 22 49 84 58 149 20 68 243 626 20 29 48 42 49 26 49 24 49-12 48 11 49 36 49 46 48 78 49 89 49 76 49 52 48 24 39-16 49-8 39 16 39 6 39 60 49 76 39 68 39 90 39 118 58 228" stroke="#ff9300"/>
<path d="M6026 3718l20-46 29-12 19-10 30-33 19 0 29-49 20-51 29 5 20-12 29-10 19-20 20-87 29-6 20 43 29-114 19 7 30-45 19 58 29-84 20-88 29-64 19 66 30 130 19-21 29-31 20-58 29-25 20-41 29-2 19-1 20 15 29-42 20-34 29-41 19 4 30-34 19 4 29-25 20-23 29-41 20-35 29-23 19-26 29-46 20-33 29-23 20-23 29-44 19-19 30-45 48-62 49-52 49-56 49-42 48-64 49-79 49-76 48-66 49-72 49-69 49-71 48-47 49-55 49-46 49-68 48-81 49-83 49-71 48-59 49-23 49 30 49 86 58 164 20 41 243 659 20 22 48 39 49 51 49-2 49 6 48 6 49 37 49 38 48 86 49 67 49 92 49 41 48 27 39-29 49-6 39 32 39 10 39 54 49 77 39 63 39 93 39 112 58 221" stroke="#ff9b00"/>
<path d="M6026 3744l20-70 29-63 19 80 30-58 19 6 29-88 20-82 29 11 20 46 29-46 19-15 20-118 29 31 20 14 29-109 19-27 30-25 19 70 29-33 20-160 29-109 19 105 30 180 19-38 29-20 20-35 29-63 20-15 29-32 19 8 20 17 29-33 20-48 29-49 19-1 30-14 19 20 29-36 20-22 29-45 20-37 29-23 19-38 29-31 20-34 29-17 20-25 29-61 19-1 30-43 48-65 49-53 49-66 49-37 48-55 49-74 49-72 48-72 49-71 49-70 49-59 48-69 49-31 49-57 49-59 48-66 49-92 49-62 48-54 49-18 49 35 49 68 58 171 20 37 243 679 20 17 48 42 49 37 49 16 49-3 48 7 49 39 49 42 48 68 49 81 49 72 49 66 48 15 39-11 49-23 39 30 39 1 39 65 49 83 39 53 39 84 39 105 58 216" stroke="#ffa500"/>
<path d="M6026 3609l20-34 29 14 19 16 30-15 19-32 29-43 20-69 29 13 20 7 29-37 19-18 20-80 29 3 20 15 29-79 19-13 30-27 19 24 29-38 20-92 29-77 19 55 30 133 19-27 29-32 20-21 29-50 20-18 29-28 19 2 20-27 29-4 20-12 29-52 19-19 30 2 19-11 29-30 20-27 29-35 20-24 29-47 19-13 29-36 20-27 29-30 20-34 29-28 19-26 30-41 48-53 49-66 49-46 49-22 48-71 49-74 49-64 48-78 49-79 49-53 49-67 48-37 49-66 49-59 49-36 48-69 49-90 49-62 48-54 49-16 49 17 49 85 58 174 20 62 243 679 20 16 48 42 49 39 49 9 49 5 48 7 49 28 49 35 48 69 49 90 49 65 49 59 48 22 39-29 49-8 39 27 39 16 39 53 49 72 39 58 39 96 39 97 58 229" stroke="#ffb000"/>
<path d="M6026 3452l20 41 29-47 19 26 30-1 19-31 29-77 20 7 29-46 20 63 29-10 19-60 20-71 29 51 20 23 29-111 19-10 30-54 19 106 29-73 20-131 29-68 19 75 30 140 19-1 29-40 20-39 29-56 20 6 29-40 19 20 20 0 29-23 20-26 29-56 19-7 30-15 19 13 29-48 20-11 29-36 20-27 29-33 19-21 29-39 20-39 29-22 20-14 29-55 19-8 30-42 48-59 49-41 49-51 49-38 48-53 49-89 49-61 48-79 49-60 49-62 49-81 48-41 49-35 49-50 49-65 48-57 49-70 49-74 48-41 49 0 49-2 49 97 58 167 20 59 243 688 20 11 48 56 49 23 49 19 49-16 48 16 49 35 49 40 48 55 49 89 49 78 49 50 48 10 39-13 49-8 39 24 39-6 39 64 49 77 39 50 39 89 39 102 58 212" stroke="#ffb900"/>
<path d="M6026 3593l20-4 29-86 19 49 30 20 19-40 29-69 20-61 29-2 20 21 29 21 19-3 20-149 29 57 20-4 29-132 19 6 30-34 19 79 29-55 20-137 29-76 19 82 30 140 19-1 29-49 20-33 29-49 20-30 29-16 19 3 20 6 29-23 20-36 29-67 19 7 30-3 19-18 29-20 20-17 29-35 20-53 29-19 19-24 29-31 20-27 29-24 20-36 29-47 19-7 30-29 48-63 49-65 49-65 49-9 48-34 49-98 49-78 48-69 49-82 49-52 49-69 48-47 49-44 49-45 49-54 48-71 49-69 49-64 48-46 49-15 49 18 49 91 58 175 20 51 243 691 20 23 48 35 49 27 49 15 49 9 48-1 49 17 49 59 48 71 49 78 49 79 49 43 48 14 39-19 49-7 39 21 39 23 39 45 49 71 39 54 39 83 39 103 58 220" stroke="#ffb800"/>
<path d="M6026 3694l20-85 29-27 19-2 30 47 19-55 29-76 20-51 29 1 20-17 29 19 19-49 20-76 29 5 20 38 29-126 19 1 30-37 19 65 29-60 20-128 29-67 19 73 30 131 19-5 29-49 20-29 29-25 20-64 29 0 19 14 20-12 29-23 20-59 29-28 19 6 30-26 19 2 29-45 20 2 29-31 20-48 29-32 19-23 29-23 20-54 29-35 20 3 29-68 19-2 30-56 48-39 49-63 49-54 49-15 48-64 49-81 49-61 48-78 49-84 49-61 49-45 48-53 49-57 49-34 49-55 48-72 49-83 49-55 48-47 49-18 49 29 49 79 58 172 20 44 243 707 20 18 48 26 49 37 49 44 49-25 48 9 49 36 49 53 48 61 49 83 49 79 49 32 48 23 39-9 49-23 39 25 39 7 39 59 49 73 39 61 39 89 39 92 58 218" stroke="#ffb700"/>
<path d="M6026 3599l20 12 29-54 19 19 30-22 19 1 29-99 20-1 29 1 20-33 29 9 19-38 20-87 29 27 20 41 29-156 19 6 30-43 19 85 29-64 20-138 29-82 19 101 30 145 19-33 29-10 20-50 29-57 20-33 29-7 19 28 20-21 29-16 20-41 29-59 19-3 30-12 19-22 29-5 20-21 29-30 20-34 29-31 19-28 29-32 20-40 29-27 20-18 29-45 19-13 30-48 48-61 49-49 49-45 49-50 48-39 49-71 49-90 48-64 49-69 49-68 49-62 48-61 49-48 49-37 49-39 48-80 49-79 49-57 48-48 49-21 49 39 49 99 58 147 20 61 243 701 20 17 48 39 49 27 49 24 49-11 48 5 49 39 49 45 48 63 49 74 49 83 49 38 48 32 39-21 49-16 39 29 39-2 39 57 49 89 39 62 39 72 39 93 58 216" stroke="#ffb800"/>
<path d="M6026 3600l20-60 29 24 19 46 30-22 19-41 29-91 20-56 29 10 20 25 29-6 19-33 20-99 29 33 20-23 29-87 19 17 30-41 19 68 29-39 20-146 29-74 19 56 30 167 19-10 29-32 20-46 29-56 20-30 29-23 19 21 20-16 29-23 20-33 29-28 19-16 30-22 19-9 29-15 20-26 29-32 20-32 29-32 19-36 29-31 20-31 29-24 20-30 29-45 19-4 30-54 48-45 49-64 49-49 49-25 48-66 49-73 49-61 48-80 49-82 49-59 49-54 48-45 49-50 49-48 49-44 48-61 49-96 49-50 48-39 49-9 49 0 49 102 58 165 20 45 243 707 20 16 48 39 49 21 49 24 49-2 48 9 49 24 49 59 48 44 49 92 49 69 49 58 48 17 39-16 49-21 39 33 39 3 39 68 49 65 39 57 39 76 39 102 58 212" stroke="#ffb800"/>
<path d="M6026 3458l20 9 29-72 19 37 30 46 19-15 29-78 20-70 29 8 20 23 29 5 19-50 20-34 29-1 20 35 29-99 19-13 30-43 19 76 29-35 20-139 29-97 19 108 30 155 19-33 29-37 20-40 29-26 20-50 29 8 19 9 20-5 29-33 20-40 29-42 19-3 30-13 19 3 29-30 20-2 29-39 20-48 29-17 19-32 29-36 20-32 29-24 20-36 29-18 19-37 30-45 48-39 49-69 49-40 49-36 48-54 49-70 49-66 48-74 49-83 49-44 49-58 48-56 49-48 49-44 49-35 48-83 49-62 49-70 48-50 49-14 49 23 49 97 58 151 20 58 243 701 20 18 48 37 49 25 49 6 49 5 48 28 49 4 49 60 48 60 49 77 49 75 49 42 48 35 39-26 49-13 39 10 39 29 39 45 49 80 39 55 39 81 39 108 58 196" stroke="#ffbc00"/>
<path d="M6026 3508l20-32 29-27 19 5 30 10 19-9 29-80 20-25 29 23 20 16 29-13 19-46 20-108 29 58 20 21 29-129 19 2 30-21 19 84 29-56 20-133 29-94 19 77 30 187 19-40 29-13 20-45 29-44 20-27 29-19 19 12 20-13 29-21 20-37 29-40 19 1 30-12 19 5 29-37 20-13 29-55 20-25 29-34 19-19 29-35 20-40 29-24 20-11 29-56 19-26 30-16 48-52 49-70 49-45 49-47 48-44 49-70 49-69 48-75 49-76 49-58 49-63 48-40 49-45 49-48 49-36 48-84 49-64 49-65 48-42 49-27 49 31 49 95 58 157 20 64 243 679 20 17 48 48 49 17 49 16 49 3 48 12 49 27 49 51 48 65 49 70 49 78 49 56 48 3 39-5 49-14 39 12 39 16 39 56 49 87 39 46 39 82 39 104 58 204" stroke="#ffbc00"/>
<path d="M6026 3683l20-54 29-46 19 22 30 12 19-65 29-57 20-56 29-5 20 21 29 18 19-80 20-86 29 30 20 36 29-125 19-9 30-47 19 81 29-47 20-156 29-102 19 83 30 207 19-54 29-23 20-46 29-60 20-24 29-2 19-18 20 32 29-42 20-50 29-34 19-17 30-5 19-17 29 4 20-29 29-49 20-29 29-25 19-37 29-34 20-41 29-27 20-23 29-46 19-9 30-26 48-67 49-57 49-63 49-20 48-57 49-80 49-67 48-67 49-75 49-69 49-54 48-46 49-52 49-47 49-38 48-70 49-71 49-66 48-48 49-19 49 26 49 91 58 163 20 53 243 701 20 16 48 40 49 22 49 27 49 13 48-4 49 16 49 51 48 84 49 57 49 89 49 56 48 9 39-19 49-13 39 27 39-6 39 64 49 74 39 64 39 75 39 117 58 192" stroke="#ffb900"/>
<path d="M6026 3593l20-45 29-13 19 15 30 42 19-57 29-62 20-88 29 7 20 6 29 24 19-39 20-109 29 42 20 17 29-123 19 13 30-59 19 89 29-51 20-164 29-89 19 106 30 170 19 6 29-61 20-43 29-28 20-56 29-12 19 20 20-3 29-26 20-54 29-28 19-19 30-21 19 14 29-27 20-16 29-35 20-41 29-38 19-13 29-46 20-44 29-22 20-4 29-53 19-7 30-54 48-55 49-45 49-61 49-34 48-55 49-60 49-86 48-67 49-80 49-60 49-50 48-48 49-52 49-48 49-48 48-58 49-92 49-58 48-41 49-14 49 25 49 94 58 163 20 59 243 685 20 40 48 27 49 20 49 24 49-1 48 3 49 35 49 49 48 65 49 82 49 78 49 32 48 36 39-24 49-30 39 44 39 1 39 65 49 63 39 67 39 68 39 124 58 190" stroke="#ffba00"/>
<path d="M6026 3582l20-56 29 13 19 14 30-53 19 23 29-123 20 5 29 8 20-24 29-9 19 9 20-118 29 44 20-8 29-67 19 9 30-66 19 51 29-65 20-109 29-50 19 71 30 129 19-15 29-29 20-44 29-20 20-55 29-10 19-23 20 14 29-17 20-40 29-24 19-17 30 1 19-35 29-19 20-7 29-49 20-37 29-31 19-23 29-27 20-35 29-32 20-30 29-32 19-13 30-52 48-57 49-57 49-51 49-24 48-67 49-79 49-63 48-75 49-64 49-70 49-51 48-54 49-45 49-36 49-48 48-66 49-77 49-54 48-47 49-18 49 15 49 102 58 178 20 53 243 685 20 27 48 37 49 27 49 16 49-7 48 14 49 38 49 36 48 65 49 78 49 80 49 46 48 13 39-17 49-12 39 29 39-7 39 71 49 71 39 56 39 75 39 97 58 229" stroke="#ffbd00"/>
<path d="M6026 3602l20-51 29-26 19-22 30-8 19-31 29-29 20-57 29-10 20 34 29 0 19-84 20-44 29 11 20 43 29-111 19 18 30-63 19 52 29-63 20-112 29-62 19 75 30 147 19-18 29-43 20-25 29-60 20-10 29-3 19-4 20 4 29-31 20-56 29-31 19-14 30-15 19-6 29-10 20-36 29-33 20-27 29-38 19-9 29-41 20-40 29-31 20-16 29-48 19-22 30-39 48-56 49-47 49-52 49-49 48-39 49-93 49-65 48-58 49-74 49-55 49-55 48-62 49-43 49-45 49-63 48-49 49-67 49-71 48-42 49-6 49 32 49 84 58 165 20 47 243 709 20 10 48 35 49 43 49 20 49-4 48-2 49 27 49 39 48 72 49 75 49 87 49 33 48 44 39-27 49-25 39 28 39 9 39 51 49 84 39 49 39 79 39 107 58 207" stroke="#ffbe00"/>
<path d="M6026 3648l20-91 29-53 19 7 30 36 19-51 29-30 20-65 29 11 20 1 29-2 19-55 20-51 29-11 20 52 29-107 19-19 30-25 19 56 29-58 20-128 29-83 19 83 30 146 19 2 29-52 20-33 29-48 20-34 29-13 19 23 20-2 29-42 20-43 29-44 19-14 30-9 19 3 29-20 20-14 29-42 20-35 29-41 19-23 29-35 20-35 29-30 20-21 29-48 19-13 30-30 48-65 49-53 49-70 49-19 48-51 49-94 49-62 48-66 49-69 49-64 49-55 48-36 49-74 49-27 49-53 48-67 49-72 49-43 48-54 49-12 49 19 49 93 58 163 20 55 243 704 20 28 48 26 49 32 49 26 49-13 48-1 49 39 49 48 48 55 49 86 49 85 49 33 48 14 39-8 49-13 39 20 39 12 39 70 49 54 39 70 39 77 39 96 58 201" stroke="#ffbd00"/>
<path d="M6026 3660l20-63 29-45 19 20 30-7 19-8 29-70 20-49 29-64 20 103 29-24 19-87 20-84 29 53 20 21 29-149 19-11 30-19 19 74 29-51 20-169 29-88 19 106 30 190 19-36 29-53 20-35 29-41 20-55 29 26 19-10 20 15 29-38 20-42 29-63 19 13 30-4 19 8 29-41 20-14 29-51 20-21 29-41 19-35 29-28 20-44 29-22 20-18 29-41 19-29 30-30 48-43 49-58 49-75 49-29 48-62 49-73 49-52 48-94 49-61 49-60 49-56 48-32 49-54 49-62 49-32 48-79 49-73 49-49 48-46 49-11 49 27 49 90 58 163 20 59 243 698 20 17 48 27 49 33 49 32 49-7 48-2 49 38 49 51 48 59 49 83 49 79 49 35 48 33 39-31 49-15 39 24 39 10 39 53 49 88 39 45 39 80 39 95 58 216" stroke="#ffbd00"/>
<path d="M6026 3560l20-16 29-47 19 12 30-10 19-49 29-36 20 5 29-22 20 20 29-12 19-64 20-64 29 31 20 4 29-75 19 1 30-37 19 47 29-79 20-76 29-92 19 59 30 139 19-13 29-27 20-44 29-48 20-21 29-22 19-1 20 5 29-27 20-26 29-43 19 1 30-23 19-6 29-17 20-45 29-14 20-30 29-44 19-7 29-45 20-27 29-31 20-30 29-48 19-21 30-34 48-55 49-62 49-40 49-45 48-56 49-60 49-71 48-74 49-79 49-59 49-54 48-52 49-43 49-48 49-39 48-68 49-79 49-56 48-41 49-24 49 43 49 83 58 153 20 57 243 714 20 10 48 35 49 23 49 13 49 0 48 18 49 19 49 51 48 56 49 91 49 72 49 53 48 17 39-21 49-2 39 16 39 17 39 56 49 64 39 60 39 91 39 97 58 195" stroke="#ffbe00"/>
<path d="M6026 3517l20-11 29-50 19 49 30 41 19-36 29-108 20-43 29 29 20 9 29 0 19-15 20-106 29-5 20 18 29-78 19-33 30-9 19 79 29-35 20-173 29-56 19 40 30 172 19-11 29-14 20-75 29-23 20-32 29 10 19-25 20-1 29-15 20-42 29-47 19-15 30 3 19-18 29-8 20-18 29-42 20-15 29-49 19-38 29-31 20-27 29-34 20-6 29-60 19-19 30-37 48-59 49-49 49-45 49-52 48-54 49-70 49-83 48-47 49-85 49-59 49-52 48-37 49-54 49-50 49-58 48-48 49-65 49-73 48-54 49-1 49 43 49 86 58 153 20 74 243 693 20 25 48 30 49 29 49 6 49-2 48 8 49 37 49 40 48 79 49 69 49 72 49 54 48 16 39-14 49-24 39 36 39-6 39 70 49 61 39 62 39 72 39 106 58 216" stroke="#ffc000"/>
<path d="M6026 3600l20-36 29-5 19 20 30 26 19-33 29-123 20-50 29 4 20 24 29 29 19-74 20-70 29 9 20 10 29-131 19 19 30-49 19 72 29-62 20-116 29-97 19 76 30 165 19 7 29-54 20-36 29-72 20-14 29-2 19 10 20-12 29-29 20-25 29-61 19 4 30-6 19 4 29-23 20-27 29-42 20-45 29-37 19-16 29-31 20-52 29-2 20-25 29-69 19-10 30-39 48-42 49-71 49-45 49-33 48-68 49-64 49-81 48-65 49-64 49-76 49-43 48-53 49-52 49-48 49-39 48-67 49-65 49-58 48-57 49-14 49 25 49 104 58 147 20 61 243 714 20 17 48 34 49 25 49 24 49-9 48 13 49 23 49 54 48 59 49 82 49 79 49 49 48 9 39-7 49-20 39 40 39-11 39 52 49 84 39 74 39 64 39 101 58 205" stroke="#ffbd00"/>
<path d="M6026 3504l20-19 29-16 19-19 30 60 19-55 29-62 20-23 29-22 20 28 29 9 19-86 20-53 29 13 20 40 29-110 19-3 30-42 19 48 29-16 20-124 29-61 19 104 30 106 19-27 29-39 20-25 29-57 20-29 29 6 19-14 20-5 29-16 20-19 29-62 19 4 30-6 19-11 29-19 20-34 29-37 20-33 29-30 19-13 29-41 20-42 29-16 20-49 29-22 19-12 30-48 48-49 49-61 49-55 49-35 48-59 49-62 49-73 48-76 49-62 49-74 49-43 48-50 49-45 49-40 49-52 48-65 49-64 49-60 48-41 49-8 49 17 49 103 58 158 20 55 243 699 20 26 48 25 49 30 49 20 49 15 48-13 49 26 49 71 48 51 49 63 49 88 49 45 48 19 39-14 49-26 39 27 39 5 39 70 49 71 39 49 39 72 39 108 58 197" stroke="#ffc200"/>
<path d="M6026 3556l20-41 29-42 19-1 30 1 19-11 29-65 20-39 29 25 20-5 29 1 19-50 20-63 29 12 20 24 29-108 19-3 30-13 19 32 29-37 20-137 29-37 19 55 30 110 19-9 29-33 20-50 29-27 20-32 29-15 19 18 20-26 29-18 20-32 29-25 19-25 30-8 19-2 29-47 20-9 29-34 20-31 29-39 19-25 29-32 20-36 29-28 20-4 29-48 19-11 30-40 48-58 49-50 49-50 49-42 48-57 49-67 49-56 48-70 49-65 49-65 49-38 48-49 49-55 49-31 49-43 48-62 49-64 49-57 48-53 49 4 49 34 49 73 58 155 20 59 243 662 20 23 48 35 49 39 49 18 49-11 48 4 49 47 49 46 48 48 49 84 49 62 49 61 48 23 39-18 49-14 39 23 39 1 39 52 49 66 39 71 39 74 39 104 58 215" stroke="#ffc600"/>
<path d="M6026 3421l20-41 29-31 19 14 30 5 19 8 29-71 20-14 29 3 20 8 29-17 19-43 20-29 29-23 20 18 29-60 19-6 30-37 19 36 29-33 20-90 29-66 19 70 30 83 19-17 29-21 20-36 29-33 20-26 29-8 19 6 20-9 29-26 20-37 29-40 19-4 30-7 19-10 29-31 20-31 29-32 20-25 29-29 19-31 29-30 20-28 29-25 20-28 29-28 19-21 30-27 48-46 49-43 49-49 49-41 48-53 49-55 49-55 48-56 49-49 49-59 49-46 48-36 49-58 49-16 49-49 48-52 49-58 49-40 48-42 49-6 49 31 49 67 58 138 20 45 243 626 20 15 48 36 49 33 49 20 49-6 48 1 49 35 49 47 48 54 49 88 49 73 49 40 48 27 39-25 49-7 39 26 39 10 39 55 49 61 39 63 39 80 39 107 58 195" stroke="#ffd000"/>
<path d="M6026 3415l20-24 29-39 19-9 30 11 19-25 29-35 20-21 29-4 20-11 29 2 19-30 20-58 29 7 20 4 29-42 19-28 30-21 19 31 29-43 20-93 29-41 19 47 30 78 19-16 29-22 20-42 29-13 20-20 29-25 19-5 20-7 29-28 20-32 29-21 19-13 30-13 19-24 29-34 20-16 29-45 20-19 29-40 19-15 29-26 20-28 29-20 20-17 29-41 19-15 30-30 48-34 49-53 49-41 49-43 48-44 49-46 49-58 48-48 49-42 49-43 49-36 48-48 49-34 49-35 49-37 48-46 49-55 49-39 48-22 49-1 49 30 49 59 58 117 20 46 243 569 20 30 48 33 49 26 49 23 49-7 48 2 49 36 49 46 48 56 49 80 49 84 49 41 48 19 39-14 49-23 39 24 39 11 39 51 49 78 39 67 39 75 39 89 58 209" stroke="#ffd700"/>
<path d="M6026 3351l20 17 29-21 19-9 30 7 19-23 29-55 20-38 29-1 20 23 29-9 19-42 20-51 29-4 20 16 29-68 19-19 30-47 19 48 29-33 20-101 29-42 19 49 30 79 19-7 29-27 20-27 29-35 20-19 29-18 19-2 20-1 29-32 20-16 29-43 19-25 30-17 19-5 29-29 20-18 29-46 20-29 29-22 19-29 29-30 20-27 29-13 20-24 29-22 19-19 30-17 48-43 49-37 49-45 49-46 48-39 49-38 49-42 48-36 49-44 49-40 49-36 48-36 49-30 49-36 49-38 48-29 49-49 49-34 48-24 49 6 49 33 49 49 58 102 20 44 243 526 20 19 48 36 49 33 49 20 49-9 48 3 49 33 49 45 48 65 49 77 49 76 49 44 48 20 39-18 49-9 39 20 39 8 39 58 49 65 39 68 39 70 39 99 58 205" stroke="#ffe000"/>
<path d="M6026 3354l20-36 29-19 19 19 30-10 19-23 29-57 20-41 29 26 20-10 29 25 19-47 20-63 29 25 20 9 29-98 19-8 30-33 19 50 29-65 20-76 29-47 19 26 30 96 19-2 29-34 20-23 29-34 20-21 29-5 19-12 20 0 29-22 20-30 29-47 19-7 30-19 19-16 29-29 20-15 29-49 20-28 29-30 19-24 29-23 20-28 29-21 20-8 29-36 19-6 30-15 48-35 49-44 49-42 49-42 48-28 49-41 49-32 48-35 49-47 49-36 49-29 48-23 49-35 49-30 49-34 48-36 49-32 49-34 48-22 49 20 49 13 49 54 58 93 20 26 243 501 20 23 48 44 49 31 49 14 49-4 48 9 49 27 49 40 48 73 49 72 49 72 49 50 48 10 39-9 49-14 39 27 39 0 39 62 49 77 39 51 39 75 39 99 58 204" stroke="#ffe600"/>
<path d="M6026 3373l20-32 29-7 19-30 30 19 19-29 29-48 20-16 29-20 20 22 29-9 19-41 20-60 29 8 20 13 29-98 19 4 30-22 19 38 29-43 20-95 29-48 19 43 30 70 19 1 29-22 20-29 29-32 20-32 29-8 19-4 20 17 29-46 20-32 29-43 19-4 30-10 19-24 29-26 20-18 29-44 20-34 29-31 19-19 29-21 20-41 29-3 20-20 29-22 19-17 30-16 48-34 49-43 49-48 49-33 48-38 49-37 49-33 48-36 49-41 49-40 49-27 48-29 49-33 49-36 49-32 48-34 49-27 49-35 48-25 49 9 49 37 49 44 58 88 20 35 243 498 20 25 48 43 49 25 49 10 49 2 48 8 49 33 49 45 48 57 49 90 49 66 49 43 48 22 39-17 49-14 39 26 39 7 39 54 49 65 39 65 39 78 39 102 58 197" stroke="#ffe500"/>
<path d="M6026 3332l20-8 29-40 19 10 30-28 19 16 29-63 20-15 29-7 20 10 29-14 19-11 20-45 29-18 20 25 29-87 19 4 30-35 19 27 29-43 20-67 29-41 19 29 30 56 19-8 29-23 20-20 29-26 20-13 29-27 19-6 20-1 29-31 20-27 29-28 19-20 30-18 19-6 29-38 20-24 29-41 20-19 29-33 19-18 29-33 20-24 29-24 20-14 29-24 19-8 30-19 48-40 49-36 49-50 49-35 48-33 49-36 49-40 48-40 49-31 49-35 49-38 48-27 49-30 49-27 49-42 48-25 49-42 49-27 48-27 49 14 49 29 49 49 58 86 20 33 243 511 20 12 48 36 49 34 49 19 49-6 48 4 49 34 49 42 48 68 49 74 49 80 49 40 48 23 39-20 49-10 39 18 39 11 39 53 49 73 39 57 39 80 39 96 58 204" stroke="#ffe600"/>
<path d="M6026 3388l20-37 29-25 19-24 30 17 19-38 29-34 20-16 29-8 20-19 29-4 19-33 20-54 29 15 20 5 29-60 19-12 30-28 19 30 29-61 20-47 29-56 19 29 30 66 19-1 29-27 20-24 29-27 20-27 29-13 19-4 20-14 29-16 20-32 29-29 19-21 30-20 19-16 29-27 20-25 29-37 20-29 29-34 19-21 29-23 20-26 29-13 20-13 29-32 19-9 30-15 48-44 49-34 49-52 49-40 48-40 49-25 49-38 48-33 49-48 49-38 49-33 48-22 49-31 49-32 49-31 48-32 49-34 49-43 48-19 49 7 49 30 49 49 58 93 20 39 243 500 20 16 48 36 49 41 49 13 49-2 48 1 49 31 49 54 48 58 49 65 49 85 49 42 48 24 39-19 49-17 39 30 39 2 39 58 49 64 39 63 39 75 39 106 58 200" stroke="#ffe500"/>
<path d="M6026 3412l20-8 29-44 19-25 30-22 19 2 29-31 20-47 29 19 20-15 29-27 19-24 20-30 29 3 20-17 29-60 19-7 30-41 19 36 29-34 20-97 29-35 19 34 30 70 19-18 29-18 20-35 29-26 20-29 29-7 19-3 20-1 29-31 20-35 29-47 19 6 30-23 19-22 29-33 20-19 29-41 20-18 29-37 19-26 29-32 20-17 29-20 20-18 29-30 19-5 30-14 48-42 49-34 49-52 49-38 48-34 49-35 49-38 48-33 49-43 49-39 49-31 48-25 49-36 49-35 49-30 48-36 49-34 49-26 48-31 49 16 49 22 49 56 58 84 20 37 243 507 20 24 48 33 49 33 49 15 49-4 48 3 49 33 49 50 48 59 49 69 49 85 49 41 48 21 39-16 49-20 39 24 39 18 39 51 49 76 39 56 39 79 39 102 58 201" stroke="#ffe400"/>
<path d="M6026 3404l20-54 29-29 19 16 30-21 19-15 29-42 20-30 29 2 20-5 29-19 19-12 20-66 29 16 20 1 29-77 19-5 30-24 19 34 29-54 20-83 29-56 19 48 30 94 19-22 29-24 20-24 29-34 20-26 29-9 19-6 20-4 29-17 20-40 29-36 19-14 30-23 19-9 29-36 20-26 29-35 20-20 29-34 19-26 29-25 20-23 29-21 20-17 29-27 19-7 30-13 48-37 49-34 49-47 49-48 48-33 49-37 49-36 48-33 49-49 49-37 49-16 48-30 49-33 49-38 49-32 48-34 49-36 49-31 48-30 49 11 49 21 49 59 58 73 20 32 243 493 20 22 48 44 49 30 49 19 49-8 48 5 49 34 49 47 48 60 49 75 49 82 49 44 48 19 39-20 49-9 39 26 39 6 39 54 49 78 39 57 39 78 39 99 58 208" stroke="#ffe000"/>
<path d="M6026 3326l20 18 29-45 19 8 30 14 19-30 29-56 20-11 29-10 20 1 29 13 19-37 20-58 29 1 20 18 29-72 19-12 30-32 19 26 29-38 20-79 29-35 19 31 30 63 19 2 29-33 20-22 29-31 20-29 29-8 19-3 20-8 29-29 20-38 29-15 19-24 30-20 19-20 29-27 20-15 29-53 20-16 29-34 19-16 29-30 20-26 29-24 20-16 29-21 19-10 30-16 48-36 49-39 49-47 49-35 48-36 49-39 49-29 48-44 49-42 49-36 49-25 48-26 49-35 49-34 49-32 48-40 49-26 49-39 48-27 49 12 49 26 49 48 58 86 20 27 243 497 20 23 48 31 49 34 49 17 49 0 48 1 49 35 49 44 48 68 49 71 49 79 49 45 48 17 39-14 49-16 39 22 39 10 39 56 49 71 39 65 39 79 39 95 58 201" stroke="#ffe100"/>
<path d="M6026 3396l20-39 29-17 19-28 30 9 19-24 29-34 20-28 29-12 20-7 29 0 19-31 20-55 29 3 20-3 29-58 19-5 30-40 19 21 29-30 20-83 29-44 19 30 30 70 19-2 29-27 20-32 29-32 20-20 29-14 19 2 20-7 29-32 20-17 29-40 19-7 30-27 19-14 29-30 20-31 29-33 20-27 29-32 19-18 29-38 20-18 29-23 20-10 29-31 19-8 30-20 48-38 49-43 49-46 49-45 48-34 49-34 49-35 48-32 49-44 49-36 49-27 48-28 49-33 49-36 49-32 48-36 49-37 49-20 48-29 49 13 49 38 49 50 58 99 20 37 243 506 20 19 48 36 49 36 49 15 49-4 48 1 49 37 49 47 48 56 49 79 49 76 49 45 48 21 39-18 49-17 39 27 39 9 39 51 49 70 39 58 39 73 39 103 58 198" stroke="#ffe900"/>
<path d="M6026 3379l20-27 29-32 19-7 30 0 19-24 29-46 20-18 29-29 20 0 29 19 19-31 20-33 29-5 20-10 29-45 19-10 30-35 19 12 29-33 20-64 29-45 19 28 30 53 19-9 29-13 20-30 29-26 20-28 29-15 19 2 20-19 29-14 20-32 29-29 19-12 30-22 19-21 29-34 20-21 29-42 20-16 29-36 19-20 29-23 20-30 29-15 20-11 29-32 19-9 30-23 48-36 49-41 49-41 49-39 48-34 49-31 49-43 48-36 49-40 49-39 49-24 48-33 49-23 49-41 49-37 48-28 49-38 49-33 48-26 49 13 49 27 49 43 58 84 20 32 243 499 20 19 48 39 49 25 49 20 49 1 48 2 49 34 49 50 48 53 49 81 49 81 49 42 48 23 39-20 49-18 39 29 39 9 39 59 49 68 39 63 39 70 39 106 58 205" stroke="#ffe200"/>
<path d="M6026 3388l20-3 29-38 19-6 30-18 19-7 29-64 20-12 29-13 20-1 29-6 19-26 20-57 29 4 20 3 29-65 19 0 30-39 19 23 29-36 20-76 29-28 19 15 30 64 19-14 29-27 20-21 29-25 20-23 29-15 19-2 20-9 29-30 20-25 29-24 19-23 30-25 19-16 29-29 20-31 29-29 20-31 29-35 19-7 29-38 20-23 29-21 20-12 29-27 19-5 30-25 48-32 49-44 49-46 49-39 48-28 49-49 49-30 48-41 49-41 49-34 49-26 48-32 49-30 49-31 49-29 48-43 49-33 49-35 48-21 49 11 49 28 49 51 58 87 20 36 243 502 20 21 48 41 49 26 49 16 49 0 48 0 49 37 49 43 48 67 49 73 49 77 49 48 48 21 39-19 49-16 39 24 39 12 39 52 49 72 39 58 39 79 39 101 58 202" stroke="#ffe400"/>
<path d="M6026 3352l20-19 29-24 19-9 30-2 19-26 29-37 20-6 29-30 20-10 29 3 19-30 20-41 29 5 20 9 29-73 19-12 30-27 19 23 29-40 20-67 29-42 19 30 30 57 19-1 29-23 20-31 29-25 20-11 29-26 19 5 20-25 29-20 20-23 29-28 19-14 30-25 19-18 29-30 20-26 29-39 20-24 29-26 19-16 29-37 20-21 29-25 20-20 29-26 19-4 30-22 48-33 49-46 49-42 49-40 48-39 49-38 49-27 48-38 49-42 49-37 49-29 48-28 49-30 49-33 49-37 48-30 49-34 49-29 48-24 49 16 49 29 49 54 58 93 20 39 243 508 20 15 48 41 49 26 49 16 49 3 48 0 49 30 49 50 48 60 49 69 49 85 49 41 48 17 39-15 49-16 39 24 39 12 39 58 49 70 39 54 39 78 39 99 58 202" stroke="#ffe900"/>
<path d="M6026 3370l20-30 29-15 19-1 30-10 19-10 29-55 20-24 29-5 20 4 29-13 19-35 20-44 29 10 20-4 29-63 19-13 30-35 19 41 29-46 20-75 29-43 19 19 30 74 19 5 29-33 20-23 29-38 20-17 29-13 19-5 20-9 29-24 20-25 29-36 19-17 30-15 19-20 29-32 20-22 29-42 20-18 29-34 19-19 29-34 20-20 29-22 20-16 29-21 19-13 30-16 48-36 49-45 49-42 49-37 48-42 49-30 49-39 48-34 49-41 49-38 49-28 48-34 49-23 49-35 49-35 48-36 49-36 49-25 48-34 49 19 49 22 49 49 58 84 20 35 243 506 20 10 48 44 49 28 49 19 49-9 48 10 49 33 49 43 48 64 49 73 49 78 49 49 48 23 39-21 49-13 39 23 39 3 39 65 49 65 39 58 39 84 39 98 58 208" stroke="#ffe300"/>
<path d="M6026 3374l20 0 29-54 19-4 30 0 19-13 29-43 20-12 29-39 20 7 29-4 19-25 20-47 29-11 20 17 29-57 19-4 30-43 19 18 29-52 20-49 29-35 19 24 30 42 19 5 29-33 20-21 29-27 20-18 29-24 19-10 20 0 29-28 20-27 29-23 19-17 30-21 19-22 29-34 20-22 29-36 20-21 29-32 19-21 29-35 20-18 29-21 20-20 29-25 19-5 30-20 48-38 49-42 49-47 49-38 48-31 49-42 49-39 48-28 49-45 49-34 49-30 48-36 49-17 49-37 49-37 48-31 49-36 49-34 48-24 49 15 49 22 49 51 58 93 20 27 243 506 20 22 48 42 49 26 49 11 49 6 48-6 49 41 49 48 48 58 49 72 49 78 49 45 48 21 39-12 49-16 39 19 39 14 39 52 49 75 39 57 39 75 39 105 58 197" stroke="#ffe400"/>
<path d="M6026 3316l20 17 29-42 19-5 30-2 19-34 29-21 20-39 29-3 20 17 29-9 19-31 20-45 29-6 20 12 29-65 19 5 30-22 19 8 29-44 20-65 29-37 19 22 30 53 19 3 29-19 20-24 29-42 20-11 29-18 19-7 20-7 29-17 20-31 29-32 19-14 30-24 19-11 29-34 20-22 29-41 20-19 29-35 19-15 29-32 20-22 29-22 20-16 29-25 19-8 30-13 48-40 49-42 49-44 49-44 48-36 49-30 49-42 48-35 49-36 49-41 49-28 48-29 49-33 49-32 49-33 48-28 49-33 49-40 48-23 49 13 49 28 49 50 58 89 20 35 243 501 20 18 48 41 49 28 49 16 49 0 48 10 49 23 49 52 48 63 49 69 49 83 49 47 48 13 39-12 49-16 39 21 39 7 39 59 49 72 39 62 39 71 39 100 58 202" stroke="#ffe600"/>
<path d="M6026 3376l20-12 29-48 19 3 30-31 19 2 29-48 20-22 29-19 20 20 29-30 19-15 20-36 29-3 20 0 29-52 19 0 30-46 19 18 29-35 20-66 29-48 19 33 30 53 19-16 29-11 20-26 29-28 20-21 29-20 19-6 20-4 29-26 20-23 29-30 19-18 30-22 19-17 29-37 20-20 29-41 20-21 29-29 19-21 29-30 20-23 29-23 20-14 29-23 19-16 30-18 48-35 49-40 49-53 49-34 48-34 49-36 49-39 48-37 49-37 49-42 49-22 48-27 49-32 49-34 49-34 48-33 49-33 49-34 48-21 49 12 49 25 49 52 58 83 20 39 243 503 20 17 48 43 49 27 49 13 49 2 48 5 49 29 49 44 48 67 49 76 49 80 49 43 48 11 39-7 49-19 39 26 39 4 39 56 49 75 39 57 39 75 39 100 58 205" stroke="#ffe500"/>
<path d="M6026 3390l20 0 29-62 19-3 30 2 19-18 29-57 20-18 29-18 20-5 29 6 19-33 20-46 29 4 20 7 29-68 19-16 30-18 19 24 29-47 20-71 29-49 19 36 30 66 19-10 29-26 20-23 29-27 20-25 29-16 19-7 20 6 29-36 20-18 29-45 19-15 30-21 19-16 29-31 20-20 29-41 20-28 29-27 19-21 29-25 20-31 29-15 20-14 29-27 19-6 30-21 48-37 49-44 49-41 49-43 48-26 49-39 49-39 48-30 49-47 49-38 49-25 48-25 49-39 49-36 49-24 48-42 49-27 49-38 48-26 49 13 49 21 49 48 58 79 20 39 243 496 20 22 48 35 49 33 49 9 49 5 48 3 49 35 49 45 48 60 49 75 49 82 49 43 48 21 39-22 49-9 39 25 39 8 39 56 49 72 39 59 39 79 39 101 58 202" stroke="#ffe100"/>
<path d="M6026 3322l20-3 29-45 19 9 30-29 19-8 29-18 20-24 29-6 20-7 29-5 19-31 20-34 29 8 20-2 29-67 19-8 30-22 19 20 29-40 20-65 29-30 19 14 30 62 19-10 29-10 20-36 29-33 20-6 29-30 19-2 20-3 29-21 20-33 29-28 19-17 30-20 19-16 29-38 20-18 29-42 20-16 29-33 19-18 29-38 20-13 29-23 20-21 29-24 19-14 30-18 48-32 49-38 49-46 49-37 48-41 49-32 49-38 48-34 49-43 49-35 49-29 48-28 49-29 49-39 49-32 48-28 49-33 49-32 48-29 49 11 49 33 49 45 58 89 20 35 243 500 20 22 48 36 49 34 49 13 49 0 48 1 49 36 49 46 48 60 49 75 49 80 49 48 48 19 39-23 49-10 39 14 39 14 39 58 49 68 39 63 39 75 39 96 58 203" stroke="#ffe600"/>
<path d="M6026 3371l20-49 29-22 19 14 30-19 19-29 29-12 20-40 29-25 20 25 29-16 19-20 20-52 29 14 20-2 29-67 19-15 30-32 19 24 29-45 20-68 29-41 19 37 30 56 19-22 29-18 20-18 29-30 20-21 29-9 19-14 20 1 29-26 20-32 29-18 19-24 30-14 19-20 29-35 20-23 29-39 20-21 29-33 19-17 29-33 20-20 29-27 20-10 29-32 19-6 30-20 48-37 49-45 49-45 49-34 48-40 49-36 49-40 48-29 49-42 49-35 49-30 48-27 49-41 49-28 49-34 48-33 49-31 49-38 48-11 49 9 49 28 49 61 58 92 20 37 243 506 20 23 48 35 49 25 49 14 49 3 48 4 49 36 49 43 48 62 49 72 49 78 49 47 48 18 39-17 49-8 39 17 39 11 39 53 49 70 39 61 39 70 39 104 58 195" stroke="#ffe900"/>
<path d="M6026 3365l20-30 29-17 19-13 30 3 19-27 29-37 20-27 29 1 20 1 29 2 19-37 20-48 29-4 20 19 29-92 19 9 30-39 19 31 29-23 20-88 29-52 19 52 30 53 19 0 29-25 20-30 29-22 20-30 29-11 19-4 20-13 29-36 20-14 29-36 19-13 30-19 19-19 29-37 20-19 29-39 20-22 29-39 19-7 29-36 20-23 29-19 20-11 29-26 19-10 30-19 48-31 49-47 49-39 49-46 48-29 49-43 49-27 48-40 49-39 49-35 49-31 48-24 49-38 49-31 49-33 48-35 49-35 49-40 48-21 49 9 49 25 49 41 58 86 20 29 243 498 20 23 48 36 49 32 49 11 49-1 48 13 49 27 49 47 48 66 49 70 49 79 49 48 48 22 39-22 49-10 39 21 39 5 39 65 49 69 39 55 39 80 39 100 58 206" stroke="#ffe100"/>
<path d="M6026 3303l20-24 29-31 19-8 30 2 19-32 29-37 20-34 29-7 20 7 29 6 19-31 20-39 29-26 20 27 29-70 19-18 30-14 19 21 29-46 20-70 29-41 19 25 30 52 19-3 29-17 20-24 29-19 20-30 29-11 19 5 20-12 29-20 20-22 29-29 19-15 30-19 19-21 29-31 20-23 29-36 20-24 29-42 19-7 29-44 20-22 29-23 20-16 29-32 19-7 30-24 48-42 49-63 49-46 49-49 48-40 49-38 49-22 48-20 49-38 49-51 49-26 48-39 49-37 49-20 49-36 48-34 49-17 49-29 48-5 49 40 49 58 49 87 58 139 20 43 243 564 20 19 48 30 49 28 49 14 49-3 48 7 49 27 49 50 48 43 49 71 49 72 49 32 48 21 39-12 49-14 39 19 39 13 39 49 49 63 39 51 39 67 39 88 58 183" stroke="#e6ff10"/>
<path d="M6026 3345l20-7 29-48 19 20 30-32 19-12 29-92 20 16 29-12 20-17 29-6 19-2 20-72 29-6 20 22 29-88 19-4 30-34 19 24 29-45 20-75 29-71 19 50 30 70 19-18 29-16 20-33 29-19 20-24 29-10 19-2 20-4 29-23 20-33 29-21 19-14 30-20 19-18 29-32 20-26 29-28 20-34 29-31 19-22 29-35 20-19 29-33 20-19 29-25 19-17 30-32 48-42 49-50 49-59 49-49 48-42 49-30 49-22 48-32 49-33 49-39 49-38 48-37 49-31 49-39 49-26 48-27 49-32 49-16 48 10 49 36 49 60 49 96 58 151 20 50 243 576 20 23 48 30 49 17 49 18 49-2 48 10 49 24 49 42 48 57 49 63 49 68 49 37 48 16 39-21 49-1 39 12 39 6 39 51 49 66 39 50 39 66 39 94 58 179" stroke="#e1ff15"/>
<path d="M6026 3331l20-21 29-39 19-13 30-15 19-16 29-55 20-19 29 5 20-24 29 0 19-13 20-72 29 13 20 7 29-86 19 22 30-43 19 11 29-38 20-76 29-62 19 39 30 79 19-12 29-30 20-30 29-5 20-33 29-7 19 6 20-14 29-14 20-29 29-43 19-8 30-19 19-13 29-31 20-26 29-29 20-30 29-39 19-15 29-35 20-34 29-26 20-10 29-32 19-17 30-25 48-47 49-55 49-64 49-43 48-41 49-34 49-17 48-26 49-33 49-37 49-46 48-28 49-37 49-40 49-25 48-25 49-28 49-20 48 11 49 31 49 71 49 101 58 156 20 49 243 585 20 15 48 35 49 29 49 12 49-7 48 3 49 31 49 43 48 55 49 67 49 72 49 24 48 16 39-18 49 1 39 10 39 13 39 45 49 65 39 45 39 76 39 79 58 178" stroke="#ddff1a"/>
<path d="M6026 3341l20-34 29-32 19 5 30 6 19-48 29-58 20-14 29-21 20 27 29-26 19-30 20-23 29-3 20-7 29-77 19-17 30-31 19 22 29-46 20-77 29-49 19 30 30 64 19-9 29-17 20-32 29-19 20-32 29-2 19-4 20 1 29-25 20-25 29-30 19-10 30-17 19-21 29-33 20-26 29-41 20-19 29-26 19-32 29-26 20-30 29-36 20-18 29-27 19-13 30-29 48-50 49-64 49-56 49-46 48-40 49-31 49-25 48-26 49-18 49-45 49-52 48-30 49-38 49-34 49-33 48-18 49-25 49-25 48 19 49 46 49 62 49 120 58 156 20 43 243 598 20 9 48 32 49 21 49 24 49-4 48 3 49 26 49 39 48 50 49 69 49 67 49 43 48 5 39-6 49-22 39 24 39 11 39 45 49 60 39 53 39 70 39 76 58 171" stroke="#daff1c"/>
<path d="M6026 3291l20-26 29-18 19 13 30-10 19-23 29-74 20-5 29-17 20 21 29-18 19-45 20-47 29 5 20 6 29-81 19-6 30-60 19 56 29-43 20-119 29-49 19 62 30 82 19-6 29-36 20-16 29-27 20-26 29-6 19 13 20-10 29-22 20-39 29-42 19 8 30-13 19-10 29-31 20-24 29-44 20-34 29-23 19-21 29-33 20-45 29-24 20-7 29-36 19-17 30-32 48-45 49-60 49-68 49-33 48-41 49-47 49-18 48-17 49-29 49-41 49-47 48-42 49-39 49-28 49-30 48-24 49-11 49-31 48 22 49 46 49 79 49 113 58 168 20 45 243 602 20 14 48 31 49 25 49 13 49 6 48-2 49 30 49 37 48 45 49 67 49 65 49 31 48 24 39-15 49-15 39 25 39 2 39 57 49 57 39 50 39 54 39 87 58 169" stroke="#d5ff22"/>
<path d="M6026 3341l20-59 29-16 19-6 30 6 19-53 29-54 20-56 29-7 20 26 29 11 19-52 20-70 29 25 20-10 29-98 19-20 30-26 19 35 29-63 20-102 29-46 19 37 30 106 19-12 29-20 20-34 29-20 20-27 29 1 19 0 20-5 29-14 20-36 29-27 19-13 30-10 19-18 29-17 20-35 29-27 20-38 29-42 19-23 29-28 20-32 29-37 20-11 29-50 19-6 30-34 48-64 49-54 49-77 49-57 48-40 49-32 49-5 48-19 49-25 49-55 49-50 48-30 49-43 49-40 49-21 48-10 49-16 49-14 48 33 49 58 49 104 49 139 58 206 20 57 243 670 20 8 48 26 49 17 49 28 49-15 48-1 49 27 49 34 48 43 49 61 49 60 49 27 48 27 39-19 49-10 39 20 39 2 39 46 49 39 39 51 39 45 39 93 58 154" stroke="#bdff39"/>
<path d="M6026 3293l20-43 29-26 19-6 30 0 19-22 29-74 20-36 29 12 20 19 29 1 19-56 20-89 29 13 20 28 29-115 19-4 30-57 19 67 29-54 20-111 29-67 19 35 30 133 19-19 29-18 20-41 29-33 20-5 29 14 19-18 20 1 29-7 20-39 29-37 19 6 30-28 19-7 29-27 20-16 29-44 20-31 29-43 19-16 29-51 20-28 29-12 20-44 29-34 19-7 30-36 48-58 49-64 49-84 49-40 48-50 49-41 49-6 48-13 49-21 49-53 49-50 48-45 49-24 49-29 49-33 48-19 49-9 49-8 48 26 49 74 49 99 49 159 58 223 20 59 243 657 20 18 48 23 49 19 49 22 49-13 48 11 49 18 49 31 48 52 49 51 49 63 49 22 48 7 39-3 49-5 39 24 39-10 39 41 49 56 39 50 39 52 39 75 58 146" stroke="#b7ff3f"/>
<path d="M6026 3202l20-26 29-49 19 2 30 32 19-37 29-56 20-51 29 8 20 39 29 1 19-71 20-35 29 1 20 25 29-124 19 2 30-41 19 64 29-59 20-124 29-59 19 68 30 80 19 8 29-14 20-37 29-19 20-20 29-3 19 4 20 5 29-13 20-43 29-28 19-19 30-4 19-8 29-25 20-30 29-32 20-26 29-43 19-7 29-51 20-38 29-22 20-33 29-39 19-8 30-30 48-58 49-79 49-80 49-31 48-63 49-38 49 8 48-4 49-41 49-36 49-52 48-46 49-41 49-35 49-16 48-21 49-11 49-8 48 47 49 74 49 113 49 149 58 228 20 69 243 663 20 13 48 22 49 22 49 16 49-7 48 15 49 11 49 43 48 35 49 51 49 68 49 15 48 19 39-6 49-16 39 26 39-1 39 38 49 47 39 46 39 61 39 59 58 145" stroke="#b0ff47"/>
<path d="M6026 3256l20-3 29-96 19 45 30-45 19 0 29-73 20-21 29-17 20 20 29-14 19-29 20-62 29-6 20 37 29-116 19-2 30-28 19 22 29-44 20-119 29-36 19 37 30 85 19 10 29-40 20-13 29-43 20-20 29 8 19 16 20-12 29-20 20-28 29-24 19-3 30-19 19-5 29-46 20-8 29-42 20-33 29-29 19-30 29-41 20-31 29-31 20-32 29-37 19-5 30-39 48-60 49-79 49-75 49-50 48-47 49-41 49-5 48-2 49-26 49-47 49-56 48-48 49-48 49-24 49-17 48-9 49-19 49-16 48 52 49 85 49 118 49 182 58 225 20 64 243 690 20 21 48 22 49 15 49 6 49 16 48-19 49 27 49 31 48 54 49 52 49 59 49 13 48 21 39-15 49-17 39 23 39 4 39 37 49 49 39 42 39 58 39 56 58 150" stroke="#aaff4d"/>
<path d="M6026 3227l20-32 29-29 19 10 30-40 19-21 29-78 20 19 29-36 20-4 29 45 19-66 20-28 29-22 20-6 29-67 19-18 30-33 19 24 29-57 20-78 29-51 19 31 30 71 19 13 29-32 20-16 29-31 20-21 29 0 19-3 20 16 29-21 20-18 29-35 19-10 30-11 19-5 29-36 20-22 29-46 20-23 29-45 19-20 29-27 20-42 29-25 20-37 29-44 19-9 30-38 48-49 49-87 49-81 49-57 48-49 49-33 49 8 48-12 49-22 49-55 49-62 48-41 49-30 49-28 49-30 48-19 49-6 49-4 48 46 49 86 49 135 49 183 58 243 20 73 243 705 20 8 48 21 49 25 49 8 49 7 48-6 49 18 49 28 48 47 49 49 49 43 49 34 48 11 39-18 49 10 39-2 39 20 39 27 49 43 39 48 39 46 39 54 58 140" stroke="#a2ff55"/>
<path d="M6026 3181l20-41 29-50 19 5 30-21 19 4 29-64 20-28 29 1 20 3 29 17 19-51 20-35 29 14 20-7 29-101 19 2 30-42 19 36 29-54 20-93 29-57 19 56 30 56 19 0 29-6 20-39 29-14 20-24 29 16 19-14 20 13 29-3 20-41 29-21 19-4 30-15 19 0 29-44 20-18 29-40 20-38 29-30 19-22 29-38 20-39 29-37 20-16 29-41 19-27 30-32 48-76 49-71 49-79 49-62 48-48 49-32 49 6 48-2 49-33 49-40 49-64 48-45 49-30 49-32 49-28 48-4 49-11 49-11 48 73 49 86 49 139 49 195 58 254 20 75 243 714 20 23 48 17 49 22 49 2 49 1 48-1 49 22 49 26 48 43 49 40 49 57 49 21 48 12 39-6 49-10 39 15 39 6 39 35 49 43 39 32 39 50 39 60 58 126" stroke="#98ff5f"/>
<path d="M6026 3230l20-28 29-41 19 12 30-5 19-24 29-50 20-11 29-32 20 2 29 9 19-27 20-58 29-1 20 3 29-93 19 8 30-52 19 28 29-46 20-85 29-45 19 29 30 60 19-11 29-3 20-27 29-21 20-18 29-1 19 2 20-3 29-6 20-28 29-18 19-8 30-19 19-8 29-40 20-25 29-33 20-30 29-38 19-27 29-43 20-35 29-31 20-24 29-47 19-25 30-34 48-69 49-76 49-88 49-58 48-58 49-39 49-8 48 3 49-36 49-56 49-55 48-49 49-31 49-30 49-26 48-13 49 2 49-27 48 56 49 79 49 133 49 189 58 250 20 77 243 742 20 20 48 17 49 18 49 11 49 2 48 2 49 18 49 29 48 44 49 43 49 60 49 23 48 2 39-4 49-9 39 15 39 0 39 36 49 56 39 38 39 46 39 65 58 128" stroke="#a5ff52"/>
<path d="M6026 3223l20 9 29-89 19 3 30 12 19-10 29-70 20-1 29-31 20 11 29 2 19-32 20-68 29 24 20 5 29-118 19-28 30-32 19 71 29-60 20-121 29-71 19 78 30 106 19-14 29-38 20-22 29-25 20-30 29 22 19-12 20 11 29-11 20-50 29-9 19-10 30-13 19-10 29-22 20-7 29-58 20-34 29-59 19-18 29-31 20-29 29-41 20-15 29-60 19-16 30-34 48-69 49-94 49-68 49-64 48-61 49-38 49-11 48 2 49-15 49-57 49-54 48-68 49-24 49-24 49-28 48-11 49-14 49-11 48 48 49 93 49 122 49 198 58 264 20 72 243 734 20 23 48 24 49 19 49-4 49 2 48 5 49 29 49 28 48 29 49 60 49 54 49 11 48 21 39-23 49-2 39 28 39-14 39 46 49 56 39 26 39 52 39 51 58 132" stroke="#a2ff54"/>
<path d="M6026 3218l20 4 29-83 19 57 30-24 19-11 29-96 20-22 29 7 20-19 29 33 19-11 20-110 29 27 20 22 29-132 19-16 30-60 19 78 29-44 20-147 29-87 19 81 30 98 19-8 29-12 20-36 29-13 20-24 29 5 19-2 20-4 29-3 20-46 29-9 19-17 30-2 19-27 29-9 20-34 29-22 20-49 29-42 19-23 29-22 20-60 29-34 20-30 29-44 19 0 30-49 48-66 49-85 49-92 49-74 48-37 49-37 49 14 48-12 49-10 49-66 49-67 48-51 49-30 49-40 49-18 48-3 49-6 49-6 48 57 49 92 49 144 49 197 58 271 20 85 243 747 20-8 48 35 49 23 49 10 49-5 48 7 49 8 49 28 48 35 49 59 49 44 49 33 48 7 39-13 49-7 39 14 39 1 39 28 49 48 39 25 39 60 39 55 58 123" stroke="#98ff5e"/>
<path d="M6026 3235l20-24 29-30 19-6 30 6 19-8 29-95 20-20 29-25 20 22 29-6 19-30 20-85 29 23 20 17 29-108 19-41 30-44 19 71 29-64 20-121 29-66 19 45 30 106 19 3 29-11 20-35 29-42 20 0 29-16 19 21 20-3 29-15 20-18 29-44 19-23 30 10 19-10 29-21 20-25 29-47 20-33 29-49 19-14 29-40 20-36 29-27 20-24 29-62 19-1 30-58 48-60 49-86 49-90 49-51 48-54 49-31 49 0 48-8 49-32 49-52 49-49 48-49 49-41 49-29 49-19 48-13 49 0 49-7 48 59 49 92 49 145 49 210 58 263 20 79 243 740 20 27 48 18 49 18 49 0 49 8 48-3 49 17 49 42 48 25 49 46 49 53 49 24 48 9 39-12 49-6 39 10 39 1 39 43 49 34 39 43 39 43 39 58 58 127" stroke="#96ff61"/>
<path d="M6026 3222l20-51 29-17 19-1 30-15 19-18 29-64 20-45 29 3 20 15 29 11 19-61 20-43 29-1 20 20 29-104 19-22 30-43 19 37 29-49 20-95 29-52 19 18 30 101 19-22 29-9 20-19 29-30 20-12 29-4 19 13 20-8 29-20 20-15 29-43 19 6 30-13 19 1 29-27 20-45 29-38 20-28 29-25 19-36 29-43 20-34 29-33 20-21 29-50 19-13 30-43 48-67 49-86 49-91 49-56 48-49 49-36 49 8 48 0 49-32 49-51 49-61 48-50 49-36 49-32 49-21 48-1 49-7 49-9 48 74 49 86 49 147 49 209 58 270 20 81 243 748 20 11 48 19 49 15 49 1 49 9 48 3 49 17 49 31 48 31 49 50 49 38 49 40 48 1 39-8 49-9 39 14 39 4 39 43 49 38 39 36 39 39 39 61 58 119" stroke="#92ff64"/>
<path d="M6026 3235l20 34 29-68 19 8 30-14 19-48 29-45 20-35 29 7 20 0 29 3 19-84 20-18 29-2 20-12 29-113 19 22 30-52 19 20 29-57 20-83 29-55 19 30 30 66 19 0 29-27 20-16 29-23 20-23 29 3 19 2 20 11 29-21 20-32 29-24 19-4 30-21 19-9 29-26 20-18 29-54 20-41 29-16 19-22 29-47 20-35 29-31 20-28 29-60 19-18 30-43 48-58 49-84 49-82 49-73 48-44 49-41 49 8 48 11 49-26 49-70 49-61 48-52 49-30 49-27 49-23 48-3 49-14 49-1 48 71 49 91 49 152 49 208 58 274 20 77 243 747 20 0 48 30 49 34 49 4 49-7 48 5 49 11 49 34 48 34 49 39 49 48 49 23 48 17 39-18 49-4 39 16 39 9 39 30 49 40 39 40 39 42 39 60 58 115" stroke="#93ff64"/>
<path d="M6026 3121l20-52 29 35 19-39 30 9 19-16 29-69 20-7 29 14 20-8 29-2 19-63 20-24 29 12 20 17 29-110 19-17 30-48 19 57 29-58 20-83 29-78 19 56 30 94 19-41 29-11 20-21 29-20 20-4 29-19 19 23 20-20 29-3 20-7 29-47 19-14 30 6 19-18 29-20 20-21 29-28 20-53 29-28 19-31 29-32 20-36 29-45 20-17 29-46 19-12 30-47 48-66 49-80 49-88 49-71 48-33 49-43 49 7 48 1 49-18 49-60 49-46 48-72 49-41 49-13 49-24 48-5 49-4 49 1 48 65 49 101 49 146 49 203 58 280 20 84 243 745 20 6 48 11 49 22 49 13 49 3 48 2 49 23 49 22 48 26 49 55 49 50 49 22 48-7 39-5 49-2 39 9 39 8 39 29 49 41 39 48 39 38 39 55 58 113" stroke="#8dff69"/>
<path d="M6026 3218l20 26 29-82 19-14 30-4 19-40 29-43 20-8 29-40 20-6 29 16 19-21 20-66 29-15 20 0 29-91 19-14 30-45 19 48 29-90 20-68 29-58 19 40 30 63 19-10 29-32 20-24 29-19 20-27 29 10 19-4 20 5 29-28 20-12 29-33 19-14 30 8 19-36 29-20 20-20 29-31 20-38 29-28 19-40 29-41 20-44 29-24 20-34 29-45 19-25 30-28 48-63 49-90 49-78 49-65 48-44 49-40 49 18 48 5 49-11 49-46 49-57 48-50 49-37 49-22 49-7 48-11 49 9 49-4 48 80 49 100 49 160 49 201 58 282 20 78 243 738 20 13 48 21 49 12 49 15 49 0 48 2 49 12 49 28 48 38 49 37 49 47 49 26 48 0 39-8 49-4 39 15 39 9 39 29 49 37 39 29 39 49 39 51 58 122" stroke="#83ff74"/>
<path d="M6026 3175l20-59 29-36 19 36 30-20 19-35 29-79 20-69 29 60 20 10 29 11 19-34 20-79 29 14 20-1 29-116 19-26 30-36 19 65 29-43 20-143 29-89 19 67 30 122 19 24 29-50 20-46 29-26 20-5 29 3 19 11 20-1 29-22 20-35 29-42 19 10 30 0 19-1 29-25 20-33 29-49 20-52 29-21 19-23 29-52 20-24 29-36 20-31 29-50 19-10 30-33 48-70 49-89 49-81 49-57 48-29 49-38 49 4 48 17 49-9 49-41 49-52 48-57 49-31 49-28 49-21 48-3 49 11 49 1 48 76 49 111 49 147 49 204 58 270 20 85 243 735 20 25 48 10 49 21 49-2 49 12 48-18 49 26 49 25 48 46 49 32 49 43 49 16 48 28 39-15 49-9 39 14 39 8 39 20 49 48 39 28 39 40 39 61 58 103" stroke="#80ff77"/>
<path d="M6026 3109l20-60 29-66 19 50 30-38 19-22 29-29 20 7 29-46 20 27 29 13 19-52 20-27 29-16 20 22 29-91 19 1 30-48 19 36 29-51 20-94 29-45 19 31 30 62 19 4 29-6 20-34 29-26 20-24 29-4 19 5 20 8 29-21 20-7 29-43 19-3 30-12 19-6 29-31 20-18 29-46 20-18 29-50 19-24 29-49 20-22 29-34 20-27 29-43 19-19 30-33 48-71 49-79 49-86 49-54 48-52 49-25 49 19 48 2 49-25 49-36 49-51 48-51 49-31 49-35 49-6 48-4 49 3 49-5 48 92 49 109 49 145 49 197 58 276 20 85 243 728 20 14 48 11 49 30 49 1 49-5 48 15 49 9 49 25 48 35 49 30 49 54 49 23 48 13 39-18 49 0 39 6 39 12 39 31 49 29 39 44 39 32 39 60 58 108" stroke="#80ff77"/>
<path d="M6026 3201l20-83 29-36 19 11 30-13 19-26 29-46 20-44 29-33 20 40 29-20 19 1 20-67 29-13 20 2 29-85 19-34 30-53 19 50 29-39 20-114 29-43 19 27 30 96 19-22 29 2 20-36 29-30 20-41 29 28 19-7 20-28 29-7 20-9 29-45 19-16 30-5 19-1 29-23 20-36 29-35 20-37 29-35 19-21 29-56 20-22 29-38 20-19 29-51 19-16 30-37 48-82 49-81 49-79 49-55 48-41 49-25 49 16 48 38 49-27 49-26 49-59 48-46 49-15 49-28 49-9 48 0 49-2 49 16 48 82 49 111 49 161 49 198 58 269 20 74 243 734 20-1 48 32 49 23 49 2 49-4 48 7 49 14 49 18 48 48 49 29 49 42 49 29 48 2 39-7 49-6 39 3 39 13 39 41 49 38 39 27 39 30 39 53 58 122" stroke="#76ff81"/>
<path d="M6026 3166l20-16 29-105 19 32 30-14 19-21 29-68 20-18 29-35 20 68 29-14 19-37 20-72 29 5 20 30 29-136 19-14 30-42 19 51 29-34 20-113 29-80 19 47 30 81 19 18 29-40 20-31 29-44 20-4 29-9 19 15 20 8 29-20 20-31 29-54 19 2 30-2 19-8 29-22 20-27 29-43 20-36 29-40 19-9 29-55 20-46 29-14 20-31 29-52 19-22 30-36 48-68 49-79 49-79 49-45 48-47 49-31 49 12 48 30 49-25 49-38 49-42 48-50 49-16 49-28 49 2 48-9 49 2 49 7 48 89 49 117 49 161 49 193 58 280 20 67 243 734 20 17 48 20 49 12 49 7 49-4 48 7 49 7 49 47 48 33 49 14 49 49 49 18 48 8 39-8 49-6 39 23 39-4 39 32 49 35 39 38 39 36 39 41 58 111" stroke="#75ff81"/>
<path d="M6026 3120l20-12 29-45 19-7 30-6 19-3 29-82 20-25 29-5 20 12 29 12 19-53 20-60 29 16 20 8 29-111 19-13 30-52 19 61 29-55 20-124 29-44 19 32 30 102 19 0 29-21 20-45 29-23 20-22 29 1 19-12 20 7 29-20 20-28 29-32 19-7 30-11 19-3 29-15 20-41 29-39 20-29 29-46 19-12 29-34 20-57 29-27 20-17 29-53 19-22 30-31 48-83 49-70 49-74 49-54 48-38 49-32 49 17 48 13 49-8 49-36 49-45 48-39 49-26 49-23 49-15 48 7 49 2 49 21 48 69 49 130 49 165 49 196 58 265 20 74 243 725 20 12 48 22 49 17 49 5 49 11 48-8 49 13 49 33 48 31 49 38 49 45 49 13 48 12 39-5 49-7 39 9 39-1 39 33 49 35 39 40 39 29 39 54 58 111" stroke="#73ff84"/>
<path d="M6026 3148l20-50 29 6 19-6 30-24 19-38 29-64 20-32 29-29 20 32 29 8 19-24 20-80 29 9 20 9 29-89 19-24 30-57 19 69 29-40 20-133 29-57 19 51 30 91 19-37 29 2 20-25 29-37 20-29 29 2 19 3 20-4 29-15 20-29 29-30 19-2 30-17 19-1 29-41 20-11 29-45 20-21 29-47 19-22 29-57 20-27 29-36 20-13 29-50 19-24 30-32 48-74 49-84 49-81 49-49 48-42 49-24 49 10 48 34 49-23 49-39 49-42 48-48 49-23 49-8 49-27 48 13 49 3 49 4 48 93 49 114 49 162 49 194 58 272 20 75 243 728 20 13 48 21 49 8 49 14 49 0 48 1 49 18 49 17 48 43 49 32 49 46 49 24 48 1 39-4 49-7 39 13 39 4 39 30 49 37 39 29 39 42 39 51 58 103" stroke="#74ff83"/>
<path d="M6026 3144l20-44 29-52 19 15 30-40 19 18 29-86 20-28 29 21 20-14 29 6 19-21 20-100 29 27 20 20 29-94 19-14 30-57 19 44 29-38 20-106 29-60 19 38 30 85 19-7 29-39 20-34 29-26 20-5 29-23 19-2 20 5 29-23 20-23 29-21 19-2 30-32 19-1 29-34 20-18 29-42 20-39 29-23 19-34 29-35 20-43 29-35 20-27 29-44 19-9 30-49 48-72 49-76 49-71 49-59 48-40 49-15 49 16 48 23 49-9 49-29 49-54 48-41 49-14 49-19 49 2 48-1 49-1 49 13 48 80 49 129 49 164 49 187 58 272 20 76 243 726 20 15 48 17 49 13 49 9 49 7 48-10 49 27 49 11 48 37 49 36 49 48 49 11 48 9 39-9 49 5 39 9 39-3 39 35 49 37 39 13 39 58 39 38 58 112" stroke="#6eff89"/>
<path d="M6026 3176l20-51 29-34 19-29 30 21 19-27 29-70 20-47 29 7 20 11 29-17 19-29 20-50 29-6 20 8 29-100 19-13 30-38 19 32 29-54 20-103 29-54 19 46 30 71 19-14 29-36 20-27 29-48 20-10 29-15 19 9 20 2 29-27 20-27 29-30 19-9 30-10 19-7 29-32 20-27 29-43 20-6 29-60 19-30 29-43 20-30 29-35 20-21 29-49 19-22 30-32 48-74 49-77 49-76 49-45 48-39 49-22 49 10 48 36 49-18 49-28 49-38 48-25 49-34 49-11 49 7 48-11 49 15 49 18 48 78 49 155 49 147 49 201 58 266 20 81 243 724 20 13 48 11 49 17 49 11 49-1 48 2 49 13 49 23 48 30 49 38 49 39 49 22 48 7 39-14 49 1 39 10 39-1 39 37 49 41 39 22 39 28 39 61 58 96" stroke="#67ff90"/>
<path d="M6026 3043l20-55 29-25 19 27 30-25 19-10 29-75 20-4 29 26 20 6 29-3 19-44 20-61 29 2 20 36 29-112 19-30 30-39 19 56 29-63 20-113 29-47 19 42 30 119 19-24 29-34 20-22 29-60 20-28 29 3 19 4 20-3 29-12 20-35 29-32 19 2 30-10 19-8 29-35 20-17 29-46 20-23 29-34 19-43 29-45 20-25 29-28 20-33 29-37 19-21 30-33 48-75 49-71 49-73 49-49 48-35 49-21 49 13 48 33 49-5 49-28 49-39 48-29 49-18 49-11 49-3 48 2 49 13 49 14 48 91 49 136 49 168 49 187 58 261 20 72 243 726 20-1 48 20 49 12 49 15 49-2 48 10 49 8 49 23 48 25 49 34 49 41 49 34 48-10 39 4 49-12 39 12 39 2 39 31 49 37 39 30 39 38 39 40 58 100" stroke="#62ff95"/>
<path d="M6026 3097l20-98 29 5 19 7 30-3 19-34 29-67 20-12 29-6 20-12 29 17 19-25 20-70 29 20 20 0 29-92 19-22 30-43 19 59 29-61 20-118 29-58 19 46 30 106 19-7 29-32 20-43 29-47 20-30 29 0 19 10 20-1 29-38 20-22 29-23 19-15 30-4 19-7 29-17 20-34 29-32 20-37 29-51 19-24 29-29 20-37 29-31 20-20 29-55 19-21 30-35 48-72 49-86 49-63 49-53 48-31 49-8 49 3 48 40 49-9 49-20 49-38 48-32 49-14 49-11 49-4 48-2 49 14 49 32 48 81 49 146 49 168 49 187 58 258 20 84 243 699 20 22 48 14 49 14 49 16 49-9 48 2 49 11 49 25 48 32 49 39 49 46 49 6 48 20 39-16 49-11 39 20 39 9 39 27 49 18 39 36 39 40 39 44 58 108" stroke="#5fff98"/>
<path d="M6026 3062l20-18 29-51 19-26 30 23 19-24 29-56 20-38 29 4 20 34 29-1 19-58 20-73 29 31 20 18 29-124 19 1 30-38 19 44 29-59 20-120 29-44 19 40 30 109 19-22 29-25 20-37 29-29 20-30 29-7 19 27 20-29 29-17 20-26 29-35 19-11 30-8 19 2 29-34 20-22 29-41 20-22 29-46 19-20 29-50 20-41 29-29 20-20 29-47 19-17 30-44 48-62 49-74 49-74 49-43 48-46 49-16 49 18 48 30 49 1 49-37 49-28 48-36 49-14 49-8 49-10 48 2 49 12 49 21 48 88 49 148 49 161 49 185 58 262 20 79 243 712 20 8 48 17 49 16 49 3 49 5 48 2 49 16 49 20 48 33 49 43 49 23 49 27 48 9 39-5 49-4 39 5 39 5 39 23 49 37 39 27 39 39 39 46 58 100" stroke="#61ff96"/>
<path d="M6026 3142l20-78 29-73 19 68 30-54 19-9 29-69 20-26 29-21 20 22 29 16 19-35 20-77 29-7 20 34 29-119 19-15 30-29 19 23 29-44 20-128 29-56 19 60 30 95 19-6 29-33 20-55 29-36 20-26 29-12 19-2 20-2 29-18 20-27 29-38 19-21 30 13 19-12 29-35 20-21 29-47 20-31 29-41 19-13 29-49 20-32 29-38 20-23 29-52 19-10 30-44 48-64 49-71 49-76 49-39 48-35 49-22 49 19 48 43 49 3 49-24 49-35 48-24 49-13 49-2 49 2 48-4 49 19 49 31 48 90 49 147 49 174 49 174 58 273 20 64 243 723 20 1 48 16 49 18 49 5 49 0 48-5 49 27 49 16 48 28 49 44 49 30 49 9 48 21 39-7 49-11 39 10 39 7 39 26 49 34 39 27 39 33 39 46 58 95" stroke="#57ffa0"/>
<path d="M6026 3078l20-18 29-64 19-19 30 19 19-38 29-33 20-36 29 20 20-15 29 20 19-56 20-34 29-10 20-4 29-101 19 8 30-62 19 11 29-33 20-97 29-29 19 23 30 75 19-9 29-38 20-44 29-36 20-34 29 10 19-32 20 20 29-21 20-43 29-28 19-13 30 1 19-15 29-30 20-10 29-46 20-30 29-38 19-25 29-38 20-46 29-32 20-32 29-40 19-15 30-35 48-73 49-89 49-51 49-47 48-42 49-4 49 12 48 47 49 3 49-24 49-34 48-11 49-9 49-9 49-8 48 14 49 18 49 27 48 94 49 151 49 172 49 184 58 244 20 81 243 712 20 15 48 12 49 17 49 1 49 8 48 6 49 5 49 28 48 26 49 33 49 24 49 24 48 5 39 4 49-9 39 12 39-9 39 41 49 26 39 29 39 30 39 45 58 104" stroke="#54ffa3"/>
<path d="M6026 3060l20 10 29-50 19-21 30-1 19-38 29-43 20-33 29 6 20-23 29 24 19-24 20-81 29 6 20 9 29-90 19-10 30-48 19 56 29-58 20-99 29-67 19 29 30 90 19-11 29-47 20-26 29-52 20-25 29 0 19-11 20-2 29-13 20-26 29-32 19-29 30-17 19 0 29-33 20-4 29-56 20-33 29-36 19-12 29-53 20-28 29-41 20-17 29-50 19-16 30-46 48-69 49-70 49-65 49-48 48-30 49-11 49 30 48 32 49-7 49-16 49-25 48-23 49 1 49-11 49-4 48 10 49 12 49 33 48 100 49 145 49 174 49 180 58 254 20 84 243 711 20 7 48 10 49 18 49 7 49 3 48-1 49 14 49 30 48 20 49 32 49 44 49 16 48 9 39-9 49-10 39 20 39-5 39 27 49 24 39 38 39 41 39 41 58 83" stroke="#52ffa5"/>
<path d="M6026 3119l20-34 29-37 19-13 30-23 19 1 29-58 20-38 29-10 20 32 29-25 19-55 20-46 29-11 20 40 29-118 19-30 30-48 19 53 29-51 20-108 29-44 19 32 30 88 19-24 29-37 20-49 29-38 20-21 29-17 19 7 20-11 29-22 20-30 29-37 19 4 30-25 19-11 29-18 20-38 29-27 20-45 29-31 19-28 29-39 20-39 29-24 20-28 29-42 19-31 30-34 48-73 49-73 49-67 49-42 48-37 49-3 49 13 48 41 49 11 49-24 49-25 48-23 49 4 49-15 49 2 48 6 49 24 49 28 48 93 49 152 49 168 49 187 58 261 20 74 243 721 20-1 48 15 49 16 49 7 49 7 48-2 49 14 49 19 48 26 49 34 49 29 49 31 48-6 39 4 49-17 39 24 39-2 39 24 49 33 39 25 39 34 39 45 58 94" stroke="#51ffa6"/>
<path d="M6026 3084l20-35 29-43 19-19 30-2 19-16 29-61 20-49 29 23 20 1 29 5 19-45 20-38 29-17 20 0 29-71 19-17 30-40 19 17 29-43 20-93 29-53 19 35 30 59 19-17 29-14 20-48 29-53 20-20 29-19 19-6 20-11 29-21 20-17 29-35 19-10 30-15 19-6 29-25 20-29 29-45 20-28 29-26 19-35 29-40 20-39 29-28 20-35 29-42 19-24 30-41 48-62 49-72 49-68 49-41 48-34 49 0 49 24 48 44 49 1 49-12 49-28 48-9 49-11 49-1 49 0 48 9 49 26 49 42 48 88 49 162 49 170 49 176 58 260 20 63 243 716 20 2 48 22 49 21 49 3 49-3 48-1 49 12 49 21 48 34 49 29 49 30 49 20 48 10 39-8 49-2 39 6 39 2 39 28 49 32 39 18 39 39 39 44 58 82" stroke="#4bffac"/>
<path d="M6026 3052l20-31 29-27 19-3 30-53 19 10 29-74 20-5 29-28 20 14 29 10 19-54 20-25 29-6 20 8 29-84 19-20 30-40 19 25 29-64 20-65 29-54 19 31 30 67 19-22 29-36 20-38 29-46 20-40 29 5 19-2 20-11 29-23 20-22 29-30 19-10 30-19 19-9 29-28 20-19 29-51 20-24 29-45 19-16 29-44 20-33 29-36 20-25 29-47 19-12 30-47 48-59 49-82 49-63 49-48 48-20 49-15 49 30 48 47 49 6 49-10 49-33 48-9 49-7 49 8 49-1 48 9 49 18 49 31 48 103 49 163 49 165 49 185 58 252 20 71 243 707 20 15 48 6 49 21 49 2 49-5 48 2 49 19 49 24 48 24 49 30 49 29 49 25 48 6 39-9 49-4 39 13 39 3 39 24 49 31 39 21 39 39 39 45 58 77" stroke="#48ffaf"/>
<path d="M6026 3089l20-6 29-72 19-34 30-4 19-21 29-81 20-4 29 13 20-5 29-2 19-50 20-29 29-14 20-2 29-69 19-25 30-28 19 14 29-35 20-104 29-66 19 43 30 73 19-13 29-52 20-30 29-51 20-19 29-16 19 2 20-10 29-20 20-34 29-32 19-8 30-12 19 2 29-40 20-26 29-41 20-11 29-42 19-39 29-37 20-38 29-33 20-31 29-36 19-26 30-47 48-58 49-76 49-68 49-37 48-24 49-13 49 25 48 51 49 5 49-21 49-23 48-12 49 1 49-8 49 11 48 6 49 24 49 29 48 101 49 168 49 166 49 182 58 251 20 80 243 701 20 12 48 17 49 13 49 7 49 5 48-10 49 20 49 14 48 25 49 39 49 28 49 24 48 5 39-7 49-11 39 17 39 5 39 23 49 29 39 27 39 37 39 34 58 94" stroke="#48ffaf"/>
<path d="M6026 3099l20-39 29-51 19-8 30-13 19-19 29-54 20-10 29-34 20 17 29-11 19-40 20-60 29-2 20 24 29-105 19-10 30-55 19 43 29-61 20-96 29-73 19 33 30 120 19-21 29-45 20-52 29-57 20-27 29-6 19 6 20-8 29-26 20-32 29-32 19-25 30 2 19-15 29-24 20-15 29-47 20-31 29-38 19-32 29-35 20-51 29-26 20-17 29-42 19-36 30-35 48-61 49-67 49-80 49-40 48-23 49-1 49 25 48 44 49 10 49-4 49-26 48-11 49-4 49 11 49-13 48 12 49 26 49 46 48 97 49 169 49 162 49 185 58 250 20 69 243 713 20 9 48 13 49 17 49 3 49-6 48 1 49 18 49 21 48 29 49 33 49 28 49 18 48 10 39-4 49-9 39-2 39 17 39 29 49 22 39 32 39 23 39 44 58 93" stroke="#44ffb3"/>
<path d="M6026 3020l20 19 29-65 19-4 30-8 19-25 29-48 20-61 29 43 20-3 29-25 19-25 20-44 29 3 20-1 29-117 19 3 30-33 19 26 29-45 20-113 29-45 19 31 30 86 19-26 29-30 20-42 29-43 20-34 29-20 19 3 20-22 29-9 20-23 29-45 19-4 30-18 19-7 29-23 20-33 29-33 20-34 29-32 19-21 29-43 20-38 29-36 20-27 29-50 19-12 30-46 48-62 49-78 49-66 49-35 48-22 49-3 49 26 48 48 49 8 49-6 49-18 48-15 49 4 49 1 49 1 48 14 49 26 49 39 48 87 49 180 49 170 49 178 58 248 20 86 243 689 20 12 48 17 49 8 49 19 49-10 48-1 49 15 49 22 48 24 49 31 49 32 49 29 48-7 39-9 49-2 39 7 39 14 39 24 49 34 39 15 39 30 39 46 58 80" stroke="#41ffb6"/>
<path d="M6026 3053l20-65 29-34 19 10 30 8 19-46 29-64 20-24 29-21 20 53 29-46 19-8 20-54 29 13 20-18 29-96 19-8 30-49 19 42 29-48 20-118 29-53 19 48 30 100 19-35 29-30 20-42 29-69 20-26 29 1 19-2 20-12 29-20 20-36 29-54 19-13 30 6 19-12 29-27 20-16 29-32 20-44 29-32 19-31 29-43 20-28 29-46 20-18 29-50 19-15 30-46 48-60 49-70 49-64 49-42 48-20 49-8 49 28 48 66 49-3 49-10 49-10 48-4 49 7 49-5 49 6 48 11 49 31 49 42 48 98 49 172 49 168 49 186 58 252 20 69 243 696 20 7 48 16 49 15 49-1 49 4 48 0 49 8 49 29 48 20 49 36 49 30 49 17 48 5 39-7 49-6 39 11 39-4 39 27 49 30 39 19 39 29 39 50 58 72" stroke="#3cffba"/>
<path d="M6026 2985l20 8 29-71 19-9 30 18 19-61 29-16 20-59 29 7 20 18 29 12 19-46 20-55 29 1 20 8 29-84 19-27 30-26 19 23 29-56 20-82 29-56 19 27 30 84 19-16 29-18 20-60 29-57 20-16 29-33 19 19 20-26 29-11 20-21 29-36 19-13 30-10 19-8 29-31 20-29 29-35 20-33 29-29 19-28 29-43 20-37 29-37 20-34 29-41 19-18 30-47 48-54 49-78 49-70 49-35 48-28 49 0 49 44 48 60 49-9 49 11 49-18 48-7 49 0 49 5 49 12 48 16 49 34 49 46 48 94 49 175 49 160 49 187 58 250 20 68 243 684 20 15 48 11 49 19 49 2 49 3 48-5 49 24 49 5 48 30 49 28 49 29 49 22 48 8 39-15 49-1 39 11 39-3 39 32 49 29 39 21 39 31 39 39 58 82" stroke="#3affbd"/>
<path d="M6026 2982l20-43 29-44 19 11 30 20 19-54 29-36 20-77 29 26 20 12 29 30 19-68 20-70 29 41 20 2 29-107 19-13 30-67 19 47 29-25 20-131 29-51 19 35 30 131 19-29 29-54 20-31 29-64 20-19 29-23 19 7 20 5 29-23 20-33 29-46 19-2 30-3 19-29 29 5 20-28 29-44 20-22 29-45 19-26 29-39 20-49 29-25 20-30 29-61 19-7 30-50 48-71 49-70 49-73 49-40 48-30 49 2 49 52 48 62 49 21 49-15 49-15 48 2 49 18 49 3 49 20 48 25 49 31 49 44 48 106 49 165 49 169 49 175 58 244 20 78 243 665 20 17 48 14 49-1 49 13 49-5 48 6 49 5 49 27 48 17 49 43 49 23 49 18 48 4 39 0 49-10 39 11 39 4 39 30 49 23 39 14 39 39 39 36 58 75" stroke="#35ffc2"/>
<path d="M6026 3034l20-31 29-76 19 18 30-19 19 2 29-68 20-49 29 5 20 1 29-2 19-48 20-74 29 17 20 28 29-118 19-5 30-59 19 65 29-76 20-103 29-56 19 55 30 85 19-7 29-48 20-38 29-52 20-38 29-18 19 21 20-9 29-29 20-25 29-36 19-25 30 11 19-13 29-19 20-22 29-27 20-49 29-34 19-25 29-59 20-29 29-33 20-27 29-61 19-14 30-40 48-68 49-82 49-69 49-62 48 1 49-8 49 41 48 83 49 8 49 1 49-10 48-8 49 9 49 17 49 19 48 24 49 26 49 52 48 112 49 155 49 177 49 172 58 243 20 66 243 672 20 17 48 13 49 9 49 3 49 4 48-2 49 17 49 13 48 25 49 34 49 31 49 12 48 14 39-5 49-9 39 10 39 6 39 23 49 22 39 20 39 37 39 32 58 87" stroke="#34ffc2"/>
<path d="M6026 2967l20-76 29-21 19 33 30-3 19-39 29-49 20-38 29-13 20 22 29 0 19-18 20-65 29 17 20 16 29-117 19-20 30-44 19 50 29-72 20-80 29-68 19 49 30 102 19-32 29-29 20-55 29-31 20-52 29-14 19 25 20-7 29-23 20-33 29-25 19-21 30-8 19 3 29-13 20-30 29-41 20-38 29-31 19-25 29-54 20-37 29-37 20-23 29-56 19-16 30-29 48-84 49-80 49-67 49-40 48-18 49-6 49 48 48 75 49 13 49-4 49-20 48 4 49 14 49 7 49 16 48 20 49 44 49 40 48 104 49 159 49 178 49 171 58 242 20 71 243 665 20 19 48 13 49 1 49 12 49 2 48-1 49 21 49 10 48 21 49 34 49 37 49 13 48 1 39-7 49-7 39 7 39 12 39 21 49 22 39 27 39 35 39 31 58 97" stroke="#34ffc2"/>
<path d="M6026 3002l20-54 29-88 19 64 30-9 19-44 29-30 20-75 29 17 20 25 29-2 19-60 20-76 29 7 20 22 29-95 19-28 30-42 19 31 29-11 20-151 29-54 19 52 30 107 19-9 29-38 20-40 29-76 20-21 29-8 19 6 20 16 29-35 20-32 29-44 19 6 30-13 19-1 29-24 20-14 29-46 20-29 29-29 19-48 29-52 20-23 29-47 20-17 29-55 19-32 30-35 48-73 49-80 49-88 49-36 48-19 49-4 49 53 48 80 49 15 49 8 49-12 48 0 49 16 49 27 49 16 48 29 49 37 49 58 48 102 49 157 49 171 49 178 58 240 20 67 243 663 20 12 48 4 49 14 49 3 49 3 48-1 49 14 49 28 48 11 49 27 49 29 49 24 48 5 39-6 49-7 39 10 39 7 39 23 49 27 39 17 39 28 39 46 58 73" stroke="#2fffc7"/>
<path d="M6026 3086l20-40 29-65 19-20 30 4 19-27 29-102 20-21 29 23 20-2 29-16 19-47 20-74 29 9 20 27 29-124 19-5 30-56 19 58 29-58 20-126 29-68 19 56 30 90 19-1 29-59 20-41 29-32 20-48 29 7 19-17 20 8 29-15 20-22 29-51 19-2 30-21 19 12 29-29 20-25 29-37 20-33 29-38 19-36 29-38 20-51 29-25 20-38 29-45 19-25 30-49 48-60 49-89 49-81 49-51 48-25 49 1 49 55 48 85 49 32 49-23 49 4 48 6 49 11 49 24 49 22 48 30 49 36 49 52 48 116 49 158 49 162 49 187 58 238 20 66 243 665 20 11 48 13 49 0 49 15 49-9 48 7 49 10 49 18 48 28 49 29 49 35 49 14 48 0 39-3 49-6 39 5 39 9 39 17 49 25 39 28 39 30 39 31 58 84" stroke="#2fffc7"/>
<path d="M6026 3069l20-96 29-22 19 6 30-13 19-22 29-88 20-35 29 16 20-5 29-49 19-9 20-67 29 0 20 32 29-126 19-24 30-24 19 47 29-60 20-122 29-63 19 42 30 100 19-8 29-47 20-45 29-34 20-37 29-5 19-3 20 8 29-25 20-43 29-24 19 1 30-15 19-4 29-16 20-23 29-45 20-22 29-44 19-28 29-55 20-39 29-33 20-34 29-66 19 1 30-47 48-76 49-87 49-89 49-59 48-17 49 18 49 47 48 100 49 10 49-7 49 4 48 16 49 5 49 43 49 18 48 35 49 35 49 66 48 106 49 159 49 156 49 179 58 249 20 65 243 642 20 9 48 14 49 16 49 9 49-3 48 2 49 8 49 20 48 23 49 27 49 37 49 3 48 18 39-18 49 13 39-5 39 9 39 12 49 29 39 35 39 20 39 32 58 92" stroke="#2cffcb"/>
<path d="M6026 3002l20-70 29-57 19 19 30-24 19 1 29-83 20-54 29 6 20 16 29 21 19-43 20-108 29 29 20 11 29-133 19 7 30-48 19 72 29-54 20-124 29-111 19 75 30 113 19 13 29-51 20-44 29-44 20-40 29 3 19 10 20 1 29-6 20-45 29-40 19-24 30 10 19 0 29-18 20-13 29-52 20-20 29-34 19-44 29-53 20-38 29-36 20-34 29-60 19-11 30-52 48-79 49-82 49-81 49-59 48-7 49 4 49 74 48 91 49 7 49 4 49 7 48 6 49 13 49 40 49 29 48 35 49 47 49 57 48 103 49 155 49 162 49 188 58 226 20 68 243 637 20-2 48 22 49 8 49 18 49-12 48 0 49 12 49 21 48 22 49 33 49 16 49 21 48 11 39-7 49 0 39 8 39 10 39 11 49 26 39 13 39 48 39 36 58 66" stroke="#29ffce"/>
<path d="M6026 2913l20-33 29-3 19 13 30-14 19-64 29-42 20-46 29-22 20 31 29 14 19-80 20-73 29 12 20 17 29-123 19 5 30-48 19 83 29-71 20-123 29-84 19 59 30 111 19-9 29-38 20-37 29-40 20-23 29-9 19 16 20-7 29-18 20-15 29-31 19-20 30 0 19-1 29-29 20-4 29-34 20-42 29-47 19-37 29-34 20-50 29-37 20-43 29-52 19-15 30-51 48-75 49-94 49-99 49-66 48-7 49 21 49 79 48 112 49 20 49-4 49 12 48 9 49 38 49 23 49 38 48 46 49 49 49 68 48 115 49 147 49 158 49 176 58 236 20 56 243 613 20 17 48 14 49 3 49 15 49-16 48 4 49 14 49 25 48 22 49 23 49 38 49 0 48 15 39-9 49 0 39 1 39 14 39 17 49 27 39 21 39 19 39 40 58 81" stroke="#21ffd5"/>
<path d="M6026 3019l20-78 29-59 19 25 30-20 19-77 29-41 20-50 29-5 20-8 29-4 19-43 20-71 29 9 20 35 29-141 19 8 30-46 19 50 29-51 20-131 29-67 19 44 30 118 19-8 29-39 20-32 29-45 20-49 29 19 19 5 20-7 29-16 20-30 29-20 19-4 30-17 19 14 29-21 20-19 29-22 20-42 29-42 19-42 29-49 20-34 29-62 20-11 29-71 19-20 30-49 48-95 49-96 49-109 49-64 48-10 49 10 49 95 48 141 49 21 49-12 49 27 48 20 49 35 49 34 49 52 48 76 49 39 49 66 48 137 49 119 49 175 49 168 58 231 20 50 243 602 20 3 48 19 49 15 49 2 49 5 48-3 49 8 49 17 48 28 49 10 49 37 49 10 48 18 39-2 49-19 39 15 39 14 39 17 49 16 39 21 39 23 39 42 58 71" stroke="#1bffdc"/>
<path d="M6026 2995l20-31 29-66 19 10 30-25 19-34 29-81 20-46 29-28 20 47 29-30 19-65 20-69 29 37 20-11 29-104 19-16 30-18 19 9 29-27 20-154 29-45 19 52 30 87 19-7 29-28 20-43 29-43 20-13 29-19 19 3 20 3 29-19 20-25 29-25 19-10 30 10 19-3 29-24 20-20 29-18 20-23 29-71 19-29 29-62 20-41 29-41 20-28 29-56 19-40 30-47 48-75 49-115 49-96 49-98 48-3 49 28 49 113 48 134 49 24 49 0 49 18 48 38 49 37 49 48 49 52 48 63 49 63 49 80 48 129 49 131 49 139 49 192 58 220 20 60 243 571 20 16 48 15 49 0 49 18 49-3 48-12 49 22 49 4 48 24 49 35 49 32 49 2 48 17 39-18 49 5 39 7 39-5 39 20 49 33 39 12 39 35 39 27 58 72" stroke="#15ffe2"/>
<path d="M6026 2923l20-57 29-6 19-27 30 30 19-112 29-24 20-83 29 21 20 11 29-35 19-5 20-119 29 38 20 23 29-116 19-44 30-33 19 64 29-43 20-160 29-65 19 62 30 105 19 35 29-65 20-47 29-38 20-17 29-12 19 19 20 3 29-14 20-40 29-25 19-6 30-14 19 14 29-16 20-4 29-45 20-44 29-43 19-33 29-56 20-51 29-48 20-28 29-44 19-56 30-44 48-90 49-110 49-104 49-60 48-8 49 43 49 115 48 156 49 40 49 13 49 13 48 38 49 39 49 63 49 44 48 79 49 46 49 105 48 118 49 127 49 144 49 164 58 218 20 67 243 557 20 10 48 15 49 14 49-6 49 10 48 5 49-8 49 26 48 17 49 32 49 22 49 1 48 10 39 16 49-20 39 9 39 8 39 16 49 26 39 13 39 22 39 55 58 55" stroke="#0cf5eb"/>
<path d="M6026 2992l20-108 29-47 19 61 30-33 19-62 29-75 20-70 29 18 20 33 29-20 19-68 20-101 29 7 20 8 29-108 19-9 30-69 19 77 29-58 20-135 29-92 19 50 30 123 19 21 29-66 20-16 29-48 20-37 29 16 19 8 20-2 29-45 20-24 29-18 19-14 30 3 19 0 29-9 20-35 29-24 20-43 29-29 19-54 29-58 20-61 29-15 20-58 29-64 19-14 30-62 48-84 49-112 49-103 49-42 48 0 49 74 49 117 48 161 49 35 49 32 49 12 48 58 49 34 49 69 49 57 48 64 49 66 49 95 48 118 49 120 49 144 49 173 58 211 20 64 243 524 20 19 48 3 49 16 49 16 49-10 48 7 49 12 49 8 48 33 49 16 49 12 49 18 48 6 39-4 49-11 39 1 39 20 39 23 49-3 39 36 39 24 39 33 58 95" stroke="#02e8f5"/>
<path d="M6026 2855l20-14 29-98 19-13 30 44 19-15 29-188 20-2 29-7 20-18 29 86 19-87 20-61 29-23 20 30 29-129 19-12 30-72 19 91 29-95 20-137 29-89 19 74 30 175 19-29 29-24 20-63 29-13 20-42 29-18 19 40 20 0 29-54 20-13 29-58 19-7 30 22 19 11 29-47 20 1 29-53 20-26 29-61 19-24 29-61 20-58 29-47 20-34 29-68 19-25 30-42 48-84 49-120 49-70 49-41 48 22 49 106 49 130 48 157 49 56 49 45 49 26 48 39 49 69 49 61 49 72 48 71 49 59 49 98 48 126 49 109 49 148 49 146 58 203 20 52 243 510 20 15 48 5 49 4 49 15 49 5 48 0 49 18 49 0 48 17 49 8 49 40 49 7 48 6 39 1 49-4 39 2 39-2 39 10 49 42 39 16 39 7 39 55 58 84" stroke="#00d4ff"/>
<path d="M6026 2866l20-27 29-131 19 49 30-11 19 13 29-102 20-81 29 13 20-10 29 20 19-86 20-101 29 66 20-11 29-132 19-12 30-79 19 103 29-89 20-208 29-56 19 66 30 197 19-23 29-24 20-48 29-64 20-20 29-1 19 30 20-23 29-7 20-36 29-55 19-11 30 9 19-1 29 10 20-26 29-65 20-46 29-24 19-45 29-49 20-64 29-42 20-42 29-57 19-37 30-41 48-93 49-84 49-119 49-19 48 51 49 136 49 132 48 133 49 84 49 42 49 51 48 35 49 76 49 70 49 57 48 74 49 83 49 66 48 136 49 116 49 118 49 161 58 186 20 54 243 517 20 4 48-6 49 15 49 13 49 5 48-2 49 18 49 6 48 24 49 11 49 21 49 15 48 9 39-13 49-9 39 11 39 3 39 6 49 18 39 30 39 23 39 32 58 98" stroke="#00c9ff"/>
<path d="M6026 2943l20-146 29-24 19 21 30 30 19-91 29-31 20-152 29 70 20-49 29 83 19-135 20-176 29 102 20 57 29-255 19 36 30-59 19 76 29-4 20-233 29-114 19 85 30 221 19-61 29-41 20-36 29-39 20-19 29-28 19 33 20-9 29-38 20-36 29-30 19-18 30-13 19 21 29-29 20 19 29-72 20-43 29-39 19-52 29-81 20-57 29-30 20-44 29-79 19 6 30-63 48-75 49-105 49-96 49-10 48 57 49 135 49 166 48 152 49 83 49 64 49 48 48 60 49 45 49 75 49 97 48 75 49 79 49 88 48 98 49 122 49 121 49 161 58 167 20 43 243 501 20 10 48 23 49-13 49 16 49 1 48 14 49 1 49 20 48 2 49 33 49 20 49-2 48 6 39-20 49 19 39 7 39-17 39 16 49 20 39 30 39 1 39 55 58 113" stroke="#00bbff"/>
<path d="M6026 2856l20-114 29-87 19 30 30 53 19-39 29-131 20-67 29 3 20 39 29 18 19-119 20-64 29-32 20 91 29-161 19-10 30-114 19 90 29-42 20-134 29-144 19 86 30 164 19-7 29-63 20-33 29-45 20-33 29 4 19 8 20-11 29-19 20-36 29-57 19 24 30-37 19 10 29-8 20-28 29-62 20-32 29-32 19-50 29-79 20-72 29-37 20-27 29-72 19-16 30-47 48-65 49-121 49-67 49-18 48 81 49 196 49 155 48 149 49 107 49 56 49 66 48 57 49 60 49 92 49 83 48 89 49 89 49 68 48 111 49 106 49 127 49 136 58 171 20 44 243 454 20 18 48 12 49 13 49-5 49 19 48-6 49 11 49 28 48-3 49 6 49 31 49 2 48 6 39 1 49-6 39 5 39 12 39 8 49 7 39 7 39 43 39 34 58 125" stroke="#00aaff"/>
<path d="M6026 2787l20-108 29-44 19-61 30 39 19-66 29-215 20 5 29-80 20-27 29 6 19-135 20-82 29-44 20 101 29-187 19-63 30-111 19 92 29-9 20-200 29-91 19 108 30 97 19 12 29-59 20-13 29-11 20-22 29-5 19 7 20 25 29-80 20 4 29-22 19-18 30 6 19 25 29 8 20-6 29-32 20-28 29-49 19-41 29-38 20-73 29-9 20-12 29-51 19-20 30 10 48-89 49-8 49-35 49 49 48 131 49 252 49 162 48 182 49 139 49 78 49 67 48 70 49 73 49 93 49 84 48 80 49 65 49 109 48 83 49 90 49 101 49 123 58 119 20 49 243 371 20 28 48 3 49-10 49 11 49-6 48-7 49 28 49-4 48 29 49-9 49 5 49 15 48-8 39-19 49 6 39 1 39 5 39 8 49 14 39 6 39 21 39 44 58 119" stroke="#0046ff"/>
<path d="M6026 2982l20-39 29-149 19 32 30-16 19-50 29-69 20-100 29-42 20-16 29 2 19-80 20-110 29 32 20-6 29-143 19-2 30-67 19 27 29-94 20-165 29-56 19 25 30 138 19 22 29-53 20-60 29-17 20-46 29 16 19 4 20-15 29-19 20-43 29-48 19 5 30-27 19 19 29-19 20-21 29-52 20-30 29-74 19-30 29-77 20-41 29-44 20-36 29-73 19-6 30-65 48-76 49-86 49-52 49 4 48 104 49 207 49 164 48 166 49 149 49 58 49 51 48 73 49 87 49 75 49 100 48 83 49 85 49 88 48 106 49 117 49 99 49 136 58 148 20 45 243 463 20-5 48 14 49-4 49 21 49-1 48-8 49 23 49 9 48 7 49 19 49 14 49-12 48 16 39-20 49 8 39 2 39 6 39 13 49 13 39 8 39 18 39 59 58 124" stroke="#0080ff"/>
<path d="M6026 2786l20-85 29-11 19-52 30-24 19 27 29-282 20-82 29 24 20-57 29 100 19-100 20-173 29 33 20-40 29-165 19-15 30-94 19 107 29-44 20-215 29-137 19 78 30 250 19-48 29-8 20-36 29-45 20-57 29 46 19-2 20 26 29-26 20-48 29-67 19 6 30 32 19 15 29 18 20-16 29-37 20-47 29-46 19-31 29-63 20-37 29-31 20-38 29-65 19 18 30-44 48-24 49-55 49-53 49 35 48 135 49 223 49 187 48 179 49 145 49 86 49 55 48 25 49 121 49 81 49 78 48 79 49 86 49 79 48 103 49 89 49 93 49 115 58 164 20 33 243 387 20-2 48 19 49-12 49 33 49-26 48 27 49 8 49 9 48 13 49 6 49 6 49 2 48 1 39-9 49 3 39 0 39 18 39-7 49 10 39 3 39 28 39 54 58 107" stroke="#0052ff"/>
<path d="M6026 2763l20-55 29-62 19-15 30-2 19-119 29-151 20-71 29-53 20 55 29-69 19-69 20-166 29 18 20 62 29-245 19-4 30-42 19 60 29-71 20-122 29-95 19 47 30 167 19-22 29-20 20-26 29-47 20-22 29 27 19 11 20-4 29 0 20-44 29-45 19-33 30 37 19 15 29 15 20-16 29-54 20-15 29-61 19-16 29-50 20-57 29-27 20-34 29-25 19-26 30 1 48-27 49-93 49-12 49 53 48 111 49 233 49 180 48 186 49 166 49 40 49 63 48 69 49 94 49 50 49 110 48 78 49 106 49 80 48 77 49 105 49 91 49 122 58 114 20 48 243 400 20-12 48 16 49-4 49-4 49 18 48 0 49 2 49 26 48 3 49 3 49 6 49 1 48 6 39-20 49 4 39 20 39 20 39-6 49 16 39-24 39 38 39 51 58 102" stroke="#004cff"/>
<path d="M6026 2908l20-70 29-44 19-104 30 40 19-141 29-215 20-109 29-67 20 42 29-46 19-180 20-122 29 15 20 137 29-300 19-106 30-20 19 153 29-150 20-168 29-201 19 133 30 243 19 22 29-118 20 37 29-43 20-78 29 60 19-11 20 29 29-27 20-34 29-63 19-10 30 62 19-3 29 14 20-12 29-28 20-40 29-32 19-35 29-35 20-47 29 7 20-5 29-72 19-5 30 9 48-32 49-50 49 15 49 35 48 147 49 234 49 235 48 171 49 152 49 79 49 98 48 29 49 110 49 65 49 98 48 76 49 84 49 74 48 105 49 72 49 104 49 107 58 117 20 37 243 342 20 18 48 28 49-18 49-5 49 24 48 13 49-6 49-1 48-6 49 22 49-3 49 22 48-40 39 20 49 6 39 24 39-6 39-16 49 6 39 3 39 26 39 19 58 144" stroke="#002fff"/>
<path d="M6026 2752l20-107 29 39 19 30 30-103 19 17 29-152 20-50 29-53 20 25 29-52 19-25 20-212 29 57 20 56 29-147 19-40 30-61 19 87 29-124 20-155 29-50 19 33 30 155 19-25 29-2 20-86 29 3 20-58 29 38 19-16 20 26 29-54 20-10 29-32 19-4 30 3 19-10 29-10 20-13 29-52 20-42 29-18 19-60 29-73 20-18 29-38 20-39 29-53 19-5 30-43 48-70 49-44 49-70 49 32 48 110 49 206 49 186 48 171 49 144 49 75 49 39 48 77 49 73 49 92 49 77 48 101 49 75 49 80 48 95 49 106 49 113 49 109 58 139 20 60 243 420 20-4 48 23 49-8 49 11 49-2 48 4 49 10 49 12 48 28 49-4 49 4 49 9 48 1 39-20 49 7 39 13 39 9 39-12 49 14 39 15 39 25 39 34 58 136" stroke="#0068ff"/>
<path d="M6026 2657l20-38 29 31 19-41 30-122 19-53 29-108 20-39 29-82 20-110 29 35 19-125 20-83 29 30 20 21 29-237 19-66 30-55 19 127 29-60 20-255 29-175 19 125 30 274 19-5 29-36 20-6 29-29 20-59 29-1 19 4 20 47 29-8 20-66 29-46 19-12 30 46 19 30 29 3 20-19 29-31 20-10 29-64 19-1 29-63 20-48 29-30 20 5 29-49 19 13 30-34 48-15 49-63 49-7 49 74 48 164 49 225 49 204 48 165 49 164 49 69 49 70 48 90 49 37 49 89 49 81 48 99 49 80 49 105 48 82 49 72 49 97 49 71 58 164 20 17 243 372 20-1 48 21 49-15 49 14 49 11 48-10 49 12 49 0 48 7 49 9 49 17 49 10 48-16 39 3 49-13 39 13 39 7 39-12 49 22 39 3 39 5 39 47 58 122" stroke="#0033ff"/>
<path d="M6026 3054l20-140 29-81 19 37 30-35 19-72 29-153 20-89 29-50 20 40 29-71 19-60 20-140 29 65 20-21 29-177 19 41 30-133 19 92 29-92 20-160 29-117 19 96 30 149 19-35 29-32 20-10 29-75 20-30 29-2 19 34 20-24 29-21 20-45 29-36 19-1 30 10 19 3 29-33 20 0 29-46 20-49 29-46 19-21 29-77 20-57 29-59 20-22 29-44 19-13 30-48 48-64 49-71 49-81 49 29 48 108 49 215 49 186 48 156 49 138 49 92 49 61 48 63 49 59 49 101 49 85 48 79 49 74 49 102 48 98 49 105 49 116 49 115 58 155 20 58 243 419 20 16 48 6 49 5 49 6 49-11 48 20 49 13 49 12 48 14 49 20 49 0 49-2 48-1 39-5 49-2 39 20 39-8 39-3 49 17 39 22 39 6 39 59 58 128" stroke="#0072ff"/>
<path d="M6026 2819l20-279 29 31 19 46 30-71 19-36 29-219 20-6 29-139 20-38 29-52 19-80 20-243 29 145 20-36 29-212 19-41 30-76 19 73 29-25 20-185 29-226 19 162 30 210 19-42 29 19 20-47 29-47 20 25 29-4 19-4 20-2 29 15 20-43 29-70 19 59 30 23 19 29 29 32 20 11 29-73 20-52 29-26 19-34 29 27 20-84 29-32 20 20 29-31 19-15 30-7 48-18 49-29 49 13 49 72 48 135 49 266 49 194 48 220 49 133 49 97 49 55 48 62 49 83 49 63 49 102 48 79 49 70 49 117 48 76 49 93 49 63 49 126 58 95 20 39 243 332 20 2 48 18 49-27 49 23 49 18 48-13 49 16 49-6 48 21 49-18 49 25 49 0 48 1 39-19 49 1 39 2 39 19 39 5 49 8 39-25 39 47 39 19 58 127" stroke="#001eff"/>
<path d="M6026 2909l20-166 29-140 19 32 30-31 19-170 29-116 20-118 29 15 20-2 29-92 19-6 20-193 29 24 20 21 29-215 19-6 30-102 19 169 29-115 20-161 29-172 19 87 30 221 19-6 29-36 20-51 29 19 20-38 29-31 19 46 20 32 29-11 20-76 29-25 19-28 30 33 19-10 29 51 20-38 29-5 20-36 29-49 19-20 29-82 20-21 29-9 20-60 29-4 19-3 30-24 48-43 49-15 49-31 49 63 48 138 49 207 49 211 48 196 49 132 49 88 49 79 48 55 49 64 49 84 49 77 48 88 49 98 49 84 48 75 49 104 49 114 49 93 58 105 20 58 243 363 20-5 48 5 49 26 49-3 49-11 48 22 49-5 49 4 48 3 49 22 49 16 49 7 48-18 39 3 49-20 39 17 39 22 39-9 49 5 39 12 39 12 39 58 58 114" stroke="#003aff"/>
<path d="M6026 2458l20 86 29-104 19 110 30 0 19-70 29-282 20-35 29 30 20-20 29-12 19-99 20-241 29 158 20-9 29-241 19-21 30 0 19 76 29-33 20-244 29-95 19 43 30 172 19 37 29 6 20-11 29-79 20-34 29 57 19-9 20 66 29-39 20-72 29-26 19-28 30 25 19 46 29-3 20-25 29-19 20-46 29-38 19 5 29-88 20-37 29-2 20-28 29-42 19 5 30-8 48-43 49-51 49-16 49 75 48 99 49 225 49 198 48 193 49 134 49 93 49 59 48 59 49 71 49 82 49 89 48 77 49 95 49 75 48 106 49 85 49 97 49 80 58 154 20 17 243 386 20 7 48-2 49 10 49-12 49 10 48-4 49 23 49-1 48 22 49-12 49 19 49 3 48 3 39-8 49-4 39 3 39 2 39 9 49-2 39 22 39 20 39 44 58 98" stroke="#003dff"/>
<path d="M6026 2749l20-32 29-172 19 134 30-157 19 115 29-328 20-107 29-155 20 168 29-118 19-109 20-90 29-42 20 70 29-202 19-13 30-132 19 149 29-44 20-282 29-57 19 11 30 204 19 16 29-4 20-55 29-12 20-49 29 10 19-38 20 113 29-59 20-66 29-55 19 1 30 78 19-9 29 72 20-53 29-48 20-28 29 2 19-36 29-20 20-66 29-3 20-42 29-24 19-13 30-6 48-50 49 16 49-36 49 68 48 164 49 246 49 178 48 207 49 164 49 75 49 73 48 50 49 88 49 57 49 84 48 109 49 77 49 74 48 115 49 84 49 77 49 98 58 119 20 62 243 334 20 0 48 14 49-18 49 30 49 7 48-4 49 0 49 21 48-10 49 4 49-4 49 9 48 10 39 0 49 11 39-7 39-10 39 2 49 16 39 13 39-5 39 49 58 139" stroke="#0029ff"/>
<path d="M6026 2791l20-7 29-43 19-9 30 13 19-228 29 19 20-109 29-96 20 20 29-44 19-103 20-118 29 39 20 44 29-210 19-50 30-69 19 118 29-25 20-229 29-116 19 84 30 204 19-49 29-36 20-57 29 10 20-38 29 0 19 22 20 23 29-57 20-3 29-76 19 21 30-14 19 42 29-10 20-30 29-27 20-55 29-38 19-63 29-16 20-58 29-45 20-21 29-59 19 3 30-47 48-56 49-49 49-44 49 28 48 123 49 242 49 194 48 171 49 124 49 98 49 46 48 57 49 75 49 85 49 84 48 94 49 80 49 82 48 99 49 88 49 107 49 119 58 144 20 21 243 428 20-12 48 46 49-32 49 20 49 1 48-9 49 32 49 0 48 5 49 18 49 1 49-4 48 14 39-4 49-9 39-5 39 13 39 23 49 0 39 26 39 9 39 46 58 124" stroke="#005cff"/>
<path d="M6026 2872l20-55 29-122 19-31 30 12 19-9 29-97 20-147 29-36 20-13 29 27 19-183 20-65 29 3 20 81 29-217 19-37 30-96 19 124 29 1 20-322 29-131 19 104 30 229 19 2 29-46 20-61 29 2 20-61 29 7 19 33 20-18 29 2 20-48 29-70 19 8 30-2 19 55 29-12 20-36 29-50 20-18 29-77 19 1 29-90 20-36 29-33 20-52 29-41 19 2 30-46 48-55 49-67 49-38 49 14 48 121 49 204 49 206 48 166 49 141 49 90 49 42 48 69 49 71 49 94 49 100 48 75 49 69 49 97 48 99 49 103 49 108 49 128 58 126 20 39 243 428 20 2 48-5 49 23 49 4 49 0 48 3 49-2 49 18 48 3 49 20 49 1 49 2 48 3 39-1 49-16 39 19 39 3 39 5 49 11 39 28 39 2 39 40 58 120" stroke="#0062ff"/>
<path d="M6026 2862l20 9 29-61 19-84 30 81 19-104 29-141 20-36 29-22 20-23 29 35 19-104 20-140 29 53 20-41 29-124 19-24 30-63 19 60 29-60 20-186 29-115 19 69 30 196 19-60 29-4 20-54 29-35 20-32 29 6 19-5 20-3 29-11 20-47 29-58 19-9 30 14 19 5 29-20 20-11 29-52 20-33 29-53 19-20 29-70 20-76 29-45 20-30 29-58 19-12 30-52 48-64 49-70 49-72 49 22 48 92 49 201 49 179 48 185 49 121 49 84 49 72 48 36 49 85 49 101 49 71 48 80 49 95 49 95 48 93 49 98 49 126 49 115 58 152 20 46 243 441 20-1 48 23 49 8 49-7 49 10 48 7 49 8 49 12 48 16 49 1 49 21 49-8 48 16 39 2 49-22 39 13 39-15 39 25 49 7 39 9 39 39 39 39 58 120" stroke="#0078ff"/>
<path d="M6026 2910l20-134 29 34 19-117 30 74 19-239 29-151 20-107 29-223 20 140 29 46 19-210 20-195 29-5 20 157 29-422 19 80 30-112 19 208 29-104 20-368 29-101 19 167 30 264 19-32 29-51 20-18 29-42 20-104 29 96 19 33 20 53 29-85 20-31 29-114 19 26 30 61 19 63 29 9 20-4 29-46 20-30 29-30 19-36 29-38 20-47 29-23 20-18 29-22 19-25 30 12 48-43 49-3 49-15 49 69 48 184 49 249 49 190 48 181 49 175 49 74 49 64 48 68 49 79 49 95 49 61 48 94 49 99 49 91 48 61 49 92 49 119 49 51 58 154 20 18 243 347 20 16 48-16 49 11 49-15 49 22 48 6 49-20 49 37 48-9 49 25 49-11 49 4 48 7 39 0 49-21 39 18 39 6 39-6 49 6 39 12 39 23 39 43 58 108" stroke="#0024ff"/>
<path d="M6026 3125l20 51 29-577 19-59 30 120 19-68 29-365 20-22 29-192 20-33 29-12 19-153 20-213 29 49 20 106 29-534 19 14 30-61 19 265 29-107 20-328 29-249 19 167 30 383 19-10 29 59 20-142 29 16 20-32 29-88 19 140 20 25 29-37 20-61 29-142 19 113 30 21 19 85 29-14 20 13 29-14 20-3 29-71 19-20 29-19 20-33 29 3 20 23 29-61 19 35 30 13 48 8 49 27 49 11 49 104 48 184 49 243 49 253 48 181 49 167 49 118 49 42 48 98 49 73 49 75 49 76 48 89 49 70 49 106 48 71 49 86 49 97 49 73 58 91 20 4 243 324 20-15 48 4 49 6 49-10 49 3 48 11 49 19 49-23 48 27 49 2 49 2 49-8 48 2 39 1 49-42 39 6 39 63 39-25 49 5 39 32 39-30 39 56 58 124" stroke="#0000f5"/>
<path d="M6026 3079l20-514 29 172 19 73 30-48 19-267 29-146 20-212 29 84 20-109 29-72 19-190 20-372 29 118 20 258 29-452 19-62 30-157 19 244 29-117 20-266 29-179 19 44 30 441 19 22 29-82 20-77 29 0 20-41 29-33 19 118 20-6 29-38 20-59 29-145 19 116 30-16 19 142 29 13 20-10 29-49 20-28 29 1 19-17 29-57 20-58 29 61 20-39 29-28 19 42 30 27 48-20 49 26 49 48 49 43 48 217 49 261 49 219 48 223 49 165 49 91 49 92 48 80 49 56 49 96 49 62 48 84 49 97 49 113 48 30 49 106 49 72 49 73 58 100 20 37 243 289 20-8 48 8 49-6 49-1 49 5 48 26 49-18 49 24 48-5 49-40 49 39 49-16 48 3 39 7 49-2 39 11 39-12 39 11 49-17 39 24 39 10 39 53 58 111" stroke="#0000f5"/>
<path d="M6026 2852l20-286 29-71 19-40 30 59 19 20 29-285 20-85 29-56 20 45 29-54 19-172 20-238 29-51 20 183 29-319 19-10 30-98 19 214 29-96 20-295 29-194 19 149 30 353 19-46 29-36 20-35 29-26 20-37 29 8 19 55 20 44 29-47 20-91 29-18 19-18 30 79 19-34 29 79 20 9 29-30 20-12 29-46 19-65 29-6 20-40 29 0 20-13 29-29 19 6 30-15 48 0 49 7 49-35 49 110 48 150 49 229 49 215 48 195 49 152 49 103 49 86 48 39 49 66 49 113 49 81 48 71 49 71 49 101 48 81 49 78 49 106 49 92 58 94 20 31 243 342 20-22 48 23 49-17 49 20 49-17 48 5 49 26 49 22 48-12 49 12 49 0 49-4 48-4 39-3 49-28 39 26 39 25 39-36 49 33 39-6 39-6 39 62 58 102" stroke="#000aff"/>
<path d="M6026 2535l20-77 29 51 19 8 30-56 19 72 29-275 20-184 29-40 20-4 29-140 19-93 20-199 29 66 20 41 29-208 19-70 30-3 19 99 29-124 20-224 29-89 19 124 30 153 19 28 29-35 20-9 29-90 20-12 29 79 19 38 20-8 29-38 20-57 29-13 19 37 30 13 19 33 29 54 20-26 29-21 20-15 29-46 19-33 29-29 20-7 29-5 20-30 29-14 19 17 30-44 48 40 49-13 49 17 49 78 48 168 49 257 49 213 48 195 49 191 49 65 49 54 48 98 49 58 49 98 49 74 48 72 49 64 49 104 48 82 49 88 49 78 49 76 58 113 20 26 243 292 20 50 48-16 49-8 49 11 49 11 48-24 49 10 49 15 48 28 49-2 49-15 49-8 48 20 39 5 49-19 39 2 39-13 39 18 49 17 39-9 39 18 39 24 58 111" stroke="#0000ff"/>
<path d="M6026 2825l20-76 29-183 19-2 30 67 19-273 29 3 20-297 29 67 20-65 29 44 19-214 20-256 29 100 20 85 29-365 19-50 30-146 19 207 29 38 20-411 29-146 19 134 30 333 19-35 29-17 20-43 29-66 20-2 29 37 19 22 20 85 29-43 20-123 29-33 19 52 30 15 19 42 29 62 20 10 29-57 20-45 29-8 19-15 29-56 20-51 29 46 20-17 29-57 19 34 30-18 48-29 49 10 49 39 49 94 48 145 49 253 49 237 48 197 49 166 49 103 49 44 48 41 49 111 49 66 49 99 48 85 49 74 49 74 48 97 49 66 49 92 49 92 58 111 20 29 243 301 20 19 48-14 49 5 49 3 49 0 48 4 49-14 49 39 48-34 49 22 49 20 49-7 48 9 39-35 49 26 39-7 39 9 39-4 49 21 39-21 39 42 39 32 58 104" stroke="#0000ff"/>
<path d="M6026 2653l20 68 29-280 19-16 30-124 19 14 29-204 20-249 29-42 20 95 29-26 19-197 20-143 29 3 20 111 29-307 19-81 30-132 19 208 29-33 20-335 29-122 19 194 30 309 19-51 29 8 20-125 29 5 20 8 29-18 19 81 20 8 29 13 20-88 29-42 19 17 30 49 19 36 29 67 20 0 29-5 20-47 29-33 19 16 29-40 20-36 29-6 20-17 29-27 19 42 30 13 48-11 49 12 49 29 49 70 48 216 49 205 49 245 48 203 49 173 49 60 49 89 48 61 49 83 49 67 49 100 48 90 49 69 49 63 48 96 49 72 49 93 49 54 58 122 20 8 243 288 20 24 48-5 49-7 49 11 49-12 48-14 49 42 49-19 48 24 49 8 49 14 49-3 48-9 39-21 49 8 39-17 39 19 39-16 49 4 39 41 39 14 39 20 58 94" stroke="#0000f8"/>
<path d="M6026 2809l20-73 29-309 19 264 30-43 19-262 29-185 20-84 29-47 20 76 29-85 19-205 20-300 29 71 20 41 29-285 19 30 30-131 19 155 29-28 20-376 29-68 19 108 30 345 19-55 29 4 20-39 29-59 20 26 29-18 19 23 20 70 29-64 20-48 29-81 19 6 30 65 19 51 29 49 20-45 29-7 20-17 29-61 19 14 29-72 20-30 29 30 20-1 29-35 19 28 30-10 48-8 49-3 49 45 49 48 48 175 49 265 49 236 48 202 49 141 49 103 49 70 48 96 49 63 49 76 49 95 48 37 49 117 49 73 48 87 49 92 49 74 49 94 58 125 20-16 243 314 20 15 48 15 49 2 49-30 49 22 48-11 49 8 49-7 48 33 49 32 49-54 49 15 48-1 39-3 49-22 39 15 39 8 39-27 49 50 39-5 39 17 39 36 58 102" stroke="#0000ff"/>
<path d="M6026 2868l20-159 29-90 19-79 30 271 19-185 29-182 20-381 29-26 20 92 29-106 19-19 20-292 29-67 20 84 29-341 19 101 30-172 19 215 29-88 20-257 29-162 19 90 30 299 19-27 29-8 20-55 29 13 20-80 29 29 19 48 20 30 29-13 20-46 29-52 19 6 30 14 19 49 29 57 20-10 29-75 20-37 29-9 19-45 29 22 20-66 29 23 20-61 29-4 19 20 30-5 48 2 49 0 49-6 49 90 48 193 49 231 49 235 48 187 49 174 49 101 49 45 48 54 49 67 49 94 49 99 48 62 49 94 49 78 48 113 49 52 49 91 49 79 58 121 20 46 243 305 20 0 48 9 49-18 49 16 49 14 48-10 49 9 49 11 48-18 49 24 49 17 49-24 48-15 39 34 49-24 39-5 39 30 39-10 49 8 39 9 39 16 39 45 58 99" stroke="#0000ff"/>
<path d="M6026 2308l20 187 29-286 19 148 30-19 19-154 29-238 20-66 29-12 20-35 29 37 19-344 20-30 29-74 20 95 29-311 19 41 30-132 19 220 29-64 20-321 29-178 19 165 30 291 19-26 29 29 20-89 29 11 20-7 29 2 19 34 20 75 29 13 20-133 29-64 19 78 30 49 19 39 29 99 20-67 29-21 20-32 29-30 19 41 29-62 20-70 29 111 20-40 29-52 19 61 30 27 48-23 49 16 49 22 49 139 48 204 49 209 49 233 48 243 49 150 49 87 49 43 48 92 49 73 49 98 49 38 48 91 49 91 49 75 48 100 49 38 49 91 49 45 58 104 20 80 243 227 20 21 48-5 49 1 49 11 49-3 48 2 49 8 49-19 48 6 49-34 49 42 49 10 48-27 39 22 49 1 39 3 39-32 39 21 49 17 39 0 39 12 39 35 58 111" stroke="#0000e5"/>
<path d="M6026 2894l20-19 29-226 19-21 30 66 19 100 29-277 20-197 29-87 20-89 29-144 19-62 20-150 29-62 20 102 29-297 19-6 30-4 19 27 29-108 20-158 29-174 19 102 30 245 19-14 29-64 20 7 29-25 20-65 29 14 19 15 20 71 29-12 20-104 29 8 19-15 30 40 19-8 29 48 20 22 29-51 20-55 29 29 19-32 29-76 20-28 29 16 20-25 29-40 19 34 30-18 48-24 49-6 49 3 49 78 48 179 49 252 49 231 48 201 49 144 49 84 49 70 48 64 49 85 49 87 49 58 48 80 49 99 49 97 48 63 49 106 49 60 49 100 58 150 20 5 243 357 20-12 48 3 49-10 49 27 49-29 48 19 49-2 49 7 48 5 49 13 49 7 49-6 48 2 39-42 49 24 39 22 39-5 39-2 49 13 39 12 39 17 39 25 58 131" stroke="#0007ff"/>
<path d="M6026 2780l20-93 29-293 19 89 30 93 19-207 29-242 20-25 29-47 20 53 29-63 19-150 20-272 29 153 20 79 29-338 19-59 30-2 19 112 29-58 20-265 29-196 19 86 30 359 19-68 29-12 20-70 29-2 20-13 29-18 19 52 20 60 29-9 20-88 29-79 19 3 30 84 19 36 29 46 20-28 29-41 20-20 29-36 19-5 29-35 20-68 29 35 20-38 29-58 19 49 30-8 48 4 49-10 49-1 49 70 48 157 49 253 49 224 48 189 49 187 49 67 49 70 48 65 49 72 49 85 49 72 48 81 49 82 49 99 48 101 49 81 49 52 49 127 58 94 20 18 243 333 20 7 48 4 49 14 49-39 49 31 48-17 49 60 49-34 48-7 49 35 49-7 49-19 48 32 39-19 49-24 39 23 39-7 39 4 49-6 39 21 39 6 39 53 58 90" stroke="#0004ff"/>
<path d="M6026 2761l20-121 29-18 19 22 30 156 19-331 29-163 20-123 29-134 20 65 29-9 19-43 20-330 29 69 20 1 29-239 19 9 30-144 19 128 29 14 20-371 29-112 19 190 30 221 19-68 29 27 20-11 29-48 20-17 29-68 19 98 20 92 29-107 20-54 29-33 19 6 30 46 19 7 29 59 20 1 29-65 20-8 29-23 19-39 29-51 20-40 29 10 20-41 29-44 19 66 30-17 48-29 49-18 49-4 49 108 48 116 49 260 49 216 48 200 49 145 49 101 49 41 48 88 49 69 49 88 49 73 48 80 49 80 49 86 48 102 49 88 49 92 49 76 58 110 20 52 243 329 20-22 48 26 49 3 49 8 49-2 48 3 49 7 49-4 48-7 49 26 49 6 49 16 48-18 39-8 49-3 39-1 39-10 39 36 49-16 39 28 39-17 39 49 58 143" stroke="#000fff"/>
<path d="M6026 2746l20-60 29-108 19-104 30 152 19-146 29-240 20-89 29-99 20 169 29-189 19-26 20-269 29 48 20 17 29-263 19-10 30-145 19 146 29 15 20-285 29-158 19 146 30 287 19-41 29-60 20-15 29-16 20-51 29 39 19-42 20 53 29 1 20-22 29-87 19 22 30 54 19 64 29-15 20-2 29-31 20-25 29-57 19-2 29-13 20-70 29-27 20-19 29-7 19 5 30-20 48 2 49-15 49-15 49 81 48 180 49 223 49 202 48 249 49 130 49 84 49 55 48 58 49 112 49 64 49 97 48 69 49 104 49 67 48 65 49 113 49 65 49 94 58 122 20 34 243 357 20-32 48 18 49-3 49 2 49 6 48 8 49-29 49 22 48 8 49-4 49-6 49 30 48-7 39 8 49-21 39 17 39 16 39 0 49-1 39 12 39-1 39 50 58 114" stroke="#000eff"/>
<path d="M6026 3050l20-49 29-188 19 163 30-202 19-198 29-134 20-124 29-89 20-66 29 77 19-109 20-239 29 1 20 3 29-318 19 39 30-98 19 100 29-94 20-209 29-207 19 145 30 272 19-31 29-10 20-26 29-37 20-52 29-10 19 33 20 9 29 4 20-75 29-30 19 1 30 7 19 59 29-27 20 20 29-11 20-32 29-7 19-85 29-31 20-94 29 24 20 16 29-21 19 28 30-34 48 1 49-55 49 21 49 55 48 195 49 241 49 192 48 234 49 141 49 106 49 43 48 111 49 32 49 96 49 74 48 74 49 93 49 95 48 69 49 96 49 84 49 106 58 124 20 30 243 348 20-8 48 17 49-22 49 21 49 9 48 4 49-12 49 3 48 21 49 17 49-9 49-15 48 3 39 14 49-24 39 13 39 25 39-3 49-6 39 9 39 16 39 63 58 103" stroke="#0012ff"/>
<path d="M6026 2868l20-353 29-191 19 228 30-300 19 156 29-303 20-102 29-66 20 198 29-310 19 42 20-491 29 207 20 27 29-512 19 178 30-154 19 286 29-133 20-350 29-224 19 326 30 227 19-45 29-33 20 13 29-46 20-91 29 85 19-2 20 137 29-48 20-87 29-34 19-23 30 123 19 16 29 79 20-11 29-52 20-40 29 20 19-2 29-68 20-11 29-9 20-21 29-18 19 78 30-48 48 50 49-20 49 55 49 100 48 175 49 275 49 215 48 221 49 211 49 59 49 80 48 72 49 44 49 98 49 66 48 104 49 74 49 93 48 67 49 95 49 57 49 84 58 92 20 20 243 281 20-31 48 33 49-6 49-17 49 7 48-7 49 21 49-2 48 9 49 19 49 12 49-45 48 13 39 13 49-2 39 15 39-21 39 25 49-20 39-15 39 55 39 2 58 133" stroke="#0000e7"/>
<path d="M6026 2842l20-52 29-229 19-96 30 167 19-263 29-68 20-193 29-54 20 45 29-112 19-116 20-280 29 114 20 28 29-381 19-8 30-105 19 170 29-100 20-234 29-164 19 173 30 200 19 30 29-6 20-76 29-45 20-7 29-31 19 72 20 31 29-19 20-13 29-90 19 17 30 14 19 103 29 7 20 16 29-42 20 12 29-65 19-11 29-30 20-89 29 63 20-17 29-20 19 4 30-19 48 42 49 7 49 50 49 99 48 172 49 240 49 218 48 241 49 168 49 70 49 77 48 107 49 72 49 81 49 59 48 78 49 95 49 64 48 93 49 69 49 89 49 63 58 117 20 20 243 297 20 0 48 24 49-4 49 14 49-32 48 19 49 10 49-27 48 0 49 20 49 0 49-4 48 9 39 10 49-23 39 4 39-1 39-1 49-15 39 31 39 30 39 25 58 113" stroke="#0000f8"/>
<path d="M6026 3094l20-103 29-110 19 4 30-226 19 70 29-236 20-303 29-153 20 195 29-82 19-177 20-352 29 18 20-2 29-250 19-19 30-106 19 123 29-9 20-303 29-203 19 120 30 287 19 16 29-116 20-55 29 83 20-76 29 61 19 22 20 55 29-64 20-80 29-61 19 58 30 82 19 44 29-50 20 36 29-34 20-64 29 33 19-48 29-4 20-64 29 56 20-36 29-41 19 27 30 32 48-36 49 11 49 41 49 102 48 181 49 248 49 244 48 231 49 149 49 141 49 33 48 76 49 95 49 89 49 75 48 95 49 80 49 64 48 119 49 48 49 68 49 103 58 64 20 47 243 305 20 20 48-37 49 36 49-17 49 18 48-21 49 14 49 21 48-6 49 15 49-13 49 24 48-5 39-23 49 11 39-18 39-21 39 47 49-26 39 16 39 40 39-10 58 157" stroke="#0000f5"/>
<path d="M6026 3038l20-194 29-35 19-208 30 111 19-305 29-306 20-19 29-155 20 18 29 47 19-172 20-398 29 113 20 132 29-381 19-49 30-178 19 295 29-30 20-405 29-219 19 199 30 387 19 9 29-39 20-101 29-20 20-21 29-42 19 135 20 11 29-27 20-58 29-110 19 15 30 116 19 50 29-23 20 96 29-48 20-56 29-5 19 3 29-30 20-58 29 27 20-10 29-70 19 68 30 18 48-6 49 40 49 18 49 113 48 197 49 247 49 208 48 236 49 158 49 135 49 31 48 89 49 74 49 80 49 94 48 79 49 61 49 83 48 88 49 78 49 122 49 43 58 107 20-1 243 297 20 13 48-30 49 2 49 10 49 32 48-57 49 32 49-13 48 21 49 0 49 5 49-5 48 6 39-22 49 8 39 7 39 22 39-7 49-26 39 2 39 42 39 51 58 73" stroke="#0000e8"/>
<path d="M6026 2874l20-569 29-22 19 118 30-114 19 12 29-299 20-86 29-106 20 126 29-48 19-311 20-130 29 76 20 96 29-319 19-55 30-30 19 150 29-62 20-215 29-235 19 82 30 360 19-23 29-34 20-14 29 23 20-82 29 45 19 53 20-28 29 8 20-33 29-58 19-36 30 87 19 110 29-27 20 30 29-21 20-66 29-8 19 18 29-40 20-55 29 31 20-14 29-10 19-6 30 2 48 61 49-26 49 46 49 121 48 161 49 234 49 250 48 192 49 168 49 93 49 60 48 72 49 64 49 105 49 76 48 93 49 75 49 79 48 57 49 109 49 54 49 84 58 101 20 18 243 274 20 24 48-24 49 27 49 4 49-4 48-15 49 9 49 11 48 23 49-6 49-20 49-3 48 29 39-46 49 31 39-17 39-9 39 24 49 1 39 19 39 9 39 5 58 124" stroke="#0000ee"/>
<path d="M6026 2961l20-191 29-59 19-33 30-172 19 37 29-129 20-307 29-90 20 20 29-219 19-93 20-322 29 202 20-21 29-325 19-4 30-83 19 187 29 16 20-476 29-263 19 208 30 495 19-115 29 10 20-60 29-31 20-84 29 49 19 104 20-12 29-23 20-123 29 32 19-15 30 99 19 32 29 81 20-23 29-47 20-22 29-12 19-32 29-13 20-39 29 7 20-9 29-40 19 77 30-20 48 33 49-1 49 5 49 135 48 193 49 246 49 206 48 249 49 165 49 75 49 96 48 54 49 81 49 88 49 88 48 50 49 101 49 69 48 120 49 71 49 91 49 31 58 139 20 5 243 293 20-24 48 7 49 25 49-5 49-9 48 23 49-5 49-13 48 23 49-17 49-4 49-20 48 22 39-11 49-7 39-5 39 48 39-20 49 10 39-28 39 28 39 59 58 111" stroke="#0000e9"/>
<path d="M6026 2731l20-35 29-246 19 82 30 144 19-225 29-284 20 116 29-242 20 38 29 44 19-189 20-134 29 41 20-47 29-240 19 61 30-141 19 133 29-21 20-328 29-73 19 66 30 227 19 31 29-58 20-34 29-28 20-6 29-16 19 39 20 1 29-16 20 3 29-69 19-9 30 35 19 64 29 0 20-8 29-22 20-50 29 4 19-48 29-14 20-65 29 18 20-24 29-57 19 43 30-27 48-12 49-18 49-8 49 59 48 170 49 245 49 219 48 189 49 167 49 81 49 77 48 67 49 55 49 90 49 84 48 103 49 78 49 80 48 82 49 93 49 74 49 103 58 110 20 13 243 367 20-8 48 5 49 2 49 7 49-2 48 8 49-14 49 29 48-21 49 41 49-35 49 29 48-23 39 5 49 1 39 18 39-13 39 15 49 1 39 8 39 16 39 51 58 92" stroke="#000fff"/>
<path d="M6026 2983l20-234 29 115 19-142 30-32 19-29 29-317 20-9 29-103 20 1 29-142 19-135 20-219 29 81 20 47 29-335 19 61 30-147 19 92 29-47 20-126 29-155 19 72 30 147 19 33 29-68 20-22 29-19 20-21 29 31 19-25 20 45 29-58 20 10 29-31 19-57 30 92 19 3 29 21 20-7 29-24 20-15 29-28 19-48 29-20 20-83 29 22 20-34 29-4 19-8 30 12 48-17 49-55 49 54 49 69 48 155 49 264 49 214 48 200 49 166 49 99 49 47 48 65 49 105 49 67 49 83 48 81 49 89 49 97 48 67 49 105 49 85 49 78 58 116 20 53 243 315 20 3 48 7 49 4 49-5 49 0 48-12 49 29 49-28 48 28 49 9 49 1 49-2 48 34 39-50 49 7 39 21 39-3 39-7 49 19 39-10 39 16 39 62 58 105" stroke="#000aff"/>
<path d="M6026 2964l20-240 29-126 19 6 30 207 19-404 29-116 20-56 29-266 20 107 29-90 19-101 20-61 29-172 20 149 29-359 19 31 30-65 19 213 29-160 20-218 29-173 19 135 30 164 19 26 29-25 20-112 29 18 20 15 29-10 19 85 20-3 29-42 20-35 29-44 19-25 30 75 19 39 29 12 20 0 29-54 20-19 29 9 19-74 29-27 20-17 29 13 20-27 29-23 19-1 30 4 48 21 49-35 49 25 49 48 48 192 49 262 49 195 48 201 49 167 49 125 49 66 48 65 49 67 49 86 49 81 48 87 49 93 49 99 48 51 49 111 49 63 49 88 58 76 20 74 243 301 20 5 48 24 49-21 49 15 49-6 48-29 49 17 49 16 48-6 49 29 49-20 49 9 48-9 39 27 49-14 39-17 39 39 39 12 49-26 39 1 39 47 39 33 58 106" stroke="#0000ff"/>
<path d="M6026 2327l20 199 29-199 19-220 30 241 19-230 29-86 20-161 29 60 20-18 29-44 19-101 20-198 29-30 20 130 29-331 19 72 30-102 19 140 29-59 20-274 29-104 19 120 30 282 19 22 29-54 20-83 29 19 20-33 29-1 19 97 20-7 29-4 20-91 29 8 19-9 30 60 19 37 29 26 20-47 29 17 20-31 29 1 19-20 29-39 20-35 29-24 20 11 29-37 19 17 30 9 48-6 49-11 49-9 49 97 48 192 49 222 49 243 48 180 49 134 49 110 49 85 48 45 49 60 49 106 49 75 48 63 49 101 49 77 48 86 49 55 49 87 49 83 58 109 20 26 243 285 20 42 48 0 49 0 49 15 49-1 48-13 49-3 49 3 48 4 49 15 49-12 49 16 48 2 39-8 49-22 39 34 39 12 39-28 49 32 39 9 39-9 39 50 58 114" stroke="#0000ff"/>
<path d="M6026 2748l20-121 29 32 19-79 30 1 19-27 29-361 20 11 29-27 20-28 29-14 19-140 20-245 29 93 20-29 29-231 19-120 30-91 19 250 29-88 20-297 29-187 19 81 30 353 19 1 29-89 20 6 29-27 20-97 29 61 19 32 20 39 29-33 20-67 29-67 19-13 30 127 19 65 29-22 20 20 29-64 20-13 29-50 19-40 29-8 20-47 29-20 20 12 29-54 19 23 30 8 48-14 49-33 49 17 49 76 48 175 49 249 49 185 48 212 49 175 49 83 49 65 48 90 49 19 49 110 49 76 48 97 49 66 49 95 48 94 49 75 49 87 49 75 58 141 20 5 243 335 20 2 48 1 49 17 49-19 49 2 48 0 49 1 49 14 48 17 49-4 49 3 49-19 48 48 39-17 49 2 39 1 39-14 39 15 49 6 39 0 39 9 39 53 58 107" stroke="#0009ff"/>
<path d="M6026 2638l20-158 29 9 19 30 30-106 19-34 29-57 20-282 29 69 20-110 29 14 19-149 20-213 29 130 20-34 29-220 19-11 30-101 19 183 29-95 20-253 29-105 19 51 30 278 19 22 29-67 20-42 29 33 20-72 29 37 19 20 20 31 29-40 20-46 29 1 19-38 30 39 19 32 29 6 20 15 29-46 20-22 29-4 19-18 29-67 20-35 29 39 20-24 29-73 19 32 30 20 48-53 49 3 49 12 49 63 48 131 49 292 49 201 48 216 49 140 49 102 49 60 48 57 49 74 49 81 49 81 48 53 49 115 49 63 48 95 49 111 49 59 49 92 58 111 20 34 243 325 20 10 48-11 49 14 49-9 49 4 48 19 49 8 49-4 48 14 49-10 49-8 49 21 48-2 39-11 49-16 39 25 39 8 39 15 49-17 39 7 39 3 39 51 58 117" stroke="#000aff"/>
<path d="M6026 2922l20-209 29-238 19 188 30-28 19-134 29-328 20 79 29-388 20 117 29 2 19-114 20-417 29-56 20 267 29-338 19-159 30-106 19 290 29-11 20-496 29-219 19 423 30 183 19-53 29 44 20-10 29-116 20-120 29 110 19-8 20 110 29-21 20-61 29-151 19 115 30 66 19 58 29 15 20 14 29 12 20-46 29-94 19 30 29-19 20-43 29 14 20 23 29-82 19 49 30 29 48 21 49-4 49 80 49 94 48 162 49 296 49 239 48 219 49 172 49 92 49 65 48 72 49 81 49 73 49 97 48 63 49 67 49 101 48 78 49 110 49 63 49 69 58 105 20 32 243 244 20-28 48 33 49 7 49-21 49 39 48-25 49-18 49 14 48 2 49 19 49-3 49-27 48 9 39 30 49 5 39-14 39-15 39 26 49-10 39 6 39 5 39 66 58 81" stroke="#0000f4"/>
<path d="M6026 2868l20-278 29-191 19 87 30 121 19-254 29-292 20 133 29-299 20 69 29-109 19-64 20-276 29-38 20 84 29-337 19-1 30-199 19 181 29 36 20-376 29-133 19 96 30 271 19 22 29-3 20-6 29-103 20-48 29 170 19-44 20 59 29 8 20-164 29-18 19-26 30 166 19 44 29 64 20-38 29 28 20-67 29-52 19 5 29-29 20-19 29 8 20 21 29 2 19-5 30 25 48 46 49 39 49 4 49 116 48 184 49 312 49 214 48 274 49 132 49 85 49 65 48 96 49 53 49 74 49 101 48 86 49 65 49 56 48 73 49 81 49 100 49 63 58 87 20 5 243 330 20-13 48-27 49 1 49-30 49 29 48 6 49-25 49 38 48-4 49 8 49 35 49-67 48 40 39-46 49 30 39 6 39-32 39 22 49 5 39 1 39 0 39 42 58 86" stroke="#0000e8"/>
<path d="M6026 2929l20 35 29-304 19-26 30 189 19-267 29-311 20-79 29-143 20 10 29 11 19-129 20-422 29 160 20 57 29-414 19-14 30-32 19 148 29-68 20-395 29-240 19 236 30 422 19-54 29 66 20-122 29-33 20-54 29 45 19 72 20 7 29-61 20-75 29-102 19 41 30 65 19 62 29 86 20 11 29-42 20-48 29-45 19-12 29-19 20-39 29 21 20-11 29-54 19 107 30-64 48 26 49-19 49 72 49 65 48 230 49 217 49 206 48 225 49 131 49 119 49 112 48 27 49 81 49 96 49 79 48 84 49 101 49 63 48 84 49 81 49 87 49 67 58 88 20 33 243 307 20 30 48-48 49 11 49 19 49-5 48-10 49 15 49-21 48 44 49-20 49 18 49-38 48 32 39-4 49 14 39 5 39-16 39-5 49 7 39-8 39 46 39 40 58 95" stroke="#0000ff"/>
<path d="M6026 2712l20-80 29-10 19-20 30-38 19-7 29-215 20-221 29-23 20-73 29-104 19-86 20-275 29-38 20 169 29-393 19 93 30-92 19 122 29-64 20-221 29-269 19 135 30 343 19-47 29-26 20-5 29-69 20 25 29 34 19-53 20 86 29-27 20-70 29-43 19-56 30 104 19 35 29 24 20-25 29 74 20-97 29-7 19-15 29-49 20-31 29 57 20-44 29-24 19 3 30 60 48-34 49 4 49 22 49 119 48 172 49 232 49 237 48 226 49 147 49 105 49 70 48 90 49 74 49 79 49 53 48 86 49 61 49 128 48 78 49 82 49 56 49 80 58 113 20 36 243 271 20-4 48 45 49 6 49-47 49 37 48 4 49 8 49-50 48 49 49 3 49 2 49-27 48 26 39-3 49-6 39 4 39 12 39-27 49 10 39 14 39-19 39 64 58 109" stroke="#0000ff"/>
<path d="M6026 2687l20-129 29-89 19 204 30-151 19-114 29-343 20-303 29 119 20-50 29 58 19-402 20-166 29-50 20 371 29-452 19-124 30-102 19 264 29-63 20-450 29-151 19 177 30 446 19 38 29-59 20-121 29 31 20-55 29 13 19 105 20 116 29-101 20-90 29-100 19-29 30 145 19 107 29 67 20-35 29-14 20-72 29 14 19-29 29 29 20-73 29 34 20 21 29-70 19 70 30 11 48 17 49 6 49 54 49 117 48 177 49 281 49 253 48 198 49 163 49 127 49 74 48 52 49 105 49 60 49 74 48 63 49 90 49 104 48 76 49 76 49 36 49 103 58 98 20-7 243 263 20-11 48-6 49 25 49-25 49 16 48 17 49-10 49-26 48 37 49 32 49 4 49 0 48-65 39 23 49-33 39 29 39-15 39 23 49-4 39 3 39 2 39 45 58 131" stroke="#0000e6"/>
<path d="M6026 2010l20 68 29-58 19-116 30 316 19-113 29-388 20-31 29-76 20 103 29 35 19-118 20-336 29 118 20 100 29-314 19-88 30-39 19 259 29 13 20-335 29-282 19 238 30 406 19-61 29-53 20 6 29-13 20-56 29 42 19 78 20 97 29-108 20-28 29-147 19 101 30 63 19 68 29 28 20-49 29 37 20-64 29 7 19-7 29-45 20-41 29 35 20 12 29-67 19-20 30 72 48 16 49 25 49 35 49 55 48 178 49 214 49 287 48 156 49 201 49 42 49 88 48 62 49 68 49 43 49 110 48 49 49 116 49 75 48 53 49 105 49 37 49 57 58 143 20 29 243 279 20-18 48-6 49 28 49 5 49-19 48 26 49-16 49-3 48 34 49-8 49-8 49 11 48-17 39-15 49 20 39-8 39-2 39 20 49-42 39 59 39 17 39 0 58 128" stroke="#0000ff"/>
<path d="M6026 2309l20-36 29-63 19 132 30-122 19 52 29-455 20-60 29 13 20-117 29 258 19-372 20-237 29 95 20 121 29-325 19-104 30-143 19 476 29-185 20-379 29-190 19 163 30 460 19-11 29-84 20 22 29-36 20-35 29 58 19 59 20-17 29 33 20-178 29 42 19 52 30 46 19 82 29-26 20 27 29 7 20-58 29-12 19-80 29 37 20-55 29 25 20 5 29-35 19 61 30-13 48 42 49 15 49 13 49 81 48 227 49 224 49 214 48 200 49 170 49 96 49 91 48 55 49 82 49 66 49 60 48 86 49 80 49 108 48 53 49 50 49 84 49 95 58 76 20 29 243 273 20 0 48 19 49-25 49 30 49 24 48-34 49 0 49-10 48 12 49 20 49-19 49 19 48-8 39 12 49-44 39 10 39 23 39-15 49 28 39-8 39-3 39 31 58 115" stroke="#0000fa"/>
<path d="M6026 2835l20-361 29-239 19 193 30-231 19 144 29-155 20-292 29 6 20-62 29 74 19-253 20-204 29 39 20 12 29-198 19-57 30-178 19 210 29-44 20-203 29-227 19 162 30 304 19 36 29 1 20-171 29-4 20 58 29-10 19 34 20 52 29-65 20-30 29-28 19-9 30 45 19 90 29-17 20-2 29-11 20-28 29 0 19-30 29 9 20-4 29-22 20-53 29-20 19 79 30-14 48 33 49-25 49 55 49 51 48 230 49 247 49 278 48 182 49 180 49 90 49 29 48 106 49 63 49 79 49 70 48 78 49 50 49 119 48 61 49 90 49 64 49 91 58 119 20 9 243 262 20 35 48 7 49-37 49 19 49-30 48 14 49 21 49 15 48-38 49 3 49 34 49-28 48 37 39-27 49-21 39 30 39 3 39 0 49-14 39-6 39 28 39 27 58 128" stroke="#0000ff"/>
<path d="M6026 3162l20-183 29-279 19 217 30-131 19-150 29-282 20-279 29 14 20-26 29 72 19-371 20 6 29-200 20 65 29-248 19 34 30-204 19 225 29-179 20-61 29-302 19 225 30 134 19-4 29-70 20 33 29-26 20 12 29-40 19 17 20 37 29-9 20-78 29-78 19 24 30 122 19 1 29 34 20 51 29-110 20-21 29 12 19-54 29-19 20-25 29-7 20 7 29-19 19-10 30 58 48-28 49 10 49 48 49 84 48 204 49 238 49 234 48 242 49 181 49 89 49 72 48 43 49 97 49 70 49 90 48 82 49 106 49 52 48 102 49 96 49 44 49 92 58 109 20 30 243 264 20 13 48 24 49 15 49-22 49 19 48-20 49 0 49 5 48-9 49 16 49-26 49 8 48 27 39-26 49 29 39-38 39 59 39-35 49 11 39 9 39-5 39 75 58 110" stroke="#0000ff"/>
<path d="M6026 3184l20-211 29-340 19-84 30 65 19-102 29-310 20-47 29-190 20-20 29 77 19-263 20-187 29 75 20 33 29-352 19 96 30-93 19 45 29-114 20-197 29-184 19 222 30 250 19-48 29-31 20-62 29 5 20-42 29 27 19 16 20 11 29-23 20-69 29-11 19 24 30 95 19 37 29-37 20 11 29-14 20-21 29-1 19 3 29-61 20-49 29 57 20-84 29 9 19 4 30-14 48 37 49-13 49 38 49 98 48 193 49 233 49 253 48 165 49 202 49 103 49 78 48 31 49 94 49 96 49 59 48 105 49 73 49 79 48 84 49 91 49 60 49 99 58 82 20 44 243 285 20 18 48 3 49-2 49-15 49 6 48 2 49 15 49-26 48 36 49-3 49 5 49-25 48 17 39 7 49-36 39 46 39-2 39 12 49-18 39-2 39 36 39 46 58 92" stroke="#0000ff"/>
<path d="M6026 2910l20-65 29-240 19-3 30 73 19-129 29-325 20-146 29-110 20-21 29 150 19-320 20-390 29 172 20 93 29-583 19 31 30-210 19 364 29 24 20-425 29-256 19 151 30 669 19-188 29-84 20-23 29-36 20-23 29 96 19-23 20 88 29-72 20-77 29-151 19 77 30 103 19 88 29 61 20-29 29-52 20-14 29 40 19-50 29-88 20 4 29 17 20 47 29-75 19 56 30-29 48 24 49 44 49 36 49 60 48 232 49 264 49 243 48 207 49 197 49 111 49 52 48 84 49 45 49 69 49 91 48 103 49 80 49 90 48 99 49 39 49 64 49 103 58 48 20 73 243 278 20-22 48 13 49 14 49-38 49 14 48-18 49 32 49-8 48-17 49 50 49-17 49-3 48 4 39-3 49-29 39 7 39 7 39-6 49 3 39 28 39-11 39 61 58 113" stroke="#0000f1"/>
<path d="M6026 2369l20-113 29-175 19 232 30 13 19-165 29-280 20-34 29-14 20 94 29-221 19 29 20-394 29 189 20-30 29-338 19 121 30-168 19 228 29-90 20-242 29-222 19 192 30 375 19-86 29-25 20-3 29-9 20-55 29 9 19 138 20-31 29-54 20 16 29-98 19 36 30 66 19 32 29 95 20-20 29-6 20-55 29-63 19 45 29-35 20-43 29-1 20 9 29-26 19 31 30-8 48 47 49-34 49 32 49 104 48 172 49 272 49 163 48 240 49 181 49 48 49 94 48 22 49 112 49 67 49 86 48 71 49 71 49 112 48 67 49 77 49 83 49 29 58 109 20 35 243 305 20 6 48-9 49 20 49-23 49 0 48 4 49 0 49 10 48-13 49 16 49-1 49 14 48 4 39-11 49-10 39-15 39 20 39-6 49 12 39 23 39 3 39 38 58 105" stroke="#0000ff"/>
<path d="M6026 2627l20-270 29-101 19 305 30-265 19 5 29-92 20-249 29-220 20-5 29 79 19-300 20-232 29 257 20 34 29-468 19 73 30-136 19 195 29-41 20-319 29-144 19-35 30 549 19-70 29-95 20 7 29 26 20-24 29-59 19 76 20 146 29-57 20-145 29-100 19 104 30 33 19 147 29 38 20-6 29-78 20-22 29-28 19 61 29-115 20 14 29-56 20 66 29 24 19-5 30 32 48-5 49 52 49 23 49 136 48 149 49 294 49 215 48 222 49 184 49 98 49 65 48 72 49 60 49 65 49 73 48 108 49 64 49 120 48 50 49 74 49 87 49 89 58 72 20 10 243 276 20-16 48 31 49-39 49 20 49 12 48 12 49-57 49 72 48-17 49-45 49 59 49-12 48-2 39-49 49 17 39 8 39 12 39 13 49-19 39-19 39 62 39 17 58 94" stroke="#0000e7"/>
<path d="M6026 2655l20 297 29-174 19-238 30 104 19-1 29-453 20-162 29 164 20-214 29-79 19-226 20-126 29 6 20 87 29-340 19-88 30-46 19 263 29-113 20-385 29 4 19 83 30 276 19-106 29 71 20-63 29-31 20-52 29 24 19 105 20 24 29-22 20-140 29-12 19 5 30 68 19 89 29 29 20-11 29-106 20 32 29-42 19 23 29-114 20 20 29 52 20-30 29-48 19 13 30 35 48-4 49 29 49 1 49 130 48 170 49 296 49 238 48 181 49 185 49 93 49 42 48 90 49 46 49 89 49 149 48 46 49 71 49 70 48 91 49 77 49 84 49 67 58 124 20 48 243 237 20 5 48 15 49-21 49 33 49-21 48 9 49 11 49 4 48-12 49 18 49 18 49 2 48 4 39-20 49-22 39-11 39 71 39-36 49 23 39-52 39 52 39 16 58 146" stroke="#0000ff"/>
<path d="M6026 2509l20 58 29-103 19 11 30-57 19 167 29-474 20-151 29 18 20 13 29-177 19-56 20-280 29-18 20 204 29-569 19 166 30-124 19 289 29-125 20-325 29-205 19 182 30 405 19-164 29-6 20-48 29-11 20-34 29 79 19-60 20 145 29-17 20-164 29 3 19 11 30 108 19 36 29 14 20 10 29 10 20-80 29 18 19 3 29-77 20-34 29 34 20 8 29-66 19 58 30 14 48-6 49-2 49 74 49 88 48 177 49 240 49 257 48 233 49 140 49 115 49 52 48 71 49 58 49 79 49 95 48 88 49 96 49 69 48 107 49 49 49 86 49 89 58 77 20 10 243 312 20-41 48 19 49 31 49-35 49 2 48-10 49 2 49 39 48-11 49 20 49-30 49 7 48-9 39-12 49 14 39-22 39 12 39 30 49 0 39 16 39 0 39 34 58 100" stroke="#0000fc"/>
<path d="M6026 2719l20-42 29-341 19 347 30-160 19-35 29-409 20-106 29 113 20-104 29 44 19-323 20-349 29 239 20-23 29-325 19-51 30-175 19 249 29-47 20-418 29-157 19 175 30 401 19-4 29-30 20-74 29-71 20-28 29 43 19 107 20 83 29-29 20-129 29-46 19 58 30 43 19-7 29 104 20 3 29-26 20-45 29 23 19-55 29-33 20-41 29 31 20 5 29-57 19 89 30 27 48-27 49 36 49 25 49 115 48 170 49 273 49 248 48 226 49 139 49 104 49 44 48 101 49 99 49 62 49 75 48 87 49 96 49 54 48 73 49 71 49 97 49 58 58 93 20 56 243 243 20 10 48-31 49 33 49 6 49-6 48 7 49 0 49 13 48-48 49 37 49-2 49 23 48 26 39-44 49-32 39 15 39 22 39-6 49 17 39-18 39 37 39 9 58 113" stroke="#0000f3"/>
<path d="M6026 2645l20-364 29-85 19 46 30-79 19-179 29-2 20-133 29-123 20 2 29 43 19-223 20-260 29 178 20-53 29-173 19-133 30 24 19 206 29-45 20-337 29-165 19 134 30 311 19-19 29-5 20-45 29-28 20 0 29 9 19 89 20 39 29-92 20-8 29-80 19 53 30 84 19 46 29 19 20-49 29 31 20-51 29 1 19-25 29 11 20-91 29 39 20 12 29-53 19 81 30-10 48-29 49 17 49 89 49 65 48 183 49 251 49 227 48 237 49 138 49 112 49 119 48 43 49 51 49 78 49 94 48 96 49 65 49 79 48 94 49 58 49 59 49 89 58 73 20 60 243 280 20-60 48 25 49 7 49 7 49-1 48-35 49 14 49 21 48 8 49 28 49-34 49-3 48 47 39-17 49-32 39 7 39 15 39-7 49 5 39-6 39 10 39 51 58 108" stroke="#0000f3"/>
<path d="M6026 2941l20-218 29-102 19 103 30-214 19-251 29 14 20-324 29 76 20-40 29 31 19-242 20-278 29 1 20 85 29-556 19 188 30-226 19 247 29 66 20-364 29-338 19 266 30 322 19 89 29-104 20-93 29-76 20-71 29 146 19-23 20 92 29-28 20-73 29-70 19 69 30 37 19 94 29-9 20-63 29 94 20-118 29 65 19-34 29-55 20-32 29 11 20-4 29 10 19 48 30-16 48-2 49 45 49 77 49 124 48 151 49 302 49 226 48 237 49 187 49 88 49 73 48 47 49 69 49 78 49 74 48 118 49 79 49 107 48 68 49 86 49 8 49 105 58 97 20 5 243 275 20 13 48 8 49-3 49 2 49 5 48-44 49 6 49 29 48 19 49 4 49-22 49-26 48 13 39 31 49-33 39 20 39 10 39-19 49-52 39 73 39 5 39 62 58 70" stroke="#0000ea"/>
<path d="M6026 2775l20-311 29 79 19-133 30 209 19-129 29-234 20-275 29-268 20 58 29 143 19-247 20-375 29 253 20 46 29-449 19 91 30-208 19 306 29-111 20-424 29-116 19 57 30 491 19-70 29-35 20-31 29-100 20 99 29-21 19 65 20-5 29 13 20-107 29-72 19-28 30 174 19 88 29 29 20-19 29-58 20 66 29-44 19-83 29 30 20-46 29 29 20 10 29-35 19 22 30 31 48 60 49-12 49 51 49 58 48 246 49 242 49 242 48 247 49 125 49 133 49 39 48 82 49 115 49 53 49 61 48 113 49 105 49 17 48 102 49 39 49 108 49 65 58 74 20 73 243 217 20 18 48 4 49-24 49 25 49-29 48 38 49 15 49-47 48 59 49-43 49 31 49 3 48-17 39-33 49 2 39 19 39-28 39 41 49-5 39-1 39 22 39 31 58 128" stroke="#0000e9"/>
<path d="M6026 2368l20-19 29-278 19 196 30 27 19-105 29-265 20 21 29-146 20 38 29 21 19-299 20-33 29-28 20 61 29-323 19-78 30 82 19 152 29-48 20-296 29-203 19 109 30 371 19-99 29 109 20-115 29-12 20-23 29 20 19 81 20 12 29-9 20-57 29-51 19 9 30 46 19 84 29 1 20 27 29-30 20-62 29 37 19-39 29-43 20-39 29 22 20-24 29 1 19 22 30-28 48 32 49 15 49 48 49 81 48 175 49 230 49 225 48 212 49 183 49 104 49 49 48 57 49 82 49 79 49 73 48 64 49 110 49 78 48 69 49 76 49 65 49 86 58 122 20 1 243 299 20 6 48-3 49 36 49-41 49-13 48 58 49-35 49-5 48 15 49-22 49 0 49 57 48-17 39-21 49-9 39 24 39-45 39 20 49 25 39-2 39 24 39 36 58 84" stroke="#0000ff"/>
<path d="M6026 2291l20 229 29-409 19 252 30-240 19 75 29-431 20-121 29 128 20 69 29-163 19-27 20-328 29 10 20 159 29-407 19-79 30-14 19 252 29-7 20-246 29-319 19 174 30 358 19 5 29 7 20-51 29-38 20 4 29 58 19 5 20 49 29-50 20-35 29-80 19 50 30 71 19 28 29 15 20 60 29-43 20-3 29 4 19-33 29-26 20-45 29 39 20-23 29-53 19 76 30-10 48 6 49 23 49 84 49 88 48 195 49 235 49 224 48 236 49 166 49 61 49 74 48 67 49 79 49 73 49 59 48 103 49 74 49 78 48 91 49 68 49 50 49 56 58 111 20 56 243 239 20-4 48 20 49-18 49 11 49 15 48-8 49 26 49-29 48 30 49-33 49 7 49-10 48-16 39 35 49-22 39 9 39 6 39 15 49-10 39-25 39 39 39 78 58 102" stroke="#0000f2"/>
<path d="M6026 2412l20-160 29 124 19 139 30-93 19-198 29-316 20-20 29 64 20-182 29 291 19-346 20-352 29 63 20 182 29-488 19-62 30-77 19 378 29-184 20-387 29-162 19 187 30 331 19 73 29-62 20-21 29-34 20-45 29 64 19 23 20 34 29-32 20-44 29-77 19 75 30 2 19 115 29 68 20 5 29-87 20-8 29-42 19 3 29-37 20-36 29 113 20-105 29 25 19-18 30 43 48 36 49 6 49 80 49 54 48 250 49 203 49 251 48 288 49 125 49 90 49 76 48 62 49 65 49 57 49 113 48 67 49 84 49 77 48 100 49 42 49 56 49 109 58 67 20 76 243 224 20 15 48-41 49 38 49-59 49 32 48 48 49-6 49-24 48 22 49-7 49-2 49-12 48 39 39-34 49-14 39 18 39 4 39-24 49-2 39-1 39 50 39 23 58 93" stroke="#0000eb"/>
<path d="M6026 2812l20-415 29 68 19 154 30-171 19-194 29 36 20-482 29 192 20-129 29 62 19-154 20-301 29 91 20 110 29-491 19-103 30-56 19 193 29 32 20-395 29-256 19 118 30 561 19-59 29-74 20-2 29-62 20-15 29 46 19 66 20 48 29-77 20-9 29-96 19 4 30 130 19 52 29 46 20-24 29 10 20-77 29-6 19-56 29 46 20-54 29 31 20-12 29-47 19 13 30 41 48 3 49 49 49 12 49 120 48 167 49 270 49 251 48 170 49 161 49 134 49 71 48 66 49 106 49 61 49 31 48 95 49 135 49 78 48 55 49 50 49 88 49 95 58 87 20 18 243 276 20-16 48-13 49 26 49-17 49 23 48 24 49-45 49 29 48 31 49-18 49-22 49 27 48-5 39-11 49-38 39 3 39 5 39 13 49 6 39 33 39-16 39 54 58 114" stroke="#0000f4"/>
<path d="M6026 2860l20-261 29-100 19 155 30-147 19-37 29-456 20-60 29-14 20 139 29-223 19-197 20-373 29 238 20 137 29-625 19 74 30 4 19 151 29 11 20-588 29-202 19 348 30 359 19-12 29-61 20 9 29-16 20-137 29 156 19 3 20 26 29-55 20-77 29-153 19 68 30 148 19 74 29 60 20-19 29-86 20-1 29 8 19 17 29 15 20-117 29 55 20-28 29-5 19 8 30 35 48 11 49 37 49 36 49 126 48 181 49 252 49 218 48 314 49 168 49 96 49 25 48 80 49 56 49 124 49 27 48 118 49 65 49 78 48 86 49 86 49 36 49 112 58 78 20 26 243 274 20-34 48 44 49-43 49 6 49 4 48-33 49 5 49 33 48-4 49-8 49-8 49 18 48 16 39 5 49 20 39-27 39-8 39-9 49 6 39 14 39 27 39 9 58 141" stroke="#0000e8"/>
<path d="M6026 2247l20-169 29-170 19 480 30-168 19-46 29-301 20 12 29-278 20 189 29-1 19-127 20-202 29-36 20 96 29-343 19 35 30-145 19 221 29-109 20-257 29-86 19 48 30 376 19 2 29-85 20 44 29-31 20 6 29 31 19-12 20 71 29-107 20-46 29-18 19 52 30 51 19 56 29-6 20 86 29-65 20-33 29-23 19-19 29 5 20-63 29 58 20-53 29-11 19 42 30-19 48 71 49-18 49 49 49 70 48 227 49 239 49 183 48 195 49 202 49 86 49 68 48 77 49 85 49 59 49 74 48 85 49 66 49 114 48 90 49 79 49 62 49 43 58 107 20 7 243 296 20 5 48-41 49 60 49-3 49-27 48 1 49-19 49 57 48-39 49 26 49-21 49 51 48-35 39-17 49-8 39 22 39 4 39-5 49 2 39 3 39-10 39 46 58 133" stroke="#0000f9"/>
<path d="M6026 2688l20-247 29 158 19-191 30 50 19 44 29-682 20 148 29-194 20 130 29-65 19-233 20-222 29 68 20-12 29-365 19-104 30 17 19 393 29-108 20-471 29-114 19 185 30 254 19 108 29-27 20-134 29-56 20-17 29 115 19-11 20 103 29-83 20 43 29-133 19-27 30 105 19 46 29 166 20-147 29-9 20-66 29 60 19-51 29-8 20-25 29 12 20 11 29-45 19 64 30 6 48 35 49 13 49 35 49 148 48 157 49 277 49 262 48 179 49 225 49 72 49 38 48 89 49 101 49 90 49 35 48 88 49 108 49 56 48 78 49 100 49 50 49 23 58 129 20-8 243 311 20-12 48-42 49 64 49-22 49-13 48-37 49 52 49-15 48 29 49-27 49 31 49-26 48 12 39-12 49 0 39-13 39 8 39 24 49 23 39-63 39 29 39 34 58 123" stroke="#0000e9"/>
<path d="M6026 2819l20-372 29-74 19-17 30 181 19-123 29-307 20-170 29-39 20-144 29 104 19 53 20-483 29 1 20 92 29-390 19 3 30-245 19 442 29-185 20-390 29-203 19 111 30 572 19-36 29-78 20-64 29-17 20 19 29 28 19-16 20 78 29-37 20-83 29-108 19 98 30 76 19 130 29-2 20-13 29-37 20 7 29 5 19-27 29 18 20-79 29 7 20-16 29-60 19 79 30 35 48 13 49-7 49 78 49 78 48 295 49 180 49 231 48 227 49 185 49 102 49 89 48 59 49 72 49 105 49 32 48 58 49 144 49 48 48 76 49 86 49 61 49 91 58 73 20 44 243 211 20 30 48-3 49 25 49 30 49-37 48 18 49-43 49 34 48-12 49-5 49-17 49 39 48-11 39-12 49 23 39-33 39 13 39 1 49 3 39-12 39 30 39 27 58 139" stroke="#0000e5"/>
<path d="M6026 2457l20-40 29-253 19-16 30 127 19-131 29-337 20-109 29 38 20 107 29-114 19-283 20-43 29-177 20 192 29-455 19 143 30-103 19 307 29-170 20-346 29-164 19 153 30 368 19 45 29-100 20 65 29-61 20-65 29 69 19 46 20 107 29-79 20-79 29-20 19-39 30 149 19 51 29 54 20-37 29 6 20-72 29-17 19 24 29-40 20-78 29 122 20 2 29-119 19 109 30-79 48 148 49-23 49 24 49 136 48 225 49 209 49 237 48 260 49 165 49 38 49 128 48 10 49 75 49 110 49 50 48 99 49 35 49 118 48 106 49 21 49 74 49 82 58 84 20 27 243 204 20 52 48 12 49-10 49 40 49-56 48-10 49 21 49 12 48 10 49-21 49 20 49-10 48-29 39 46 49-17 39 6 39 5 39-7 49-16 39-2 39 21 39 45 58 93" stroke="#0000e7"/>
<path d="M6026 3089l20-274 29-245 19 126 30 37 19-130 29-244 20-132 29-52 20-217 29 62 19-37 20-364 29 8 20 27 29-200 19 18 30-335 19 380 29-82 20-368 29-203 19 128 30 362 19-54 29 3 20-75 29 5 20-141 29 71 19 88 20 24 29-78 20 2 29-72 19 22 30 49 19 1 29 85 20 17 29-30 20-45 29-4 19-22 29-37 20-74 29 16 20 7 29-49 19 34 30 3 48-13 49 26 49 19 49 120 48 183 49 254 49 241 48 171 49 179 49 107 49 76 48 37 49 60 49 54 49 153 48 62 49 76 49 80 48 110 49 72 49 98 49 42 58 103 20 39 243 307 20-13 48 8 49 14 49-20 49 22 48 15 49 1 49-17 48 19 49 14 49 3 49-10 48 4 39-53 49 52 39 33 39-25 39-5 49-35 39 23 39-2 39 27 58 149" stroke="#0000ff"/>
<path d="M6026 2708l20-107 29 149 19 37 30-317 19 153 29-393 20-202 29-119 20 71 29 24 19-313 20-239 29 0 20 207 29-521 19 43 30-69 19 178 29-46 20-237 29-244 19 93 30 336 19-18 29 17 20-40 29-42 20-56 29 43 19 36 20 68 29-38 20-65 29-76 19 32 30 60 19 67 29-18 20 64 29-19 20-68 29-47 19 33 29 5 20-92 29 66 20-25 29-26 19 57 30-35 48 39 49 44 49 11 49 152 48 181 49 223 49 276 48 201 49 136 49 132 49 85 48 67 49 54 49 68 49 57 48 135 49 77 49 87 48 72 49 94 49 47 49 94 58 65 20 39 243 287 20-43 48 39 49-2 49 22 49-8 48-29 49 30 49-27 48 22 49 3 49 11 49-2 48-23 39 14 49-1 39 18 39 0 39-14 49-10 39 19 39 18 39 17 58 136" stroke="#0000f3"/>
<path d="M6026 2547l20-39 29 90 19-103 30-245 19 112 29-257 20-283 29-15 20 21 29 47 19-353 20-74 29 62 20 71 29-452 19-64 30-30 19 266 29-59 20-527 29-19 19 96 30 503 19-34 29-43 20-83 29 59 20-59 29 74 19 129 20-125 29 29 20-74 29-56 19 11 30 76 19 43 29 64 20 10 29 2 20-51 29-33 19 34 29-56 20-66 29-8 20 75 29-51 19-5 30 77 48-45 49 8 49 34 49 115 48 177 49 251 49 224 48 208 49 156 49 116 49 93 48 42 49 55 49 79 49 93 48 34 49 129 49 81 48 94 49 44 49 62 49 112 58 74 20 8 243 296 20-1 48 13 49 11 49 1 49 2 48-17 49-6 49 19 48 6 49 4 49 5 49 4 48-17 39-2 49-2 39 6 39-4 39-1 49-2 39-13 39 53 39 17 58 113" stroke="#0000fc"/>
<path d="M6026 2606l20-99 29-167 19 220 30 57 19-306 29 6 20-237 29-89 20-147 29 0 19-367 20-49 29 81 20 72 29-316 19-157 30-14 19 279 29-137 20-346 29-249 19 169 30 406 19 13 29 6 20-92 29 22 20-23 29 41 19-25 20 119 29-120 20-39 29-68 19 16 30 46 19 149 29-15 20 31 29-15 20-11 29-44 19-14 29-44 20-70 29 39 20 13 29-81 19 93 30-6 48 3 49 34 49 32 49 92 48 222 49 250 49 180 48 272 49 140 49 130 49 81 48 18 49 118 49 22 49 115 48 104 49 55 49 89 48 66 49 107 49 66 49 70 58 85 20 27 243 263 20 31 48-9 49-14 49 2 49 9 48-23 49 41 49-21 48 0 49-7 49 9 49 19 48-9 39 9 49-53 39 41 39 9 39-15 49-3 39 51 39-29 39 41 58 125" stroke="#0000f8"/>
</g></g>
<line x1="84.5" y1="396.50" x2="484.5" y2="396.50" stroke="#000" stroke-width="0.8" stroke-dasharray="2.57,1.11"/>
<line x1="584.5" y1="393.50" x2="984.5" y2="393.50" stroke="#000" stroke-width="0.8" stroke-dasharray="2.57,1.11"/>
<rect x="84.5" y="30.5" width="400.0" height="385.0" fill="none" stroke="#000" stroke-width="1.1"/>
<rect x="584.5" y="30.5" width="400.0" height="385.0" fill="none" stroke="#000" stroke-width="1.1"/>
<g stroke="#000" stroke-width="1.1">
<line x1="106.5" y1="415.5" x2="106.5" y2="420.4"/>
<line x1="155.5" y1="415.5" x2="155.5" y2="420.4"/>
<line x1="203.5" y1="415.5" x2="203.5" y2="420.4"/>
<line x1="252.5" y1="415.5" x2="252.5" y2="420.4"/>
<line x1="301.5" y1="415.5" x2="301.5" y2="420.4"/>
<line x1="350.5" y1="415.5" x2="350.5" y2="420.4"/>
<line x1="398.5" y1="415.5" x2="398.5" y2="420.4"/>
<line x1="447.5" y1="415.5" x2="447.5" y2="420.4"/>
<line x1="606.5" y1="415.5" x2="606.5" y2="420.4"/>
<line x1="655.5" y1="415.5" x2="655.5" y2="420.4"/>
<line x1="703.5" y1="415.5" x2="703.5" y2="420.4"/>
<line x1="752.5" y1="415.5" x2="752.5" y2="420.4"/>
<line x1="801.5" y1="415.5" x2="801.5" y2="420.4"/>
<line x1="850.5" y1="415.5" x2="850.5" y2="420.4"/>
<line x1="898.5" y1="415.5" x2="898.5" y2="420.4"/>
<line x1="947.5" y1="415.5" x2="947.5" y2="420.4"/>
<line x1="79.6" y1="396.5" x2="84.5" y2="396.5"/>
<line x1="79.6" y1="313.5" x2="84.5" y2="313.5"/>
<line x1="79.6" y1="230.5" x2="84.5" y2="230.5"/>
<line x1="79.6" y1="147.5" x2="84.5" y2="147.5"/>
<line x1="79.6" y1="64.5" x2="84.5" y2="64.5"/>
<line x1="579.6" y1="393.5" x2="584.5" y2="393.5"/>
<line x1="579.6" y1="342.5" x2="584.5" y2="342.5"/>
<line x1="579.6" y1="290.5" x2="584.5" y2="290.5"/>
<line x1="579.6" y1="239.5" x2="584.5" y2="239.5"/>
<line x1="579.6" y1="188.5" x2="584.5" y2="188.5"/>
<line x1="579.6" y1="136.5" x2="584.5" y2="136.5"/>
<line x1="579.6" y1="85.5" x2="584.5" y2="85.5"/>
<line x1="579.6" y1="34.5" x2="584.5" y2="34.5"/>
<line x1="1025.5" y1="349.5" x2="1030.4" y2="349.5"/>
<line x1="1025.5" y1="283.5" x2="1030.4" y2="283.5"/>
<line x1="1025.5" y1="216.5" x2="1030.4" y2="216.5"/>
<line x1="1025.5" y1="150.5" x2="1030.4" y2="150.5"/>
<line x1="1025.5" y1="83.5" x2="1030.4" y2="83.5"/>
</g>
<g text-anchor="middle">
<text x="106.5" y="435.8">350</text>
<text x="155.2" y="435.8">400</text>
<text x="204.0" y="435.8">450</text>
<text x="252.7" y="435.8">500</text>
<text x="301.4" y="435.8">550</text>
<text x="350.1" y="435.8">600</text>
<text x="398.9" y="435.8">650</text>
<text x="447.6" y="435.8">700</text>
<text x="606.5" y="435.8">350</text>
<text x="655.2" y="435.8">400</text>
<text x="704.0" y="435.8">450</text>
<text x="752.7" y="435.8">500</text>
<text x="801.4" y="435.8">550</text>
<text x="850.1" y="435.8">600</text>
<text x="898.9" y="435.8">650</text>
<text x="947.6" y="435.8">700</text>
</g>
<g text-anchor="end">
<text x="73.9" y="402.0">0.000</text>
<text x="73.9" y="318.9">0.005</text>
<text x="73.9" y="235.8">0.010</text>
<text x="73.9" y="152.8">0.015</text>
<text x="73.9" y="69.7">0.020</text>
<text x="573.9" y="399.0">0.000</text>
<text x="573.9" y="347.7">0.001</text>
<text x="573.9" y="296.3">0.002</text>
<text x="573.9" y="245.0">0.003</text>
<text x="573.9" y="193.7">0.004</text>
<text x="573.9" y="142.4">0.005</text>
<text x="573.9" y="91.0">0.006</text>
<text x="573.9" y="39.7">0.007</text>
</g>
<text x="1034.8" y="355.4">480</text>
<text x="1034.8" y="288.8">500</text>
<text x="1034.8" y="222.2">520</text>
<text x="1034.8" y="155.6">540</text>
<text x="1034.8" y="89.0">560</text>
<g text-anchor="middle">
<text x="284.5" y="455.6">Wavelength (nm)</text>
<text x="784.5" y="455.6">Wavelength (nm)</text>
<text x="283.5" y="21.7" font-size="16.67px">Raw Rrs Spectra Along Transect</text>
<text x="783.5" y="21.7" font-size="16.67px">Area-Normalized Rrs Spectra</text>
<text transform="translate(24.5,224.5) rotate(-90)">Rrs sr<tspan font-size="9.7px" dy="-5.5">−1</tspan></text>
<text transform="translate(524.5,224.4) rotate(-90)">Normalized Rrs</text>
<text transform="translate(1081,223.0) rotate(-90)" font-size="16.67px">AVW (nm)</text>
</g>
<rect x="1006.5" y="30.5" width="19.0" height="385.0" fill="url(#jet)" stroke="#000" stroke-width="1.1"/>
</svg>
</body></html>
